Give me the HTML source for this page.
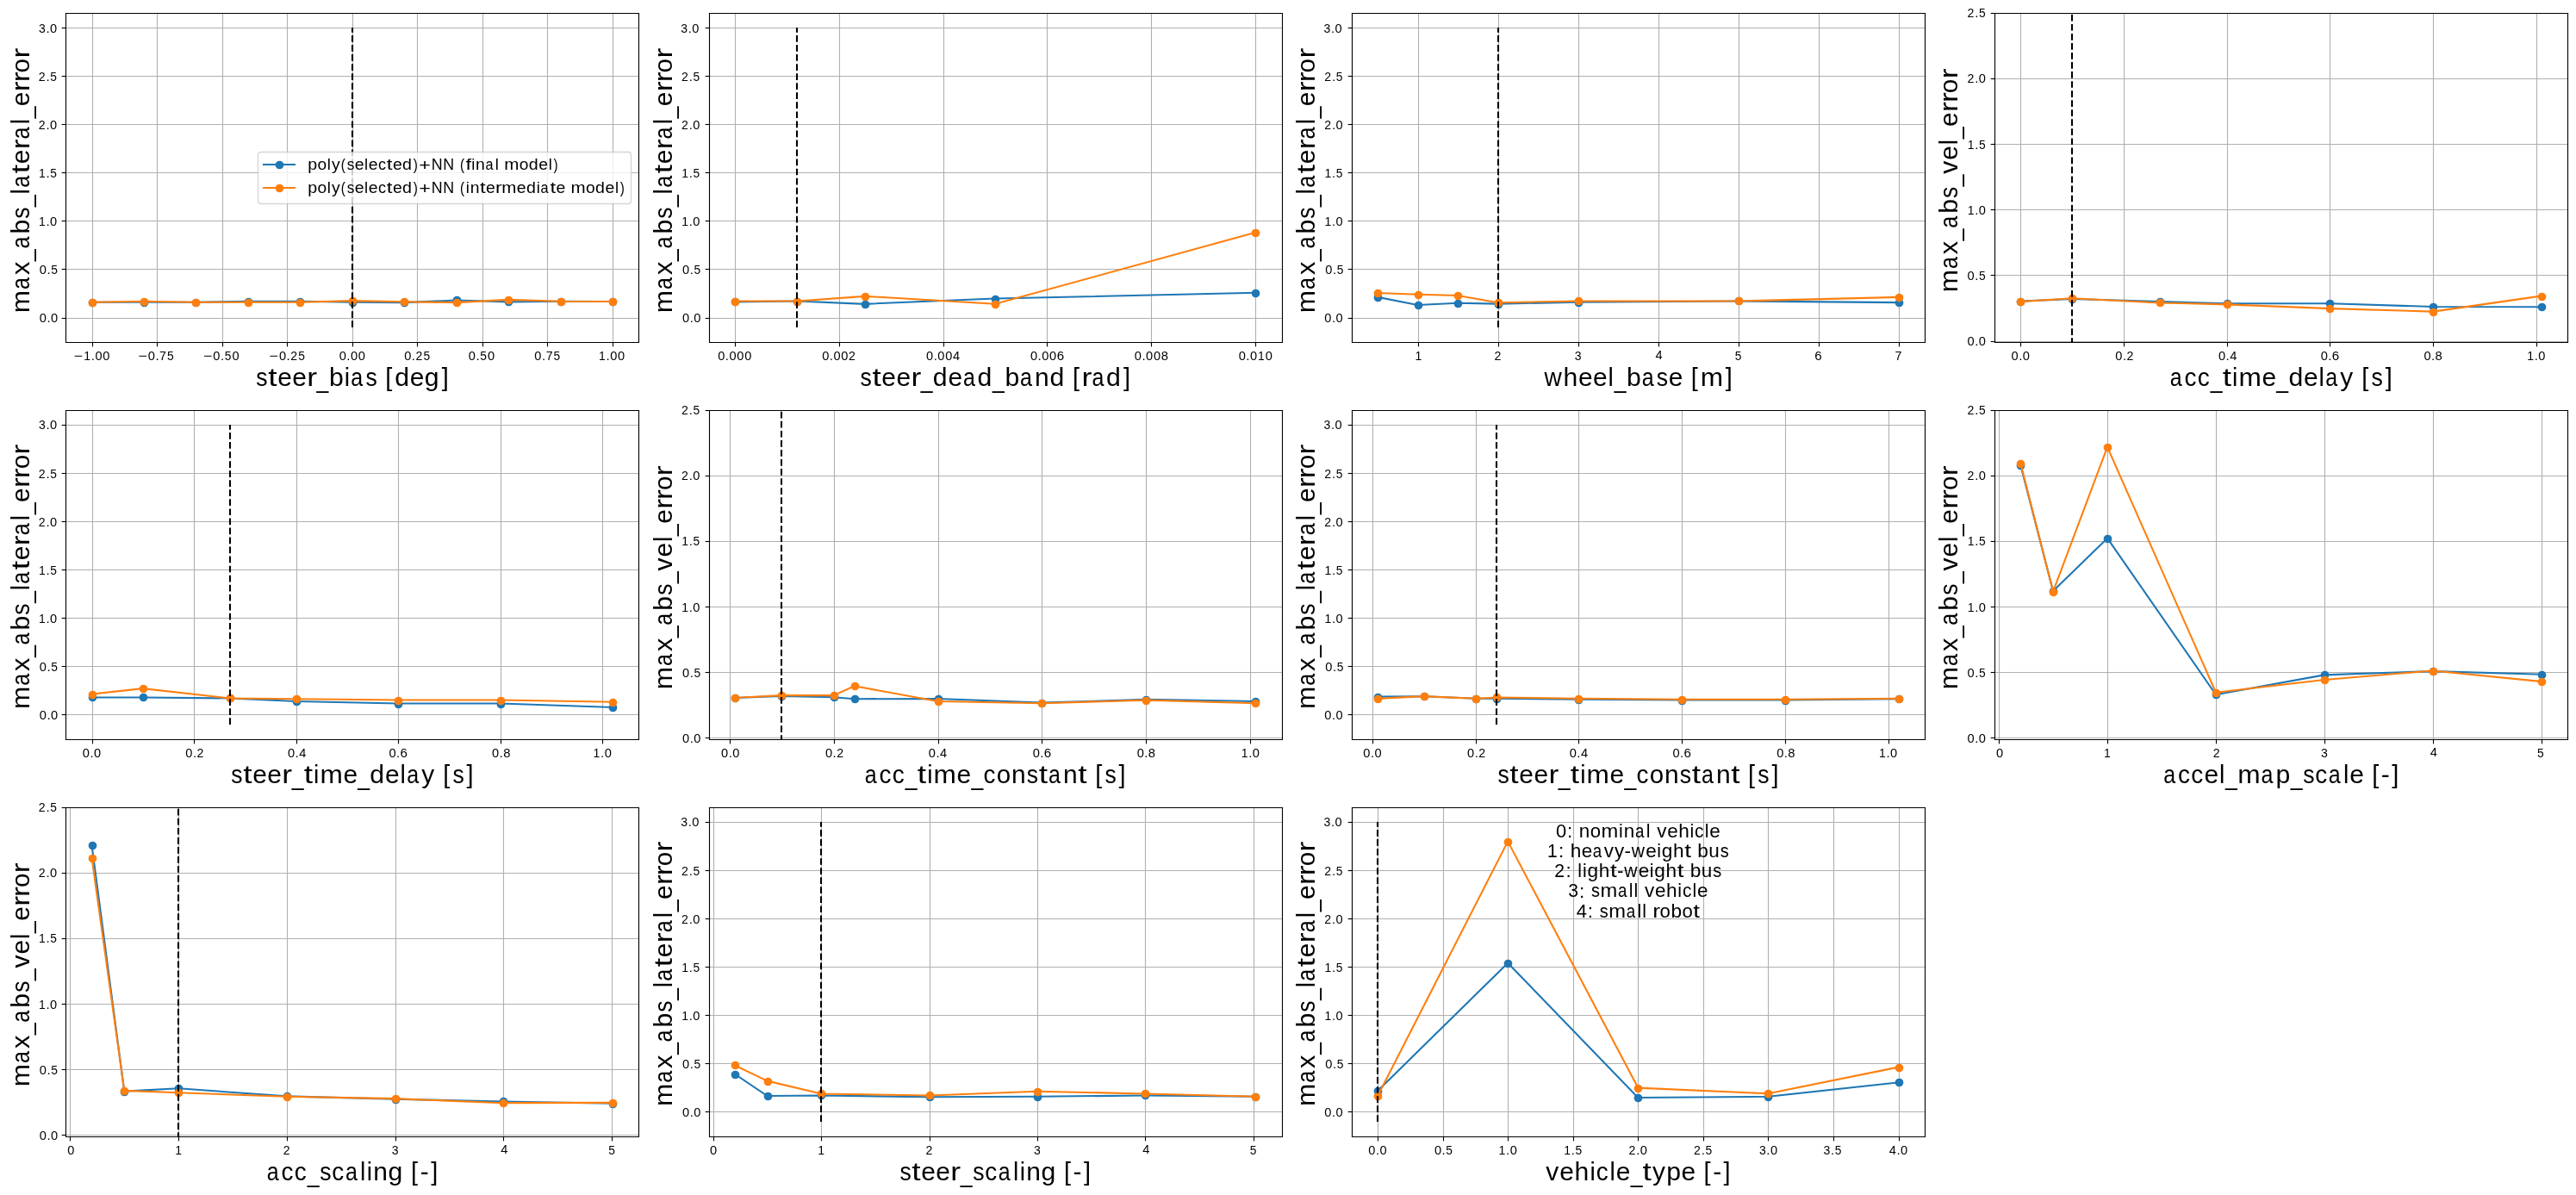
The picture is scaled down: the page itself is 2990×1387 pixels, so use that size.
<!DOCTYPE html>
<html><head><meta charset="utf-8"><title>Sensitivity plots</title>
<style>html,body{margin:0;padding:0;background:#fff;}svg{display:block;}svg{will-change:transform}</style>
</head><body>
<svg width="2990" height="1387" viewBox="0 0 2152.8 998.64" version="1.1">
<defs>
<style type="text/css">*{stroke-linejoin: round; stroke-linecap: butt}</style>
</defs>
<g id="figure_1">
<g id="patch_1">
<path d="M 0 998.64
L 2152.8 998.64
L 2152.8 0
L 0 0
z
" style="fill: #ffffff"/>
</g>
<g id="axes_1">
<g id="patch_2">
<path d="M 54.936 285.9336
L 533.7144 285.9336
L 533.7144 10.6056
L 54.936 10.6056
z
" style="fill: #ffffff"/>
</g>
<g id="matplotlib.axis_1">
<g id="xtick_1">
<g id="line2d_1">
<path d="M 77.4 286.2 L 77.4 11.16" clip-path="url(#pb34036a975)" style="fill: none; stroke: #b0b0b0; stroke-width: 0.8; stroke-linecap: square"/>
</g>
<g id="line2d_2">
<defs>
<path id="m1504cfccaf" d="M 0 0
L 0 3.5
" style="stroke: #000000; stroke-width: 0.8"/>
</defs>
<g>
<use href="#m1504cfccaf" x="77.4" y="286.2" style="stroke: #000000; stroke-width: 0.8"/>
</g>
</g>
<g id="text_1">
<text style="font-size: 10.600px; font-family: 'Liberation Sans', sans-serif" transform="translate(76.6987 300.8536)" y="0"><tspan x="-14.8981" dy="0.195" textLength="7.5243" lengthAdjust="spacingAndGlyphs">−</tspan><tspan x="-6.6116" dy="-0.195" textLength="5.5993" lengthAdjust="spacingAndGlyphs">1</tspan><tspan x="-0.4997" textLength="3.0063" lengthAdjust="spacingAndGlyphs">.</tspan><tspan x="2.8451" textLength="5.8626" lengthAdjust="spacingAndGlyphs">0</tspan><tspan x="9.2074" textLength="5.8626" lengthAdjust="spacingAndGlyphs">0</tspan></text>
</g>
</g>
<g id="xtick_2">
<g id="line2d_3">
<path d="M 131.4 286.2 L 131.4 11.16" clip-path="url(#pb34036a975)" style="fill: none; stroke: #b0b0b0; stroke-width: 0.8; stroke-linecap: square"/>
</g>
<g id="line2d_4">
<g>
<use href="#m1504cfccaf" x="131.4" y="286.2" style="stroke: #000000; stroke-width: 0.8"/>
</g>
</g>
<g id="text_2">
<text style="font-size: 10.600px; font-family: 'Liberation Sans', sans-serif" transform="translate(130.3853 300.8536)" y="0"><tspan x="-14.8981" dy="0.195" textLength="7.5243" lengthAdjust="spacingAndGlyphs">−</tspan><tspan x="-6.696" dy="-0.195" textLength="5.8626" lengthAdjust="spacingAndGlyphs">0</tspan><tspan x="-0.4997" textLength="3.0063" lengthAdjust="spacingAndGlyphs">.</tspan><tspan x="2.8893" textLength="5.7348" lengthAdjust="spacingAndGlyphs">7</tspan><tspan x="9.3331" textLength="5.5329" lengthAdjust="spacingAndGlyphs">5</tspan></text>
</g>
</g>
<g id="xtick_3">
<g id="line2d_5">
<path d="M 186.12 286.2 L 186.12 11.16" clip-path="url(#pb34036a975)" style="fill: none; stroke: #b0b0b0; stroke-width: 0.8; stroke-linecap: square"/>
</g>
<g id="line2d_6">
<g>
<use href="#m1504cfccaf" x="186.12" y="286.2" style="stroke: #000000; stroke-width: 0.8"/>
</g>
</g>
<g id="text_3">
<text style="font-size: 10.600px; font-family: 'Liberation Sans', sans-serif" transform="translate(184.7919 300.8536)" y="0"><tspan x="-14.8981" dy="0.195" textLength="7.5243" lengthAdjust="spacingAndGlyphs">−</tspan><tspan x="-6.696" dy="-0.195" textLength="5.8626" lengthAdjust="spacingAndGlyphs">0</tspan><tspan x="-0.4997" textLength="3.0063" lengthAdjust="spacingAndGlyphs">.</tspan><tspan x="2.9708" textLength="5.5329" lengthAdjust="spacingAndGlyphs">5</tspan><tspan x="9.2074" textLength="5.8626" lengthAdjust="spacingAndGlyphs">0</tspan></text>
</g>
</g>
<g id="xtick_4">
<g id="line2d_7">
<path d="M 240.12 286.2 L 240.12 11.16" clip-path="url(#pb34036a975)" style="fill: none; stroke: #b0b0b0; stroke-width: 0.8; stroke-linecap: square"/>
</g>
<g id="line2d_8">
<g>
<use href="#m1504cfccaf" x="240.12" y="286.2" style="stroke: #000000; stroke-width: 0.8"/>
</g>
</g>
<g id="text_4">
<text style="font-size: 10.600px; font-family: 'Liberation Sans', sans-serif" transform="translate(239.9186 300.8536)" y="0"><tspan x="-14.8981" dy="0.195" textLength="7.5243" lengthAdjust="spacingAndGlyphs">−</tspan><tspan x="-6.696" dy="-0.195" textLength="5.8626" lengthAdjust="spacingAndGlyphs">0</tspan><tspan x="-0.4997" textLength="3.0063" lengthAdjust="spacingAndGlyphs">.</tspan><tspan x="2.8191" textLength="5.6509" lengthAdjust="spacingAndGlyphs">2</tspan><tspan x="9.3331" textLength="5.5329" lengthAdjust="spacingAndGlyphs">5</tspan></text>
</g>
</g>
<g id="xtick_5">
<g id="line2d_9">
<path d="M 294.84 286.2 L 294.84 11.16" clip-path="url(#pb34036a975)" style="fill: none; stroke: #b0b0b0; stroke-width: 0.8; stroke-linecap: square"/>
</g>
<g id="line2d_10">
<g>
<use href="#m1504cfccaf" x="294.84" y="286.2" style="stroke: #000000; stroke-width: 0.8"/>
</g>
</g>
<g id="text_5">
<text style="font-size: 10.600px; font-family: 'Liberation Sans', sans-serif" transform="translate(294.3252 300.8536)" y="0"><tspan x="-10.8854" textLength="5.8626" lengthAdjust="spacingAndGlyphs">0</tspan><tspan x="-4.6892" textLength="3.0063" lengthAdjust="spacingAndGlyphs">.</tspan><tspan x="-1.3444" textLength="5.8626" lengthAdjust="spacingAndGlyphs">0</tspan><tspan x="5.0179" textLength="5.8626" lengthAdjust="spacingAndGlyphs">0</tspan></text>
</g>
</g>
<g id="xtick_6">
<g id="line2d_11">
<path d="M 348.84 286.2 L 348.84 11.16" clip-path="url(#pb34036a975)" style="fill: none; stroke: #b0b0b0; stroke-width: 0.8; stroke-linecap: square"/>
</g>
<g id="line2d_12">
<g>
<use href="#m1504cfccaf" x="348.84" y="286.2" style="stroke: #000000; stroke-width: 0.8"/>
</g>
</g>
<g id="text_6">
<text style="font-size: 10.600px; font-family: 'Liberation Sans', sans-serif" transform="translate(348.7318 300.8536)" y="0"><tspan x="-10.8854" textLength="5.8626" lengthAdjust="spacingAndGlyphs">0</tspan><tspan x="-4.6892" textLength="3.0063" lengthAdjust="spacingAndGlyphs">.</tspan><tspan x="-1.3704" textLength="5.6509" lengthAdjust="spacingAndGlyphs">2</tspan><tspan x="5.1437" textLength="5.5329" lengthAdjust="spacingAndGlyphs">5</tspan></text>
</g>
</g>
<g id="xtick_7">
<g id="line2d_13">
<path d="M 403.56 286.2 L 403.56 11.16" clip-path="url(#pb34036a975)" style="fill: none; stroke: #b0b0b0; stroke-width: 0.8; stroke-linecap: square"/>
</g>
<g id="line2d_14">
<g>
<use href="#m1504cfccaf" x="403.56" y="286.2" style="stroke: #000000; stroke-width: 0.8"/>
</g>
</g>
<g id="text_7">
<text style="font-size: 10.600px; font-family: 'Liberation Sans', sans-serif" transform="translate(402.4185 300.8536)" y="0"><tspan x="-10.8854" textLength="5.8626" lengthAdjust="spacingAndGlyphs">0</tspan><tspan x="-4.6892" textLength="3.0063" lengthAdjust="spacingAndGlyphs">.</tspan><tspan x="-1.2186" textLength="5.5329" lengthAdjust="spacingAndGlyphs">5</tspan><tspan x="5.0179" textLength="5.8626" lengthAdjust="spacingAndGlyphs">0</tspan></text>
</g>
</g>
<g id="xtick_8">
<g id="line2d_15">
<path d="M 457.56 286.2 L 457.56 11.16" clip-path="url(#pb34036a975)" style="fill: none; stroke: #b0b0b0; stroke-width: 0.8; stroke-linecap: square"/>
</g>
<g id="line2d_16">
<g>
<use href="#m1504cfccaf" x="457.56" y="286.2" style="stroke: #000000; stroke-width: 0.8"/>
</g>
</g>
<g id="text_8">
<text style="font-size: 10.600px; font-family: 'Liberation Sans', sans-serif" transform="translate(457.5451 300.8536)" y="0"><tspan x="-10.8854" textLength="5.8626" lengthAdjust="spacingAndGlyphs">0</tspan><tspan x="-4.6892" textLength="3.0063" lengthAdjust="spacingAndGlyphs">.</tspan><tspan x="-1.3001" textLength="5.7348" lengthAdjust="spacingAndGlyphs">7</tspan><tspan x="5.1437" textLength="5.5329" lengthAdjust="spacingAndGlyphs">5</tspan></text>
</g>
</g>
<g id="xtick_9">
<g id="line2d_17">
<path d="M 512.28 286.2 L 512.28 11.16" clip-path="url(#pb34036a975)" style="fill: none; stroke: #b0b0b0; stroke-width: 0.8; stroke-linecap: square"/>
</g>
<g id="line2d_18">
<g>
<use href="#m1504cfccaf" x="512.28" y="286.2" style="stroke: #000000; stroke-width: 0.8"/>
</g>
</g>
<g id="text_9">
<text style="font-size: 10.600px; font-family: 'Liberation Sans', sans-serif" transform="translate(511.2317 300.8536)" y="0"><tspan x="-10.8011" textLength="5.5993" lengthAdjust="spacingAndGlyphs">1</tspan><tspan x="-4.6892" textLength="3.0063" lengthAdjust="spacingAndGlyphs">.</tspan><tspan x="-1.3444" textLength="5.8626" lengthAdjust="spacingAndGlyphs">0</tspan><tspan x="5.0179" textLength="5.8626" lengthAdjust="spacingAndGlyphs">0</tspan></text>
</g>
</g>
<g id="text_10">
<text style="font-size: 21.200px; font-family: 'Liberation Sans', sans-serif" transform="translate(294.3252 322.8536)" y="0"><tspan x="-80.2894" textLength="9.5857" lengthAdjust="spacingAndGlyphs">s</tspan><tspan x="-70.2874" textLength="7.4266" lengthAdjust="spacingAndGlyphs">t</tspan><tspan x="-62.3923" textLength="12.0143" lengthAdjust="spacingAndGlyphs">e</tspan><tspan x="-50.0876" textLength="12.0143" lengthAdjust="spacingAndGlyphs">e</tspan><tspan x="-37.854" textLength="8.5333" lengthAdjust="spacingAndGlyphs">r</tspan><tspan x="-29.6714" dy="1.44" textLength="9.9203" lengthAdjust="spacingAndGlyphs">_</tspan><tspan x="-19.3321" dy="-1.44" textLength="12.1013" lengthAdjust="spacingAndGlyphs">b</tspan><tspan x="-6.5336" textLength="4.5421" lengthAdjust="spacingAndGlyphs">i</tspan><tspan x="-1.057" textLength="10.0023" lengthAdjust="spacingAndGlyphs">a</tspan><tspan x="11.3121" textLength="9.5857" lengthAdjust="spacingAndGlyphs">s</tspan><tspan> </tspan><tspan x="27.7725" dy="-0.3991" textLength="5.7887" lengthAdjust="spacingAndGlyphs">[</tspan><tspan x="35.5325" dy="0.3991" textLength="12.0892" lengthAdjust="spacingAndGlyphs">d</tspan><tspan x="48.2229" textLength="12.0143" lengthAdjust="spacingAndGlyphs">e</tspan><tspan x="60.5325" textLength="12.0892" lengthAdjust="spacingAndGlyphs">g</tspan><tspan x="74.8177" dy="-0.3991" textLength="5.7887" lengthAdjust="spacingAndGlyphs">]</tspan></text>
</g>
</g>
<g id="matplotlib.axis_2">
<g id="ytick_1">
<g id="line2d_19">
<path d="M 55.08 266.04 L 533.88 266.04" clip-path="url(#pb34036a975)" style="fill: none; stroke: #b0b0b0; stroke-width: 0.8; stroke-linecap: square"/>
</g>
<g id="line2d_20">
<defs>
<path id="m5d545ce8f8" d="M 0 0
L -3.5 0
" style="stroke: #000000; stroke-width: 0.8"/>
</defs>
<g>
<use href="#m5d545ce8f8" x="55.08" y="266.04" style="stroke: #000000; stroke-width: 0.8"/>
</g>
</g>
<g id="text_11">
<text style="font-size: 10.600px; font-family: 'Liberation Sans', sans-serif" transform="translate(48.656 269.3046)" y="0"><tspan x="-15.6559" textLength="5.8626" lengthAdjust="spacingAndGlyphs">0</tspan><tspan x="-9.4597" textLength="3.0063" lengthAdjust="spacingAndGlyphs">.</tspan><tspan x="-6.1149" textLength="5.8626" lengthAdjust="spacingAndGlyphs">0</tspan></text>
</g>
</g>
<g id="ytick_2">
<g id="line2d_21">
<path d="M 55.08 225 L 533.88 225" clip-path="url(#pb34036a975)" style="fill: none; stroke: #b0b0b0; stroke-width: 0.8; stroke-linecap: square"/>
</g>
<g id="line2d_22">
<g>
<use href="#m5d545ce8f8" x="55.08" y="225" style="stroke: #000000; stroke-width: 0.8"/>
</g>
</g>
<g id="text_12">
<text style="font-size: 10.600px; font-family: 'Liberation Sans', sans-serif" transform="translate(48.656 228.9339)" y="0"><tspan x="-15.6559" textLength="5.8626" lengthAdjust="spacingAndGlyphs">0</tspan><tspan x="-9.4597" textLength="3.0063" lengthAdjust="spacingAndGlyphs">.</tspan><tspan x="-5.9891" textLength="5.5329" lengthAdjust="spacingAndGlyphs">5</tspan></text>
</g>
</g>
<g id="ytick_3">
<g id="line2d_23">
<path d="M 55.08 184.68 L 533.88 184.68" clip-path="url(#pb34036a975)" style="fill: none; stroke: #b0b0b0; stroke-width: 0.8; stroke-linecap: square"/>
</g>
<g id="line2d_24">
<g>
<use href="#m5d545ce8f8" x="55.08" y="184.68" style="stroke: #000000; stroke-width: 0.8"/>
</g>
</g>
<g id="text_13">
<text style="font-size: 10.600px; font-family: 'Liberation Sans', sans-serif" transform="translate(47.936 188.5632)" y="0"><tspan x="-15.5716" textLength="5.5993" lengthAdjust="spacingAndGlyphs">1</tspan><tspan x="-9.4597" textLength="3.0063" lengthAdjust="spacingAndGlyphs">.</tspan><tspan x="-6.1149" textLength="5.8626" lengthAdjust="spacingAndGlyphs">0</tspan></text>
</g>
</g>
<g id="ytick_4">
<g id="line2d_25">
<path d="M 55.08 144.36 L 533.88 144.36" clip-path="url(#pb34036a975)" style="fill: none; stroke: #b0b0b0; stroke-width: 0.8; stroke-linecap: square"/>
</g>
<g id="line2d_26">
<g>
<use href="#m5d545ce8f8" x="55.08" y="144.36" style="stroke: #000000; stroke-width: 0.8"/>
</g>
</g>
<g id="text_14">
<text style="font-size: 10.600px; font-family: 'Liberation Sans', sans-serif" transform="translate(47.936 148.1925)" y="0"><tspan x="-15.5716" textLength="5.5993" lengthAdjust="spacingAndGlyphs">1</tspan><tspan x="-9.4597" textLength="3.0063" lengthAdjust="spacingAndGlyphs">.</tspan><tspan x="-5.9891" textLength="5.5329" lengthAdjust="spacingAndGlyphs">5</tspan></text>
</g>
</g>
<g id="ytick_5">
<g id="line2d_27">
<path d="M 55.08 104.04 L 533.88 104.04" clip-path="url(#pb34036a975)" style="fill: none; stroke: #b0b0b0; stroke-width: 0.8; stroke-linecap: square"/>
</g>
<g id="line2d_28">
<g>
<use href="#m5d545ce8f8" x="55.08" y="104.04" style="stroke: #000000; stroke-width: 0.8"/>
</g>
</g>
<g id="text_15">
<text style="font-size: 10.600px; font-family: 'Liberation Sans', sans-serif" transform="translate(47.936 107.8219)" y="0"><tspan x="-15.6819" textLength="5.6509" lengthAdjust="spacingAndGlyphs">2</tspan><tspan x="-9.4597" textLength="3.0063" lengthAdjust="spacingAndGlyphs">.</tspan><tspan x="-6.1149" textLength="5.8626" lengthAdjust="spacingAndGlyphs">0</tspan></text>
</g>
</g>
<g id="ytick_6">
<g id="line2d_29">
<path d="M 55.08 63.72 L 533.88 63.72" clip-path="url(#pb34036a975)" style="fill: none; stroke: #b0b0b0; stroke-width: 0.8; stroke-linecap: square"/>
</g>
<g id="line2d_30">
<g>
<use href="#m5d545ce8f8" x="55.08" y="63.72" style="stroke: #000000; stroke-width: 0.8"/>
</g>
</g>
<g id="text_16">
<text style="font-size: 10.600px; font-family: 'Liberation Sans', sans-serif" transform="translate(47.936 67.4512)" y="0"><tspan x="-15.6819" textLength="5.6509" lengthAdjust="spacingAndGlyphs">2</tspan><tspan x="-9.4597" textLength="3.0063" lengthAdjust="spacingAndGlyphs">.</tspan><tspan x="-5.9891" textLength="5.5329" lengthAdjust="spacingAndGlyphs">5</tspan></text>
</g>
</g>
<g id="ytick_7">
<g id="line2d_31">
<path d="M 55.08 23.4 L 533.88 23.4" clip-path="url(#pb34036a975)" style="fill: none; stroke: #b0b0b0; stroke-width: 0.8; stroke-linecap: square"/>
</g>
<g id="line2d_32">
<g>
<use href="#m5d545ce8f8" x="55.08" y="23.4" style="stroke: #000000; stroke-width: 0.8"/>
</g>
</g>
<g id="text_17">
<text style="font-size: 10.600px; font-family: 'Liberation Sans', sans-serif" transform="translate(47.936 27.0805)" y="0"><tspan x="-15.5272" textLength="5.6303" lengthAdjust="spacingAndGlyphs">3</tspan><tspan x="-9.4597" textLength="3.0063" lengthAdjust="spacingAndGlyphs">.</tspan><tspan x="-6.1149" textLength="5.8626" lengthAdjust="spacingAndGlyphs">0</tspan></text>
</g>
</g>
<g id="text_18">
<text style="font-size: 21.200px; font-family: 'Liberation Sans', sans-serif" transform="translate(24.48 151.1496) rotate(-90)" y="0"><tspan x="-110.3335" textLength="18.9821" lengthAdjust="spacingAndGlyphs">m</tspan><tspan x="-90.7171" textLength="10.0023" lengthAdjust="spacingAndGlyphs">a</tspan><tspan x="-78.5714" textLength="11.093" lengthAdjust="spacingAndGlyphs">x</tspan><tspan x="-66.9878" dy="1.44" textLength="9.9203" lengthAdjust="spacingAndGlyphs">_</tspan><tspan x="-56.6253" dy="-1.44" textLength="10.0023" lengthAdjust="spacingAndGlyphs">a</tspan><tspan x="-44.3927" textLength="12.1013" lengthAdjust="spacingAndGlyphs">b</tspan><tspan x="-31.5609" textLength="9.5857" lengthAdjust="spacingAndGlyphs">s</tspan><tspan x="-21.6167" dy="1.44" textLength="9.9203" lengthAdjust="spacingAndGlyphs">_</tspan><tspan x="-11.1842" dy="-1.44" textLength="4.5421" lengthAdjust="spacingAndGlyphs">l</tspan><tspan x="-5.6976" textLength="10.0023" lengthAdjust="spacingAndGlyphs">a</tspan><tspan x="6.2536" textLength="7.4266" lengthAdjust="spacingAndGlyphs">t</tspan><tspan x="14.1487" textLength="12.0143" lengthAdjust="spacingAndGlyphs">e</tspan><tspan x="26.3823" textLength="8.5333" lengthAdjust="spacingAndGlyphs">r</tspan><tspan x="34.9274" textLength="10.0023" lengthAdjust="spacingAndGlyphs">a</tspan><tspan x="47.2533" textLength="4.5421" lengthAdjust="spacingAndGlyphs">l</tspan><tspan x="52.3774" dy="1.44" textLength="9.9203" lengthAdjust="spacingAndGlyphs">_</tspan><tspan x="62.4886" dy="-1.44" textLength="12.0143" lengthAdjust="spacingAndGlyphs">e</tspan><tspan x="74.7222" textLength="8.5333" lengthAdjust="spacingAndGlyphs">r</tspan><tspan x="82.5698" textLength="8.5333" lengthAdjust="spacingAndGlyphs">r</tspan><tspan x="90.3884" textLength="11.8247" lengthAdjust="spacingAndGlyphs">o</tspan><tspan x="102.5288" textLength="8.5333" lengthAdjust="spacingAndGlyphs">r</tspan></text>
</g>
</g>
<g id="line2d_33">
<path d="M 76.698655 252.587423
L 120.223964 252.587423
L 163.749273 252.587423
L 207.274582 251.860751
L 250.799891 251.860751
L 294.3252 252.587423
L 337.850509 252.829647
L 381.375818 250.891855
L 424.901127 252.264457
L 468.426436 251.860751
L 511.951745 252.022233
" clip-path="url(#pb34036a975)" style="fill: none; stroke: #1f77b4; stroke-width: 1.5; stroke-linecap: square"/>
<defs>
<path id="mf14c53ed57" d="M 0 3
C 0.795609 3 1.55874 2.683901 2.12132 2.12132
C 2.683901 1.55874 3 0.795609 3 0
C 3 -0.795609 2.683901 -1.55874 2.12132 -2.12132
C 1.55874 -2.683901 0.795609 -3 0 -3
C -0.795609 -3 -1.55874 -2.683901 -2.12132 -2.12132
C -2.683901 -1.55874 -3 -0.795609 -3 0
C -3 0.795609 -2.683901 1.55874 -2.12132 2.12132
C -1.55874 2.683901 -0.795609 3 0 3
z
" style="stroke: #1f77b4"/>
</defs>
<g clip-path="url(#pb34036a975)">
<use href="#mf14c53ed57" x="77.4" y="253.08" style="fill: #1f77b4; stroke: #1f77b4"/>
<use href="#mf14c53ed57" x="120.6" y="253.08" style="fill: #1f77b4; stroke: #1f77b4"/>
<use href="#mf14c53ed57" x="163.8" y="253.08" style="fill: #1f77b4; stroke: #1f77b4"/>
<use href="#mf14c53ed57" x="207.72" y="252.36" style="fill: #1f77b4; stroke: #1f77b4"/>
<use href="#mf14c53ed57" x="250.92" y="252.36" style="fill: #1f77b4; stroke: #1f77b4"/>
<use href="#mf14c53ed57" x="294.84" y="253.08" style="fill: #1f77b4; stroke: #1f77b4"/>
<use href="#mf14c53ed57" x="338.04" y="253.08" style="fill: #1f77b4; stroke: #1f77b4"/>
<use href="#mf14c53ed57" x="381.96" y="250.92" style="fill: #1f77b4; stroke: #1f77b4"/>
<use href="#mf14c53ed57" x="425.16" y="252.36" style="fill: #1f77b4; stroke: #1f77b4"/>
<use href="#mf14c53ed57" x="469.08" y="252.36" style="fill: #1f77b4; stroke: #1f77b4"/>
<use href="#mf14c53ed57" x="512.28" y="252.36" style="fill: #1f77b4; stroke: #1f77b4"/>
</g>
</g>
<g id="line2d_34">
<path d="M 76.698655 252.587423
L 120.223964 251.860751
L 163.749273 252.587423
L 207.274582 252.587423
L 250.799891 252.587423
L 294.3252 251.376303
L 337.850509 252.183716
L 381.375818 252.829647
L 424.901127 250.488148
L 468.426436 251.860751
L 511.951745 252.022233
" clip-path="url(#pb34036a975)" style="fill: none; stroke: #ff7f0e; stroke-width: 1.5; stroke-linecap: square"/>
<defs>
<path id="mcd47077251" d="M 0 3
C 0.795609 3 1.55874 2.683901 2.12132 2.12132
C 2.683901 1.55874 3 0.795609 3 0
C 3 -0.795609 2.683901 -1.55874 2.12132 -2.12132
C 1.55874 -2.683901 0.795609 -3 0 -3
C -0.795609 -3 -1.55874 -2.683901 -2.12132 -2.12132
C -2.683901 -1.55874 -3 -0.795609 -3 0
C -3 0.795609 -2.683901 1.55874 -2.12132 2.12132
C -1.55874 2.683901 -0.795609 3 0 3
z
" style="stroke: #ff7f0e"/>
</defs>
<g clip-path="url(#pb34036a975)">
<use href="#mcd47077251" x="77.4" y="253.08" style="fill: #ff7f0e; stroke: #ff7f0e"/>
<use href="#mcd47077251" x="120.6" y="252.36" style="fill: #ff7f0e; stroke: #ff7f0e"/>
<use href="#mcd47077251" x="163.8" y="253.08" style="fill: #ff7f0e; stroke: #ff7f0e"/>
<use href="#mcd47077251" x="207.72" y="253.08" style="fill: #ff7f0e; stroke: #ff7f0e"/>
<use href="#mcd47077251" x="250.92" y="253.08" style="fill: #ff7f0e; stroke: #ff7f0e"/>
<use href="#mcd47077251" x="294.84" y="251.64" style="fill: #ff7f0e; stroke: #ff7f0e"/>
<use href="#mcd47077251" x="338.04" y="252.36" style="fill: #ff7f0e; stroke: #ff7f0e"/>
<use href="#mcd47077251" x="381.96" y="253.08" style="fill: #ff7f0e; stroke: #ff7f0e"/>
<use href="#mcd47077251" x="425.16" y="250.92" style="fill: #ff7f0e; stroke: #ff7f0e"/>
<use href="#mcd47077251" x="469.08" y="252.36" style="fill: #ff7f0e; stroke: #ff7f0e"/>
<use href="#mcd47077251" x="512.28" y="252.36" style="fill: #ff7f0e; stroke: #ff7f0e"/>
</g>
</g>
<g id="line2d_35">
<path d="M 294.48 273.6 L 294.48 23.04" clip-path="url(#pb34036a975)" style="fill: none; stroke-dasharray: 5.55,2.4; stroke-dashoffset: 0; stroke: #000000; stroke-width: 1.5"/>
</g>
<g id="patch_3">
<path d="M 55.08 286.2 L 55.08 11.16" style="fill: none; stroke: #000000; stroke-width: 0.8; stroke-linejoin: miter; stroke-linecap: square"/>
</g>
<g id="patch_4">
<path d="M 533.88 286.2 L 533.88 11.16" style="fill: none; stroke: #000000; stroke-width: 0.8; stroke-linejoin: miter; stroke-linecap: square"/>
</g>
<g id="patch_5">
<path d="M 55.08 286.2 L 533.88 286.2" style="fill: none; stroke: #000000; stroke-width: 0.8; stroke-linejoin: miter; stroke-linecap: square"/>
</g>
<g id="patch_6">
<path d="M 55.08 11.16 L 533.88 11.16" style="fill: none; stroke: #000000; stroke-width: 0.8; stroke-linejoin: miter; stroke-linecap: square"/>
</g>
<g id="legend_1">
<g id="patch_7">
<path d="M 218.52 170.28 L 525.24 170.28 Q 527.4 170.28 527.4 167.4 L 527.4 129.96 Q 527.4 127.08 525.24 127.08 L 218.52 127.08 Q 215.64 127.08 215.64 129.96 L 215.64 167.4 Q 215.64 170.28 218.52 170.28 z" style="fill: #ffffff; opacity: 0.8; stroke: #cccccc; stroke-linejoin: miter"/>
</g>
<g id="line2d_36">
<path d="M 220.32 137.52 L 233.28 137.52 L 246.24 137.52" style="fill: none; stroke: #1f77b4; stroke-width: 1.5; stroke-linecap: square"/>
<g>
<use href="#mf14c53ed57" x="233.64" y="137.88" style="fill: #1f77b4; stroke: #1f77b4"/>
</g>
</g>
<g id="text_19">
<text style="font-size: 13.780px; font-family: 'Liberation Sans', sans-serif" transform="translate(256.9644 142.1396)" y="0"><tspan x="0.2691" textLength="7.8658" lengthAdjust="spacingAndGlyphs">p</tspan><tspan x="8.3889" textLength="7.6861" lengthAdjust="spacingAndGlyphs">o</tspan><tspan x="16.5352" textLength="2.9524" lengthAdjust="spacingAndGlyphs">l</tspan><tspan x="20.1705" textLength="6.9803" lengthAdjust="spacingAndGlyphs">y</tspan><tspan x="27.9465" dy="-0.2545" textLength="3.6594" lengthAdjust="spacingAndGlyphs">(</tspan><tspan x="32.9403" dy="0.2545" textLength="6.2307" lengthAdjust="spacingAndGlyphs">s</tspan><tspan x="39.4763" textLength="7.8093" lengthAdjust="spacingAndGlyphs">e</tspan><tspan x="47.6832" textLength="2.9524" lengthAdjust="spacingAndGlyphs">l</tspan><tspan x="51.0861" textLength="7.8093" lengthAdjust="spacingAndGlyphs">e</tspan><tspan x="59.1265" textLength="6.5221" lengthAdjust="spacingAndGlyphs">c</tspan><tspan x="66.197" textLength="4.8273" lengthAdjust="spacingAndGlyphs">t</tspan><tspan x="71.3288" textLength="7.8093" lengthAdjust="spacingAndGlyphs">e</tspan><tspan x="79.33" textLength="7.858" lengthAdjust="spacingAndGlyphs">d</tspan><tspan x="88.4346" dy="-0.2545" textLength="3.6594" lengthAdjust="spacingAndGlyphs">)</tspan><tspan x="93.0894" dy="0.508" textLength="9.7816" lengthAdjust="spacingAndGlyphs">+</tspan><tspan x="103.6449" dy="-0.2535" textLength="9.2733" lengthAdjust="spacingAndGlyphs">N</tspan><tspan x="113.3695" textLength="9.2733" lengthAdjust="spacingAndGlyphs">N</tspan><tspan> </tspan><tspan x="127.4397" dy="-0.2545" textLength="3.6594" lengthAdjust="spacingAndGlyphs">(</tspan><tspan x="132.1323" dy="0.2545" textLength="4.7426" lengthAdjust="spacingAndGlyphs">f</tspan><tspan x="136.9885" textLength="2.9524" lengthAdjust="spacingAndGlyphs">i</tspan><tspan x="140.5141" textLength="7.7951" lengthAdjust="spacingAndGlyphs">n</tspan><tspan x="148.7876" textLength="6.5015" lengthAdjust="spacingAndGlyphs">a</tspan><tspan x="156.7994" textLength="2.9524" lengthAdjust="spacingAndGlyphs">l</tspan><tspan> </tspan><tspan x="164.4109" textLength="12.3384" lengthAdjust="spacingAndGlyphs">m</tspan><tspan x="177.0144" textLength="7.6861" lengthAdjust="spacingAndGlyphs">o</tspan><tspan x="184.955" textLength="7.858" lengthAdjust="spacingAndGlyphs">d</tspan><tspan x="193.2038" textLength="7.8093" lengthAdjust="spacingAndGlyphs">e</tspan><tspan x="201.4107" textLength="2.9524" lengthAdjust="spacingAndGlyphs">l</tspan><tspan x="205.6695" dy="-0.2545" textLength="3.6594" lengthAdjust="spacingAndGlyphs">)</tspan></text>
</g>
<g id="line2d_37">
<path d="M 220.32 156.96 L 233.28 156.96 L 246.24 156.96" style="fill: none; stroke: #ff7f0e; stroke-width: 1.5; stroke-linecap: square"/>
<g>
<use href="#mcd47077251" x="233.64" y="157.32" style="fill: #ff7f0e; stroke: #ff7f0e"/>
</g>
</g>
<g id="text_20">
<text style="font-size: 13.780px; font-family: 'Liberation Sans', sans-serif" transform="translate(256.9644 161.5996)" y="0"><tspan x="0.2691" textLength="7.8658" lengthAdjust="spacingAndGlyphs">p</tspan><tspan x="8.3889" textLength="7.6861" lengthAdjust="spacingAndGlyphs">o</tspan><tspan x="16.5352" textLength="2.9524" lengthAdjust="spacingAndGlyphs">l</tspan><tspan x="20.1705" textLength="6.9803" lengthAdjust="spacingAndGlyphs">y</tspan><tspan x="27.9465" dy="-0.2545" textLength="3.6594" lengthAdjust="spacingAndGlyphs">(</tspan><tspan x="32.9403" dy="0.2545" textLength="6.2307" lengthAdjust="spacingAndGlyphs">s</tspan><tspan x="39.4763" textLength="7.8093" lengthAdjust="spacingAndGlyphs">e</tspan><tspan x="47.6832" textLength="2.9524" lengthAdjust="spacingAndGlyphs">l</tspan><tspan x="51.0861" textLength="7.8093" lengthAdjust="spacingAndGlyphs">e</tspan><tspan x="59.1265" textLength="6.5221" lengthAdjust="spacingAndGlyphs">c</tspan><tspan x="66.197" textLength="4.8273" lengthAdjust="spacingAndGlyphs">t</tspan><tspan x="71.3288" textLength="7.8093" lengthAdjust="spacingAndGlyphs">e</tspan><tspan x="79.33" textLength="7.858" lengthAdjust="spacingAndGlyphs">d</tspan><tspan x="88.4346" dy="-0.2545" textLength="3.6594" lengthAdjust="spacingAndGlyphs">)</tspan><tspan x="93.0894" dy="0.508" textLength="9.7816" lengthAdjust="spacingAndGlyphs">+</tspan><tspan x="103.6449" dy="-0.2535" textLength="9.2733" lengthAdjust="spacingAndGlyphs">N</tspan><tspan x="113.3695" textLength="9.2733" lengthAdjust="spacingAndGlyphs">N</tspan><tspan> </tspan><tspan x="127.4397" dy="-0.2545" textLength="3.6594" lengthAdjust="spacingAndGlyphs">(</tspan><tspan x="132.4118" dy="0.2545" textLength="2.9524" lengthAdjust="spacingAndGlyphs">i</tspan><tspan x="135.9374" textLength="7.7951" lengthAdjust="spacingAndGlyphs">n</tspan><tspan x="144.0129" textLength="4.8273" lengthAdjust="spacingAndGlyphs">t</tspan><tspan x="149.1447" textLength="7.8093" lengthAdjust="spacingAndGlyphs">e</tspan><tspan x="157.0966" textLength="5.5467" lengthAdjust="spacingAndGlyphs">r</tspan><tspan x="162.3138" textLength="12.3384" lengthAdjust="spacingAndGlyphs">m</tspan><tspan x="174.9011" textLength="7.8093" lengthAdjust="spacingAndGlyphs">e</tspan><tspan x="182.9023" textLength="7.858" lengthAdjust="spacingAndGlyphs">d</tspan><tspan x="191.3664" textLength="2.9524" lengthAdjust="spacingAndGlyphs">i</tspan><tspan x="194.9263" textLength="6.5015" lengthAdjust="spacingAndGlyphs">a</tspan><tspan x="202.6945" textLength="4.8273" lengthAdjust="spacingAndGlyphs">t</tspan><tspan x="207.8264" textLength="7.8093" lengthAdjust="spacingAndGlyphs">e</tspan><tspan> </tspan><tspan x="220.033" textLength="12.3384" lengthAdjust="spacingAndGlyphs">m</tspan><tspan x="232.6365" textLength="7.6861" lengthAdjust="spacingAndGlyphs">o</tspan><tspan x="240.5771" textLength="7.858" lengthAdjust="spacingAndGlyphs">d</tspan><tspan x="248.8259" textLength="7.8093" lengthAdjust="spacingAndGlyphs">e</tspan><tspan x="257.0328" textLength="2.9524" lengthAdjust="spacingAndGlyphs">l</tspan><tspan x="261.2916" dy="-0.2545" textLength="3.6594" lengthAdjust="spacingAndGlyphs">)</tspan></text>
</g>
</g>
</g>
<g id="axes_2">
<g id="patch_8">
<path d="M 592.236 285.9336
L 1071.0144 285.9336
L 1071.0144 10.6056
L 592.236 10.6056
z
" style="fill: #ffffff"/>
</g>
<g id="matplotlib.axis_3">
<g id="xtick_10">
<g id="line2d_38">
<path d="M 614.52 286.2 L 614.52 11.16" clip-path="url(#pd9bde08748)" style="fill: none; stroke: #b0b0b0; stroke-width: 0.8; stroke-linecap: square"/>
</g>
<g id="line2d_39">
<g>
<use href="#m1504cfccaf" x="614.52" y="286.2" style="stroke: #000000; stroke-width: 0.8"/>
</g>
</g>
<g id="text_21">
<text style="font-size: 10.600px; font-family: 'Liberation Sans', sans-serif" transform="translate(613.9987 300.8536)" y="0"><tspan x="-14.0666" textLength="5.8626" lengthAdjust="spacingAndGlyphs">0</tspan><tspan x="-7.8703" textLength="3.0063" lengthAdjust="spacingAndGlyphs">.</tspan><tspan x="-4.5255" textLength="5.8626" lengthAdjust="spacingAndGlyphs">0</tspan><tspan x="1.8368" textLength="5.8626" lengthAdjust="spacingAndGlyphs">0</tspan><tspan x="8.1991" textLength="5.8626" lengthAdjust="spacingAndGlyphs">0</tspan></text>
</g>
</g>
<g id="xtick_11">
<g id="line2d_40">
<path d="M 701.64 286.2 L 701.64 11.16" clip-path="url(#pd9bde08748)" style="fill: none; stroke: #b0b0b0; stroke-width: 0.8; stroke-linecap: square"/>
</g>
<g id="line2d_41">
<g>
<use href="#m1504cfccaf" x="701.64" y="286.2" style="stroke: #000000; stroke-width: 0.8"/>
</g>
</g>
<g id="text_22">
<text style="font-size: 10.600px; font-family: 'Liberation Sans', sans-serif" transform="translate(701.0493 300.8536)" y="0"><tspan x="-14.0666" textLength="5.8626" lengthAdjust="spacingAndGlyphs">0</tspan><tspan x="-7.8703" textLength="3.0063" lengthAdjust="spacingAndGlyphs">.</tspan><tspan x="-4.5255" textLength="5.8626" lengthAdjust="spacingAndGlyphs">0</tspan><tspan x="1.8368" textLength="5.8626" lengthAdjust="spacingAndGlyphs">0</tspan><tspan x="8.1731" textLength="5.6509" lengthAdjust="spacingAndGlyphs">2</tspan></text>
</g>
</g>
<g id="xtick_12">
<g id="line2d_42">
<path d="M 788.76 286.2 L 788.76 11.16" clip-path="url(#pd9bde08748)" style="fill: none; stroke: #b0b0b0; stroke-width: 0.8; stroke-linecap: square"/>
</g>
<g id="line2d_43">
<g>
<use href="#m1504cfccaf" x="788.76" y="286.2" style="stroke: #000000; stroke-width: 0.8"/>
</g>
</g>
<g id="text_23">
<text style="font-size: 10.600px; font-family: 'Liberation Sans', sans-serif" transform="translate(788.0999 300.8536)" y="0"><tspan x="-14.0666" textLength="5.8626" lengthAdjust="spacingAndGlyphs">0</tspan><tspan x="-7.8703" textLength="3.0063" lengthAdjust="spacingAndGlyphs">.</tspan><tspan x="-4.5255" textLength="5.8626" lengthAdjust="spacingAndGlyphs">0</tspan><tspan x="1.8368" textLength="5.8626" lengthAdjust="spacingAndGlyphs">0</tspan><tspan x="8.198" textLength="5.8633" lengthAdjust="spacingAndGlyphs">4</tspan></text>
</g>
</g>
<g id="xtick_13">
<g id="line2d_44">
<path d="M 875.16 286.2 L 875.16 11.16" clip-path="url(#pd9bde08748)" style="fill: none; stroke: #b0b0b0; stroke-width: 0.8; stroke-linecap: square"/>
</g>
<g id="line2d_45">
<g>
<use href="#m1504cfccaf" x="875.16" y="286.2" style="stroke: #000000; stroke-width: 0.8"/>
</g>
</g>
<g id="text_24">
<text style="font-size: 10.600px; font-family: 'Liberation Sans', sans-serif" transform="translate(875.1505 300.8536)" y="0"><tspan x="-14.0666" textLength="5.8626" lengthAdjust="spacingAndGlyphs">0</tspan><tspan x="-7.8703" textLength="3.0063" lengthAdjust="spacingAndGlyphs">.</tspan><tspan x="-4.5255" textLength="5.8626" lengthAdjust="spacingAndGlyphs">0</tspan><tspan x="1.8368" textLength="5.8626" lengthAdjust="spacingAndGlyphs">0</tspan><tspan x="8.0959" textLength="6.0677" lengthAdjust="spacingAndGlyphs">6</tspan></text>
</g>
</g>
<g id="xtick_14">
<g id="line2d_46">
<path d="M 962.28 286.2 L 962.28 11.16" clip-path="url(#pd9bde08748)" style="fill: none; stroke: #b0b0b0; stroke-width: 0.8; stroke-linecap: square"/>
</g>
<g id="line2d_47">
<g>
<use href="#m1504cfccaf" x="962.28" y="286.2" style="stroke: #000000; stroke-width: 0.8"/>
</g>
</g>
<g id="text_25">
<text style="font-size: 10.600px; font-family: 'Liberation Sans', sans-serif" transform="translate(962.2011 300.8536)" y="0"><tspan x="-14.0666" textLength="5.8626" lengthAdjust="spacingAndGlyphs">0</tspan><tspan x="-7.8703" textLength="3.0063" lengthAdjust="spacingAndGlyphs">.</tspan><tspan x="-4.5255" textLength="5.8626" lengthAdjust="spacingAndGlyphs">0</tspan><tspan x="1.8368" textLength="5.8626" lengthAdjust="spacingAndGlyphs">0</tspan><tspan x="8.1673" textLength="5.9261" lengthAdjust="spacingAndGlyphs">8</tspan></text>
</g>
</g>
<g id="xtick_15">
<g id="line2d_48">
<path d="M 1049.4 286.2 L 1049.4 11.16" clip-path="url(#pd9bde08748)" style="fill: none; stroke: #b0b0b0; stroke-width: 0.8; stroke-linecap: square"/>
</g>
<g id="line2d_49">
<g>
<use href="#m1504cfccaf" x="1049.4" y="286.2" style="stroke: #000000; stroke-width: 0.8"/>
</g>
</g>
<g id="text_26">
<text style="font-size: 10.600px; font-family: 'Liberation Sans', sans-serif" transform="translate(1049.2517 300.8536)" y="0"><tspan x="-14.0666" textLength="5.8626" lengthAdjust="spacingAndGlyphs">0</tspan><tspan x="-7.8703" textLength="3.0063" lengthAdjust="spacingAndGlyphs">.</tspan><tspan x="-4.5255" textLength="5.8626" lengthAdjust="spacingAndGlyphs">0</tspan><tspan x="1.9211" textLength="5.5993" lengthAdjust="spacingAndGlyphs">1</tspan><tspan x="8.1991" textLength="5.8626" lengthAdjust="spacingAndGlyphs">0</tspan></text>
</g>
</g>
<g id="text_27">
<text style="font-size: 21.200px; font-family: 'Liberation Sans', sans-serif" transform="translate(831.6252 322.8536)" y="0"><tspan x="-112.7015" textLength="9.5857" lengthAdjust="spacingAndGlyphs">s</tspan><tspan x="-102.6995" textLength="7.4266" lengthAdjust="spacingAndGlyphs">t</tspan><tspan x="-94.8044" textLength="12.0143" lengthAdjust="spacingAndGlyphs">e</tspan><tspan x="-82.4997" textLength="12.0143" lengthAdjust="spacingAndGlyphs">e</tspan><tspan x="-70.2661" textLength="8.5333" lengthAdjust="spacingAndGlyphs">r</tspan><tspan x="-62.0835" dy="1.44" textLength="9.9203" lengthAdjust="spacingAndGlyphs">_</tspan><tspan x="-51.9675" dy="-1.44" textLength="12.0892" lengthAdjust="spacingAndGlyphs">d</tspan><tspan x="-39.2771" textLength="12.0143" lengthAdjust="spacingAndGlyphs">e</tspan><tspan x="-26.721" textLength="10.0023" lengthAdjust="spacingAndGlyphs">a</tspan><tspan x="-14.7116" textLength="12.0892" lengthAdjust="spacingAndGlyphs">d</tspan><tspan x="-2.1323" dy="1.44" textLength="9.9203" lengthAdjust="spacingAndGlyphs">_</tspan><tspan x="8.2069" dy="-1.44" textLength="12.1013" lengthAdjust="spacingAndGlyphs">b</tspan><tspan x="20.9255" textLength="10.0023" lengthAdjust="spacingAndGlyphs">a</tspan><tspan x="33.1286" textLength="11.9924" lengthAdjust="spacingAndGlyphs">n</tspan><tspan x="45.6106" textLength="12.0892" lengthAdjust="spacingAndGlyphs">d</tspan><tspan> </tspan><tspan x="64.7061" dy="-0.3991" textLength="5.7887" lengthAdjust="spacingAndGlyphs">[</tspan><tspan x="72.3901" dy="0.3991" textLength="8.5333" lengthAdjust="spacingAndGlyphs">r</tspan><tspan x="80.9352" textLength="10.0023" lengthAdjust="spacingAndGlyphs">a</tspan><tspan x="92.9446" textLength="12.0892" lengthAdjust="spacingAndGlyphs">d</tspan><tspan x="107.2298" dy="-0.3991" textLength="5.7887" lengthAdjust="spacingAndGlyphs">]</tspan></text>
</g>
</g>
<g id="matplotlib.axis_4">
<g id="ytick_8">
<g id="line2d_50">
<path d="M 592.92 266.04 L 1071.72 266.04" clip-path="url(#pd9bde08748)" style="fill: none; stroke: #b0b0b0; stroke-width: 0.8; stroke-linecap: square"/>
</g>
<g id="line2d_51">
<g>
<use href="#m5d545ce8f8" x="592.92" y="266.04" style="stroke: #000000; stroke-width: 0.8"/>
</g>
</g>
<g id="text_28">
<text style="font-size: 10.600px; font-family: 'Liberation Sans', sans-serif" transform="translate(585.956 269.3046)" y="0"><tspan x="-15.6559" textLength="5.8626" lengthAdjust="spacingAndGlyphs">0</tspan><tspan x="-9.4597" textLength="3.0063" lengthAdjust="spacingAndGlyphs">.</tspan><tspan x="-6.1149" textLength="5.8626" lengthAdjust="spacingAndGlyphs">0</tspan></text>
</g>
</g>
<g id="ytick_9">
<g id="line2d_52">
<path d="M 592.92 225 L 1071.72 225" clip-path="url(#pd9bde08748)" style="fill: none; stroke: #b0b0b0; stroke-width: 0.8; stroke-linecap: square"/>
</g>
<g id="line2d_53">
<g>
<use href="#m5d545ce8f8" x="592.92" y="225" style="stroke: #000000; stroke-width: 0.8"/>
</g>
</g>
<g id="text_29">
<text style="font-size: 10.600px; font-family: 'Liberation Sans', sans-serif" transform="translate(585.956 228.9339)" y="0"><tspan x="-15.6559" textLength="5.8626" lengthAdjust="spacingAndGlyphs">0</tspan><tspan x="-9.4597" textLength="3.0063" lengthAdjust="spacingAndGlyphs">.</tspan><tspan x="-5.9891" textLength="5.5329" lengthAdjust="spacingAndGlyphs">5</tspan></text>
</g>
</g>
<g id="ytick_10">
<g id="line2d_54">
<path d="M 592.92 184.68 L 1071.72 184.68" clip-path="url(#pd9bde08748)" style="fill: none; stroke: #b0b0b0; stroke-width: 0.8; stroke-linecap: square"/>
</g>
<g id="line2d_55">
<g>
<use href="#m5d545ce8f8" x="592.92" y="184.68" style="stroke: #000000; stroke-width: 0.8"/>
</g>
</g>
<g id="text_30">
<text style="font-size: 10.600px; font-family: 'Liberation Sans', sans-serif" transform="translate(585.236 188.5632)" y="0"><tspan x="-15.5716" textLength="5.5993" lengthAdjust="spacingAndGlyphs">1</tspan><tspan x="-9.4597" textLength="3.0063" lengthAdjust="spacingAndGlyphs">.</tspan><tspan x="-6.1149" textLength="5.8626" lengthAdjust="spacingAndGlyphs">0</tspan></text>
</g>
</g>
<g id="ytick_11">
<g id="line2d_56">
<path d="M 592.92 144.36 L 1071.72 144.36" clip-path="url(#pd9bde08748)" style="fill: none; stroke: #b0b0b0; stroke-width: 0.8; stroke-linecap: square"/>
</g>
<g id="line2d_57">
<g>
<use href="#m5d545ce8f8" x="592.92" y="144.36" style="stroke: #000000; stroke-width: 0.8"/>
</g>
</g>
<g id="text_31">
<text style="font-size: 10.600px; font-family: 'Liberation Sans', sans-serif" transform="translate(585.236 148.1925)" y="0"><tspan x="-15.5716" textLength="5.5993" lengthAdjust="spacingAndGlyphs">1</tspan><tspan x="-9.4597" textLength="3.0063" lengthAdjust="spacingAndGlyphs">.</tspan><tspan x="-5.9891" textLength="5.5329" lengthAdjust="spacingAndGlyphs">5</tspan></text>
</g>
</g>
<g id="ytick_12">
<g id="line2d_58">
<path d="M 592.92 104.04 L 1071.72 104.04" clip-path="url(#pd9bde08748)" style="fill: none; stroke: #b0b0b0; stroke-width: 0.8; stroke-linecap: square"/>
</g>
<g id="line2d_59">
<g>
<use href="#m5d545ce8f8" x="592.92" y="104.04" style="stroke: #000000; stroke-width: 0.8"/>
</g>
</g>
<g id="text_32">
<text style="font-size: 10.600px; font-family: 'Liberation Sans', sans-serif" transform="translate(585.236 107.8219)" y="0"><tspan x="-15.6819" textLength="5.6509" lengthAdjust="spacingAndGlyphs">2</tspan><tspan x="-9.4597" textLength="3.0063" lengthAdjust="spacingAndGlyphs">.</tspan><tspan x="-6.1149" textLength="5.8626" lengthAdjust="spacingAndGlyphs">0</tspan></text>
</g>
</g>
<g id="ytick_13">
<g id="line2d_60">
<path d="M 592.92 63.72 L 1071.72 63.72" clip-path="url(#pd9bde08748)" style="fill: none; stroke: #b0b0b0; stroke-width: 0.8; stroke-linecap: square"/>
</g>
<g id="line2d_61">
<g>
<use href="#m5d545ce8f8" x="592.92" y="63.72" style="stroke: #000000; stroke-width: 0.8"/>
</g>
</g>
<g id="text_33">
<text style="font-size: 10.600px; font-family: 'Liberation Sans', sans-serif" transform="translate(585.236 67.4512)" y="0"><tspan x="-15.6819" textLength="5.6509" lengthAdjust="spacingAndGlyphs">2</tspan><tspan x="-9.4597" textLength="3.0063" lengthAdjust="spacingAndGlyphs">.</tspan><tspan x="-5.9891" textLength="5.5329" lengthAdjust="spacingAndGlyphs">5</tspan></text>
</g>
</g>
<g id="ytick_14">
<g id="line2d_62">
<path d="M 592.92 23.4 L 1071.72 23.4" clip-path="url(#pd9bde08748)" style="fill: none; stroke: #b0b0b0; stroke-width: 0.8; stroke-linecap: square"/>
</g>
<g id="line2d_63">
<g>
<use href="#m5d545ce8f8" x="592.92" y="23.4" style="stroke: #000000; stroke-width: 0.8"/>
</g>
</g>
<g id="text_34">
<text style="font-size: 10.600px; font-family: 'Liberation Sans', sans-serif" transform="translate(584.516 27.0805)" y="0"><tspan x="-15.5272" textLength="5.6303" lengthAdjust="spacingAndGlyphs">3</tspan><tspan x="-9.4597" textLength="3.0063" lengthAdjust="spacingAndGlyphs">.</tspan><tspan x="-6.1149" textLength="5.8626" lengthAdjust="spacingAndGlyphs">0</tspan></text>
</g>
</g>
<g id="text_35">
<text style="font-size: 21.200px; font-family: 'Liberation Sans', sans-serif" transform="translate(561.6 151.1496) rotate(-90)" y="0"><tspan x="-110.3335" textLength="18.9821" lengthAdjust="spacingAndGlyphs">m</tspan><tspan x="-90.7171" textLength="10.0023" lengthAdjust="spacingAndGlyphs">a</tspan><tspan x="-78.5714" textLength="11.093" lengthAdjust="spacingAndGlyphs">x</tspan><tspan x="-66.9878" dy="1.44" textLength="9.9203" lengthAdjust="spacingAndGlyphs">_</tspan><tspan x="-56.6253" dy="-1.44" textLength="10.0023" lengthAdjust="spacingAndGlyphs">a</tspan><tspan x="-44.3927" textLength="12.1013" lengthAdjust="spacingAndGlyphs">b</tspan><tspan x="-31.5609" textLength="9.5857" lengthAdjust="spacingAndGlyphs">s</tspan><tspan x="-21.6167" dy="1.44" textLength="9.9203" lengthAdjust="spacingAndGlyphs">_</tspan><tspan x="-11.1842" dy="-1.44" textLength="4.5421" lengthAdjust="spacingAndGlyphs">l</tspan><tspan x="-5.6976" textLength="10.0023" lengthAdjust="spacingAndGlyphs">a</tspan><tspan x="6.2536" textLength="7.4266" lengthAdjust="spacingAndGlyphs">t</tspan><tspan x="14.1487" textLength="12.0143" lengthAdjust="spacingAndGlyphs">e</tspan><tspan x="26.3823" textLength="8.5333" lengthAdjust="spacingAndGlyphs">r</tspan><tspan x="34.9274" textLength="10.0023" lengthAdjust="spacingAndGlyphs">a</tspan><tspan x="47.2533" textLength="4.5421" lengthAdjust="spacingAndGlyphs">l</tspan><tspan x="52.3774" dy="1.44" textLength="9.9203" lengthAdjust="spacingAndGlyphs">_</tspan><tspan x="62.4886" dy="-1.44" textLength="12.0143" lengthAdjust="spacingAndGlyphs">e</tspan><tspan x="74.7222" textLength="8.5333" lengthAdjust="spacingAndGlyphs">r</tspan><tspan x="82.5698" textLength="8.5333" lengthAdjust="spacingAndGlyphs">r</tspan><tspan x="90.3884" textLength="11.8247" lengthAdjust="spacingAndGlyphs">o</tspan><tspan x="102.5288" textLength="8.5333" lengthAdjust="spacingAndGlyphs">r</tspan></text>
</g>
</g>
<g id="line2d_64">
<path d="M 613.998655 252.264457
L 666.229025 251.699268
L 722.811927 254.040767
L 831.6252 249.519252
L 1049.251745 244.674771
" clip-path="url(#pd9bde08748)" style="fill: none; stroke: #1f77b4; stroke-width: 1.5; stroke-linecap: square"/>
<g clip-path="url(#pd9bde08748)">
<use href="#mf14c53ed57" x="614.52" y="252.36" style="fill: #1f77b4; stroke: #1f77b4"/>
<use href="#mf14c53ed57" x="666.36" y="252.36" style="fill: #1f77b4; stroke: #1f77b4"/>
<use href="#mf14c53ed57" x="723.24" y="254.52" style="fill: #1f77b4; stroke: #1f77b4"/>
<use href="#mf14c53ed57" x="831.96" y="250.2" style="fill: #1f77b4; stroke: #1f77b4"/>
<use href="#mf14c53ed57" x="1049.4" y="245.16" style="fill: #1f77b4; stroke: #1f77b4"/>
</g>
</g>
<g id="line2d_65">
<path d="M 613.998655 251.699268
L 666.229025 251.699268
L 722.811927 247.581459
L 831.6252 254.040767
L 1049.251745 194.292169
" clip-path="url(#pd9bde08748)" style="fill: none; stroke: #ff7f0e; stroke-width: 1.5; stroke-linecap: square"/>
<g clip-path="url(#pd9bde08748)">
<use href="#mcd47077251" x="614.52" y="252.36" style="fill: #ff7f0e; stroke: #ff7f0e"/>
<use href="#mcd47077251" x="666.36" y="252.36" style="fill: #ff7f0e; stroke: #ff7f0e"/>
<use href="#mcd47077251" x="723.24" y="248.04" style="fill: #ff7f0e; stroke: #ff7f0e"/>
<use href="#mcd47077251" x="831.96" y="254.52" style="fill: #ff7f0e; stroke: #ff7f0e"/>
<use href="#mcd47077251" x="1049.4" y="194.76" style="fill: #ff7f0e; stroke: #ff7f0e"/>
</g>
</g>
<g id="line2d_66">
<path d="M 666 273.6 L 666 23.04" clip-path="url(#pd9bde08748)" style="fill: none; stroke-dasharray: 5.55,2.4; stroke-dashoffset: 0; stroke: #000000; stroke-width: 1.5"/>
</g>
<g id="patch_9">
<path d="M 592.92 286.2 L 592.92 11.16" style="fill: none; stroke: #000000; stroke-width: 0.8; stroke-linejoin: miter; stroke-linecap: square"/>
</g>
<g id="patch_10">
<path d="M 1071.72 286.2 L 1071.72 11.16" style="fill: none; stroke: #000000; stroke-width: 0.8; stroke-linejoin: miter; stroke-linecap: square"/>
</g>
<g id="patch_11">
<path d="M 592.92 286.2 L 1071.72 286.2" style="fill: none; stroke: #000000; stroke-width: 0.8; stroke-linejoin: miter; stroke-linecap: square"/>
</g>
<g id="patch_12">
<path d="M 592.92 11.16 L 1071.72 11.16" style="fill: none; stroke: #000000; stroke-width: 0.8; stroke-linejoin: miter; stroke-linecap: square"/>
</g>
</g>
<g id="axes_3">
<g id="patch_13">
<path d="M 1129.536 285.9336
L 1608.3144 285.9336
L 1608.3144 10.6056
L 1129.536 10.6056
z
" style="fill: #ffffff"/>
</g>
<g id="matplotlib.axis_5">
<g id="xtick_16">
<g id="line2d_67">
<path d="M 1185.48 286.2 L 1185.48 11.16" clip-path="url(#pf6867bfa05)" style="fill: none; stroke: #b0b0b0; stroke-width: 0.8; stroke-linecap: square"/>
</g>
<g id="line2d_68">
<g>
<use href="#m1504cfccaf" x="1185.48" y="286.2" style="stroke: #000000; stroke-width: 0.8"/>
</g>
</g>
<g id="text_36">
<text style="font-size: 10.600px; font-family: 'Liberation Sans', sans-serif" transform="translate(1185.4997 300.8536)" y="0"><tspan x="-2.8494" textLength="5.5993" lengthAdjust="spacingAndGlyphs">1</tspan></text>
</g>
</g>
<g id="xtick_17">
<g id="line2d_69">
<path d="M 1252.44 286.2 L 1252.44 11.16" clip-path="url(#pf6867bfa05)" style="fill: none; stroke: #b0b0b0; stroke-width: 0.8; stroke-linecap: square"/>
</g>
<g id="line2d_70">
<g>
<use href="#m1504cfccaf" x="1252.44" y="286.2" style="stroke: #000000; stroke-width: 0.8"/>
</g>
</g>
<g id="text_37">
<text style="font-size: 10.600px; font-family: 'Liberation Sans', sans-serif" transform="translate(1251.7417 300.8536)" y="0"><tspan x="-2.9597" textLength="5.6509" lengthAdjust="spacingAndGlyphs">2</tspan></text>
</g>
</g>
<g id="xtick_18">
<g id="line2d_71">
<path d="M 1319.4 286.2 L 1319.4 11.16" clip-path="url(#pf6867bfa05)" style="fill: none; stroke: #b0b0b0; stroke-width: 0.8; stroke-linecap: square"/>
</g>
<g id="line2d_72">
<g>
<use href="#m1504cfccaf" x="1319.4" y="286.2" style="stroke: #000000; stroke-width: 0.8"/>
</g>
</g>
<g id="text_38">
<text style="font-size: 10.600px; font-family: 'Liberation Sans', sans-serif" transform="translate(1318.7037 300.8536)" y="0"><tspan x="-2.805" textLength="5.6303" lengthAdjust="spacingAndGlyphs">3</tspan></text>
</g>
</g>
<g id="xtick_19">
<g id="line2d_73">
<path d="M 1386.36 286.2 L 1386.36 11.16" clip-path="url(#pf6867bfa05)" style="fill: none; stroke: #b0b0b0; stroke-width: 0.8; stroke-linecap: square"/>
</g>
<g id="line2d_74">
<g>
<use href="#m1504cfccaf" x="1386.36" y="286.2" style="stroke: #000000; stroke-width: 0.8"/>
</g>
</g>
<g id="text_39">
<text style="font-size: 10.600px; font-family: 'Liberation Sans', sans-serif" transform="translate(1386.3857 300.1336)" y="0"><tspan x="-2.9348" textLength="5.8633" lengthAdjust="spacingAndGlyphs">4</tspan></text>
</g>
</g>
<g id="xtick_20">
<g id="line2d_75">
<path d="M 1453.32 286.2 L 1453.32 11.16" clip-path="url(#pf6867bfa05)" style="fill: none; stroke: #b0b0b0; stroke-width: 0.8; stroke-linecap: square"/>
</g>
<g id="line2d_76">
<g>
<use href="#m1504cfccaf" x="1453.32" y="286.2" style="stroke: #000000; stroke-width: 0.8"/>
</g>
</g>
<g id="text_40">
<text style="font-size: 10.600px; font-family: 'Liberation Sans', sans-serif" transform="translate(1452.6277 300.8536)" y="0"><tspan x="-2.808" textLength="5.5329" lengthAdjust="spacingAndGlyphs">5</tspan></text>
</g>
</g>
<g id="xtick_21">
<g id="line2d_77">
<path d="M 1520.28 286.2 L 1520.28 11.16" clip-path="url(#pf6867bfa05)" style="fill: none; stroke: #b0b0b0; stroke-width: 0.8; stroke-linecap: square"/>
</g>
<g id="line2d_78">
<g>
<use href="#m1504cfccaf" x="1520.28" y="286.2" style="stroke: #000000; stroke-width: 0.8"/>
</g>
</g>
<g id="text_41">
<text style="font-size: 10.600px; font-family: 'Liberation Sans', sans-serif" transform="translate(1519.5897 300.8536)" y="0"><tspan x="-3.0369" textLength="6.0677" lengthAdjust="spacingAndGlyphs">6</tspan></text>
</g>
</g>
<g id="xtick_22">
<g id="line2d_79">
<path d="M 1587.24 286.2 L 1587.24 11.16" clip-path="url(#pf6867bfa05)" style="fill: none; stroke: #b0b0b0; stroke-width: 0.8; stroke-linecap: square"/>
</g>
<g id="line2d_80">
<g>
<use href="#m1504cfccaf" x="1587.24" y="286.2" style="stroke: #000000; stroke-width: 0.8"/>
</g>
</g>
<g id="text_42">
<text style="font-size: 10.600px; font-family: 'Liberation Sans', sans-serif" transform="translate(1586.5517 300.8536)" y="0"><tspan x="-2.8895" textLength="5.7348" lengthAdjust="spacingAndGlyphs">7</tspan></text>
</g>
</g>
<g id="text_43">
<text style="font-size: 21.200px; font-family: 'Liberation Sans', sans-serif" transform="translate(1368.9252 322.8536)" y="0"><tspan x="-78.2907" textLength="14.5988" lengthAdjust="spacingAndGlyphs">w</tspan><tspan x="-62.4918" textLength="12.0757" lengthAdjust="spacingAndGlyphs">h</tspan><tspan x="-49.9411" textLength="12.0143" lengthAdjust="spacingAndGlyphs">e</tspan><tspan x="-37.6364" textLength="12.0143" lengthAdjust="spacingAndGlyphs">e</tspan><tspan x="-25.0104" textLength="4.5421" lengthAdjust="spacingAndGlyphs">l</tspan><tspan x="-19.8863" dy="1.44" textLength="9.9203" lengthAdjust="spacingAndGlyphs">_</tspan><tspan x="-9.547" dy="-1.44" textLength="12.1013" lengthAdjust="spacingAndGlyphs">b</tspan><tspan x="3.1715" textLength="10.0023" lengthAdjust="spacingAndGlyphs">a</tspan><tspan x="15.5406" textLength="9.5857" lengthAdjust="spacingAndGlyphs">s</tspan><tspan x="25.596" textLength="12.0143" lengthAdjust="spacingAndGlyphs">e</tspan><tspan> </tspan><tspan x="44.3057" dy="-0.3991" textLength="5.7887" lengthAdjust="spacingAndGlyphs">[</tspan><tspan x="52.1782" dy="0.3991" textLength="18.9821" lengthAdjust="spacingAndGlyphs">m</tspan><tspan x="73.138" dy="-0.3991" textLength="5.7887" lengthAdjust="spacingAndGlyphs">]</tspan></text>
</g>
</g>
<g id="matplotlib.axis_6">
<g id="ytick_15">
<g id="line2d_81">
<path d="M 1130.04 266.04 L 1608.84 266.04" clip-path="url(#pf6867bfa05)" style="fill: none; stroke: #b0b0b0; stroke-width: 0.8; stroke-linecap: square"/>
</g>
<g id="line2d_82">
<g>
<use href="#m5d545ce8f8" x="1130.04" y="266.04" style="stroke: #000000; stroke-width: 0.8"/>
</g>
</g>
<g id="text_44">
<text style="font-size: 10.600px; font-family: 'Liberation Sans', sans-serif" transform="translate(1122.536 269.3046)" y="0"><tspan x="-15.6559" textLength="5.8626" lengthAdjust="spacingAndGlyphs">0</tspan><tspan x="-9.4597" textLength="3.0063" lengthAdjust="spacingAndGlyphs">.</tspan><tspan x="-6.1149" textLength="5.8626" lengthAdjust="spacingAndGlyphs">0</tspan></text>
</g>
</g>
<g id="ytick_16">
<g id="line2d_83">
<path d="M 1130.04 225 L 1608.84 225" clip-path="url(#pf6867bfa05)" style="fill: none; stroke: #b0b0b0; stroke-width: 0.8; stroke-linecap: square"/>
</g>
<g id="line2d_84">
<g>
<use href="#m5d545ce8f8" x="1130.04" y="225" style="stroke: #000000; stroke-width: 0.8"/>
</g>
</g>
<g id="text_45">
<text style="font-size: 10.600px; font-family: 'Liberation Sans', sans-serif" transform="translate(1123.256 228.9339)" y="0"><tspan x="-15.6559" textLength="5.8626" lengthAdjust="spacingAndGlyphs">0</tspan><tspan x="-9.4597" textLength="3.0063" lengthAdjust="spacingAndGlyphs">.</tspan><tspan x="-5.9891" textLength="5.5329" lengthAdjust="spacingAndGlyphs">5</tspan></text>
</g>
</g>
<g id="ytick_17">
<g id="line2d_85">
<path d="M 1130.04 184.68 L 1608.84 184.68" clip-path="url(#pf6867bfa05)" style="fill: none; stroke: #b0b0b0; stroke-width: 0.8; stroke-linecap: square"/>
</g>
<g id="line2d_86">
<g>
<use href="#m5d545ce8f8" x="1130.04" y="184.68" style="stroke: #000000; stroke-width: 0.8"/>
</g>
</g>
<g id="text_46">
<text style="font-size: 10.600px; font-family: 'Liberation Sans', sans-serif" transform="translate(1122.536 188.5632)" y="0"><tspan x="-15.5716" textLength="5.5993" lengthAdjust="spacingAndGlyphs">1</tspan><tspan x="-9.4597" textLength="3.0063" lengthAdjust="spacingAndGlyphs">.</tspan><tspan x="-6.1149" textLength="5.8626" lengthAdjust="spacingAndGlyphs">0</tspan></text>
</g>
</g>
<g id="ytick_18">
<g id="line2d_87">
<path d="M 1130.04 144.36 L 1608.84 144.36" clip-path="url(#pf6867bfa05)" style="fill: none; stroke: #b0b0b0; stroke-width: 0.8; stroke-linecap: square"/>
</g>
<g id="line2d_88">
<g>
<use href="#m5d545ce8f8" x="1130.04" y="144.36" style="stroke: #000000; stroke-width: 0.8"/>
</g>
</g>
<g id="text_47">
<text style="font-size: 10.600px; font-family: 'Liberation Sans', sans-serif" transform="translate(1122.536 148.1925)" y="0"><tspan x="-15.5716" textLength="5.5993" lengthAdjust="spacingAndGlyphs">1</tspan><tspan x="-9.4597" textLength="3.0063" lengthAdjust="spacingAndGlyphs">.</tspan><tspan x="-5.9891" textLength="5.5329" lengthAdjust="spacingAndGlyphs">5</tspan></text>
</g>
</g>
<g id="ytick_19">
<g id="line2d_89">
<path d="M 1130.04 104.04 L 1608.84 104.04" clip-path="url(#pf6867bfa05)" style="fill: none; stroke: #b0b0b0; stroke-width: 0.8; stroke-linecap: square"/>
</g>
<g id="line2d_90">
<g>
<use href="#m5d545ce8f8" x="1130.04" y="104.04" style="stroke: #000000; stroke-width: 0.8"/>
</g>
</g>
<g id="text_48">
<text style="font-size: 10.600px; font-family: 'Liberation Sans', sans-serif" transform="translate(1122.536 107.8219)" y="0"><tspan x="-15.6819" textLength="5.6509" lengthAdjust="spacingAndGlyphs">2</tspan><tspan x="-9.4597" textLength="3.0063" lengthAdjust="spacingAndGlyphs">.</tspan><tspan x="-6.1149" textLength="5.8626" lengthAdjust="spacingAndGlyphs">0</tspan></text>
</g>
</g>
<g id="ytick_20">
<g id="line2d_91">
<path d="M 1130.04 63.72 L 1608.84 63.72" clip-path="url(#pf6867bfa05)" style="fill: none; stroke: #b0b0b0; stroke-width: 0.8; stroke-linecap: square"/>
</g>
<g id="line2d_92">
<g>
<use href="#m5d545ce8f8" x="1130.04" y="63.72" style="stroke: #000000; stroke-width: 0.8"/>
</g>
</g>
<g id="text_49">
<text style="font-size: 10.600px; font-family: 'Liberation Sans', sans-serif" transform="translate(1122.536 67.4512)" y="0"><tspan x="-15.6819" textLength="5.6509" lengthAdjust="spacingAndGlyphs">2</tspan><tspan x="-9.4597" textLength="3.0063" lengthAdjust="spacingAndGlyphs">.</tspan><tspan x="-5.9891" textLength="5.5329" lengthAdjust="spacingAndGlyphs">5</tspan></text>
</g>
</g>
<g id="ytick_21">
<g id="line2d_93">
<path d="M 1130.04 23.4 L 1608.84 23.4" clip-path="url(#pf6867bfa05)" style="fill: none; stroke: #b0b0b0; stroke-width: 0.8; stroke-linecap: square"/>
</g>
<g id="line2d_94">
<g>
<use href="#m5d545ce8f8" x="1130.04" y="23.4" style="stroke: #000000; stroke-width: 0.8"/>
</g>
</g>
<g id="text_50">
<text style="font-size: 10.600px; font-family: 'Liberation Sans', sans-serif" transform="translate(1121.816 27.0805)" y="0"><tspan x="-15.5272" textLength="5.6303" lengthAdjust="spacingAndGlyphs">3</tspan><tspan x="-9.4597" textLength="3.0063" lengthAdjust="spacingAndGlyphs">.</tspan><tspan x="-6.1149" textLength="5.8626" lengthAdjust="spacingAndGlyphs">0</tspan></text>
</g>
</g>
<g id="text_51">
<text style="font-size: 21.200px; font-family: 'Liberation Sans', sans-serif" transform="translate(1098.72 151.1496) rotate(-90)" y="0"><tspan x="-110.3335" textLength="18.9821" lengthAdjust="spacingAndGlyphs">m</tspan><tspan x="-90.7171" textLength="10.0023" lengthAdjust="spacingAndGlyphs">a</tspan><tspan x="-78.5714" textLength="11.093" lengthAdjust="spacingAndGlyphs">x</tspan><tspan x="-66.9878" dy="1.44" textLength="9.9203" lengthAdjust="spacingAndGlyphs">_</tspan><tspan x="-56.6253" dy="-1.44" textLength="10.0023" lengthAdjust="spacingAndGlyphs">a</tspan><tspan x="-44.3927" textLength="12.1013" lengthAdjust="spacingAndGlyphs">b</tspan><tspan x="-31.5609" textLength="9.5857" lengthAdjust="spacingAndGlyphs">s</tspan><tspan x="-21.6167" dy="1.44" textLength="9.9203" lengthAdjust="spacingAndGlyphs">_</tspan><tspan x="-11.1842" dy="-1.44" textLength="4.5421" lengthAdjust="spacingAndGlyphs">l</tspan><tspan x="-5.6976" textLength="10.0023" lengthAdjust="spacingAndGlyphs">a</tspan><tspan x="6.2536" textLength="7.4266" lengthAdjust="spacingAndGlyphs">t</tspan><tspan x="14.1487" textLength="12.0143" lengthAdjust="spacingAndGlyphs">e</tspan><tspan x="26.3823" textLength="8.5333" lengthAdjust="spacingAndGlyphs">r</tspan><tspan x="34.9274" textLength="10.0023" lengthAdjust="spacingAndGlyphs">a</tspan><tspan x="47.2533" textLength="4.5421" lengthAdjust="spacingAndGlyphs">l</tspan><tspan x="52.3774" dy="1.44" textLength="9.9203" lengthAdjust="spacingAndGlyphs">_</tspan><tspan x="62.4886" dy="-1.44" textLength="12.0143" lengthAdjust="spacingAndGlyphs">e</tspan><tspan x="74.7222" textLength="8.5333" lengthAdjust="spacingAndGlyphs">r</tspan><tspan x="82.5698" textLength="8.5333" lengthAdjust="spacingAndGlyphs">r</tspan><tspan x="90.3884" textLength="11.8247" lengthAdjust="spacingAndGlyphs">o</tspan><tspan x="102.5288" textLength="8.5333" lengthAdjust="spacingAndGlyphs">r</tspan></text>
</g>
</g>
<g id="line2d_95">
<path d="M 1151.298655 248.308131
L 1184.779662 254.848181
L 1218.260669 253.314095
L 1251.741676 253.879284
L 1318.70369 252.587423
L 1452.627717 251.618527
L 1586.551745 252.829647
" clip-path="url(#pf6867bfa05)" style="fill: none; stroke: #1f77b4; stroke-width: 1.5; stroke-linecap: square"/>
<g clip-path="url(#pf6867bfa05)">
<use href="#mf14c53ed57" x="1151.64" y="248.76" style="fill: #1f77b4; stroke: #1f77b4"/>
<use href="#mf14c53ed57" x="1185.48" y="255.24" style="fill: #1f77b4; stroke: #1f77b4"/>
<use href="#mf14c53ed57" x="1218.6" y="253.8" style="fill: #1f77b4; stroke: #1f77b4"/>
<use href="#mf14c53ed57" x="1252.44" y="254.52" style="fill: #1f77b4; stroke: #1f77b4"/>
<use href="#mf14c53ed57" x="1319.4" y="253.08" style="fill: #1f77b4; stroke: #1f77b4"/>
<use href="#mf14c53ed57" x="1453.32" y="251.64" style="fill: #1f77b4; stroke: #1f77b4"/>
<use href="#mf14c53ed57" x="1587.24" y="253.08" style="fill: #1f77b4; stroke: #1f77b4"/>
</g>
</g>
<g id="line2d_96">
<path d="M 1151.298655 244.755512
L 1184.779662 246.047374
L 1218.260669 246.935528
L 1251.741676 252.910388
L 1318.70369 251.618527
L 1452.627717 251.618527
L 1586.551745 248.308131
" clip-path="url(#pf6867bfa05)" style="fill: none; stroke: #ff7f0e; stroke-width: 1.5; stroke-linecap: square"/>
<g clip-path="url(#pf6867bfa05)">
<use href="#mcd47077251" x="1151.64" y="245.16" style="fill: #ff7f0e; stroke: #ff7f0e"/>
<use href="#mcd47077251" x="1185.48" y="246.6" style="fill: #ff7f0e; stroke: #ff7f0e"/>
<use href="#mcd47077251" x="1218.6" y="247.32" style="fill: #ff7f0e; stroke: #ff7f0e"/>
<use href="#mcd47077251" x="1252.44" y="253.08" style="fill: #ff7f0e; stroke: #ff7f0e"/>
<use href="#mcd47077251" x="1319.4" y="251.64" style="fill: #ff7f0e; stroke: #ff7f0e"/>
<use href="#mcd47077251" x="1453.32" y="251.64" style="fill: #ff7f0e; stroke: #ff7f0e"/>
<use href="#mcd47077251" x="1587.24" y="248.76" style="fill: #ff7f0e; stroke: #ff7f0e"/>
</g>
</g>
<g id="line2d_97">
<path d="M 1252.08 273.6 L 1252.08 23.04" clip-path="url(#pf6867bfa05)" style="fill: none; stroke-dasharray: 5.55,2.4; stroke-dashoffset: 0; stroke: #000000; stroke-width: 1.5"/>
</g>
<g id="patch_14">
<path d="M 1130.04 286.2 L 1130.04 11.16" style="fill: none; stroke: #000000; stroke-width: 0.8; stroke-linejoin: miter; stroke-linecap: square"/>
</g>
<g id="patch_15">
<path d="M 1608.84 286.2 L 1608.84 11.16" style="fill: none; stroke: #000000; stroke-width: 0.8; stroke-linejoin: miter; stroke-linecap: square"/>
</g>
<g id="patch_16">
<path d="M 1130.04 286.2 L 1608.84 286.2" style="fill: none; stroke: #000000; stroke-width: 0.8; stroke-linejoin: miter; stroke-linecap: square"/>
</g>
<g id="patch_17">
<path d="M 1130.04 11.16 L 1608.84 11.16" style="fill: none; stroke: #000000; stroke-width: 0.8; stroke-linejoin: miter; stroke-linecap: square"/>
</g>
</g>
<g id="axes_4">
<g id="patch_18">
<path d="M 1666.836 285.9336
L 2145.6144 285.9336
L 2145.6144 10.6056
L 1666.836 10.6056
z
" style="fill: #ffffff"/>
</g>
<g id="matplotlib.axis_7">
<g id="xtick_23">
<g id="line2d_98">
<path d="M 1688.76 286.2 L 1688.76 11.16" clip-path="url(#pc8f9d3500f)" style="fill: none; stroke: #b0b0b0; stroke-width: 0.8; stroke-linecap: square"/>
</g>
<g id="line2d_99">
<g>
<use href="#m1504cfccaf" x="1688.76" y="286.2" style="stroke: #000000; stroke-width: 0.8"/>
</g>
</g>
<g id="text_52">
<text style="font-size: 10.600px; font-family: 'Liberation Sans', sans-serif" transform="translate(1688.5987 300.8536)" y="0"><tspan x="-7.7043" textLength="5.8626" lengthAdjust="spacingAndGlyphs">0</tspan><tspan x="-1.508" textLength="3.0063" lengthAdjust="spacingAndGlyphs">.</tspan><tspan x="1.8368" textLength="5.8626" lengthAdjust="spacingAndGlyphs">0</tspan></text>
</g>
</g>
<g id="xtick_24">
<g id="line2d_100">
<path d="M 1775.16 286.2 L 1775.16 11.16" clip-path="url(#pc8f9d3500f)" style="fill: none; stroke: #b0b0b0; stroke-width: 0.8; stroke-linecap: square"/>
</g>
<g id="line2d_101">
<g>
<use href="#m1504cfccaf" x="1775.16" y="286.2" style="stroke: #000000; stroke-width: 0.8"/>
</g>
</g>
<g id="text_53">
<text style="font-size: 10.600px; font-family: 'Liberation Sans', sans-serif" transform="translate(1775.5074 300.8536)" y="0"><tspan x="-7.7043" textLength="5.8626" lengthAdjust="spacingAndGlyphs">0</tspan><tspan x="-1.508" textLength="3.0063" lengthAdjust="spacingAndGlyphs">.</tspan><tspan x="1.8108" textLength="5.6509" lengthAdjust="spacingAndGlyphs">2</tspan></text>
</g>
</g>
<g id="xtick_25">
<g id="line2d_102">
<path d="M 1861.56 286.2 L 1861.56 11.16" clip-path="url(#pc8f9d3500f)" style="fill: none; stroke: #b0b0b0; stroke-width: 0.8; stroke-linecap: square"/>
</g>
<g id="line2d_103">
<g>
<use href="#m1504cfccaf" x="1861.56" y="286.2" style="stroke: #000000; stroke-width: 0.8"/>
</g>
</g>
<g id="text_54">
<text style="font-size: 10.600px; font-family: 'Liberation Sans', sans-serif" transform="translate(1861.6961 300.8536)" y="0"><tspan x="-7.7043" textLength="5.8626" lengthAdjust="spacingAndGlyphs">0</tspan><tspan x="-1.508" textLength="3.0063" lengthAdjust="spacingAndGlyphs">.</tspan><tspan x="1.8357" textLength="5.8633" lengthAdjust="spacingAndGlyphs">4</tspan></text>
</g>
</g>
<g id="xtick_26">
<g id="line2d_104">
<path d="M 1947.24 286.2 L 1947.24 11.16" clip-path="url(#pc8f9d3500f)" style="fill: none; stroke: #b0b0b0; stroke-width: 0.8; stroke-linecap: square"/>
</g>
<g id="line2d_105">
<g>
<use href="#m1504cfccaf" x="1947.24" y="286.2" style="stroke: #000000; stroke-width: 0.8"/>
</g>
</g>
<g id="text_55">
<text style="font-size: 10.600px; font-family: 'Liberation Sans', sans-serif" transform="translate(1947.1648 300.8536)" y="0"><tspan x="-7.7043" textLength="5.8626" lengthAdjust="spacingAndGlyphs">0</tspan><tspan x="-1.508" textLength="3.0063" lengthAdjust="spacingAndGlyphs">.</tspan><tspan x="1.7336" textLength="6.0677" lengthAdjust="spacingAndGlyphs">6</tspan></text>
</g>
</g>
<g id="xtick_27">
<g id="line2d_106">
<path d="M 2033.64 286.2 L 2033.64 11.16" clip-path="url(#pc8f9d3500f)" style="fill: none; stroke: #b0b0b0; stroke-width: 0.8; stroke-linecap: square"/>
</g>
<g id="line2d_107">
<g>
<use href="#m1504cfccaf" x="2033.64" y="286.2" style="stroke: #000000; stroke-width: 0.8"/>
</g>
</g>
<g id="text_56">
<text style="font-size: 10.600px; font-family: 'Liberation Sans', sans-serif" transform="translate(2033.3536 300.8536)" y="0"><tspan x="-7.7043" textLength="5.8626" lengthAdjust="spacingAndGlyphs">0</tspan><tspan x="-1.508" textLength="3.0063" lengthAdjust="spacingAndGlyphs">.</tspan><tspan x="1.805" textLength="5.9261" lengthAdjust="spacingAndGlyphs">8</tspan></text>
</g>
</g>
<g id="xtick_28">
<g id="line2d_108">
<path d="M 2120.04 286.2 L 2120.04 11.16" clip-path="url(#pc8f9d3500f)" style="fill: none; stroke: #b0b0b0; stroke-width: 0.8; stroke-linecap: square"/>
</g>
<g id="line2d_109">
<g>
<use href="#m1504cfccaf" x="2120.04" y="286.2" style="stroke: #000000; stroke-width: 0.8"/>
</g>
</g>
<g id="text_57">
<text style="font-size: 10.600px; font-family: 'Liberation Sans', sans-serif" transform="translate(2119.5423 300.8536)" y="0"><tspan x="-7.6199" textLength="5.5993" lengthAdjust="spacingAndGlyphs">1</tspan><tspan x="-1.508" textLength="3.0063" lengthAdjust="spacingAndGlyphs">.</tspan><tspan x="1.8368" textLength="5.8626" lengthAdjust="spacingAndGlyphs">0</tspan></text>
</g>
</g>
<g id="text_58">
<text style="font-size: 21.200px; font-family: 'Liberation Sans', sans-serif" transform="translate(1906.2252 322.8536)" y="0"><tspan x="-92.7953" textLength="10.0023" lengthAdjust="spacingAndGlyphs">a</tspan><tspan x="-80.7255" textLength="10.034" lengthAdjust="spacingAndGlyphs">c</tspan><tspan x="-69.7294" textLength="10.034" lengthAdjust="spacingAndGlyphs">c</tspan><tspan x="-58.9097" dy="1.44" textLength="9.9203" lengthAdjust="spacingAndGlyphs">_</tspan><tspan x="-48.8519" dy="-1.44" textLength="7.4266" lengthAdjust="spacingAndGlyphs">t</tspan><tspan x="-40.6254" textLength="4.5421" lengthAdjust="spacingAndGlyphs">i</tspan><tspan x="-35.2828" textLength="18.9821" lengthAdjust="spacingAndGlyphs">m</tspan><tspan x="-15.9177" textLength="12.0143" lengthAdjust="spacingAndGlyphs">e</tspan><tspan x="-3.7241" dy="1.44" textLength="9.9203" lengthAdjust="spacingAndGlyphs">_</tspan><tspan x="6.3919" dy="-1.44" textLength="12.0892" lengthAdjust="spacingAndGlyphs">d</tspan><tspan x="19.0823" textLength="12.0143" lengthAdjust="spacingAndGlyphs">e</tspan><tspan x="31.7083" textLength="4.5421" lengthAdjust="spacingAndGlyphs">l</tspan><tspan x="37.195" textLength="10.0023" lengthAdjust="spacingAndGlyphs">a</tspan><tspan x="49.5569" textLength="10.7389" lengthAdjust="spacingAndGlyphs">y</tspan><tspan> </tspan><tspan x="67.4404" dy="-0.3991" textLength="5.7887" lengthAdjust="spacingAndGlyphs">[</tspan><tspan x="75.5602" dy="0.3991" textLength="9.5857" lengthAdjust="spacingAndGlyphs">s</tspan><tspan x="87.2103" dy="-0.3991" textLength="5.7887" lengthAdjust="spacingAndGlyphs">]</tspan></text>
</g>
</g>
<g id="matplotlib.axis_8">
<g id="ytick_22">
<g id="line2d_110">
<path d="M 1667.16 285.48 L 2145.96 285.48" clip-path="url(#pc8f9d3500f)" style="fill: none; stroke: #b0b0b0; stroke-width: 0.8; stroke-linecap: square"/>
</g>
<g id="line2d_111">
<g>
<use href="#m5d545ce8f8" x="1667.16" y="285.48" style="stroke: #000000; stroke-width: 0.8"/>
</g>
</g>
<g id="text_59">
<text style="font-size: 10.600px; font-family: 'Liberation Sans', sans-serif" transform="translate(1659.836 288.7967)" y="0"><tspan x="-15.6559" textLength="5.8626" lengthAdjust="spacingAndGlyphs">0</tspan><tspan x="-9.4597" textLength="3.0063" lengthAdjust="spacingAndGlyphs">.</tspan><tspan x="-6.1149" textLength="5.8626" lengthAdjust="spacingAndGlyphs">0</tspan></text>
</g>
</g>
<g id="ytick_23">
<g id="line2d_112">
<path d="M 1667.16 230.04 L 2145.96 230.04" clip-path="url(#pc8f9d3500f)" style="fill: none; stroke: #b0b0b0; stroke-width: 0.8; stroke-linecap: square"/>
</g>
<g id="line2d_113">
<g>
<use href="#m5d545ce8f8" x="1667.16" y="230.04" style="stroke: #000000; stroke-width: 0.8"/>
</g>
</g>
<g id="text_60">
<text style="font-size: 10.600px; font-family: 'Liberation Sans', sans-serif" transform="translate(1659.836 233.9505)" y="0"><tspan x="-15.6559" textLength="5.8626" lengthAdjust="spacingAndGlyphs">0</tspan><tspan x="-9.4597" textLength="3.0063" lengthAdjust="spacingAndGlyphs">.</tspan><tspan x="-5.9891" textLength="5.5329" lengthAdjust="spacingAndGlyphs">5</tspan></text>
</g>
</g>
<g id="ytick_24">
<g id="line2d_114">
<path d="M 1667.16 175.32 L 2145.96 175.32" clip-path="url(#pc8f9d3500f)" style="fill: none; stroke: #b0b0b0; stroke-width: 0.8; stroke-linecap: square"/>
</g>
<g id="line2d_115">
<g>
<use href="#m5d545ce8f8" x="1667.16" y="175.32" style="stroke: #000000; stroke-width: 0.8"/>
</g>
</g>
<g id="text_61">
<text style="font-size: 10.600px; font-family: 'Liberation Sans', sans-serif" transform="translate(1659.836 179.1042)" y="0"><tspan x="-15.5716" textLength="5.5993" lengthAdjust="spacingAndGlyphs">1</tspan><tspan x="-9.4597" textLength="3.0063" lengthAdjust="spacingAndGlyphs">.</tspan><tspan x="-6.1149" textLength="5.8626" lengthAdjust="spacingAndGlyphs">0</tspan></text>
</g>
</g>
<g id="ytick_25">
<g id="line2d_116">
<path d="M 1667.16 120.6 L 2145.96 120.6" clip-path="url(#pc8f9d3500f)" style="fill: none; stroke: #b0b0b0; stroke-width: 0.8; stroke-linecap: square"/>
</g>
<g id="line2d_117">
<g>
<use href="#m5d545ce8f8" x="1667.16" y="120.6" style="stroke: #000000; stroke-width: 0.8"/>
</g>
</g>
<g id="text_62">
<text style="font-size: 10.600px; font-family: 'Liberation Sans', sans-serif" transform="translate(1659.836 124.258)" y="0"><tspan x="-15.5716" textLength="5.5993" lengthAdjust="spacingAndGlyphs">1</tspan><tspan x="-9.4597" textLength="3.0063" lengthAdjust="spacingAndGlyphs">.</tspan><tspan x="-5.9891" textLength="5.5329" lengthAdjust="spacingAndGlyphs">5</tspan></text>
</g>
</g>
<g id="ytick_26">
<g id="line2d_118">
<path d="M 1667.16 65.88 L 2145.96 65.88" clip-path="url(#pc8f9d3500f)" style="fill: none; stroke: #b0b0b0; stroke-width: 0.8; stroke-linecap: square"/>
</g>
<g id="line2d_119">
<g>
<use href="#m5d545ce8f8" x="1667.16" y="65.88" style="stroke: #000000; stroke-width: 0.8"/>
</g>
</g>
<g id="text_63">
<text style="font-size: 10.600px; font-family: 'Liberation Sans', sans-serif" transform="translate(1659.836 69.4118)" y="0"><tspan x="-15.6819" textLength="5.6509" lengthAdjust="spacingAndGlyphs">2</tspan><tspan x="-9.4597" textLength="3.0063" lengthAdjust="spacingAndGlyphs">.</tspan><tspan x="-6.1149" textLength="5.8626" lengthAdjust="spacingAndGlyphs">0</tspan></text>
</g>
</g>
<g id="ytick_27">
<g id="line2d_120">
<path d="M 1667.16 11.16 L 2145.96 11.16" clip-path="url(#pc8f9d3500f)" style="fill: none; stroke: #b0b0b0; stroke-width: 0.8; stroke-linecap: square"/>
</g>
<g id="line2d_121">
<g>
<use href="#m5d545ce8f8" x="1667.16" y="11.16" style="stroke: #000000; stroke-width: 0.8"/>
</g>
</g>
<g id="text_64">
<text style="font-size: 10.600px; font-family: 'Liberation Sans', sans-serif" transform="translate(1659.836 14.5656)" y="0"><tspan x="-15.6819" textLength="5.6509" lengthAdjust="spacingAndGlyphs">2</tspan><tspan x="-9.4597" textLength="3.0063" lengthAdjust="spacingAndGlyphs">.</tspan><tspan x="-5.9891" textLength="5.5329" lengthAdjust="spacingAndGlyphs">5</tspan></text>
</g>
</g>
<g id="text_65">
<text style="font-size: 21.200px; font-family: 'Liberation Sans', sans-serif" transform="translate(1635.84 151.1496) rotate(-90)" y="0"><tspan x="-93.1851" textLength="18.9821" lengthAdjust="spacingAndGlyphs">m</tspan><tspan x="-73.5687" textLength="10.0023" lengthAdjust="spacingAndGlyphs">a</tspan><tspan x="-61.423" textLength="11.093" lengthAdjust="spacingAndGlyphs">x</tspan><tspan x="-49.8394" dy="1.44" textLength="9.9203" lengthAdjust="spacingAndGlyphs">_</tspan><tspan x="-39.4769" dy="-1.44" textLength="10.0023" lengthAdjust="spacingAndGlyphs">a</tspan><tspan x="-27.2442" textLength="12.1013" lengthAdjust="spacingAndGlyphs">b</tspan><tspan x="-14.4125" textLength="9.5857" lengthAdjust="spacingAndGlyphs">s</tspan><tspan x="-4.4683" dy="1.44" textLength="9.9203" lengthAdjust="spacingAndGlyphs">_</tspan><tspan x="5.979" dy="-1.44" textLength="10.7921" lengthAdjust="spacingAndGlyphs">v</tspan><tspan x="17.4788" textLength="12.0143" lengthAdjust="spacingAndGlyphs">e</tspan><tspan x="30.1048" textLength="4.5421" lengthAdjust="spacingAndGlyphs">l</tspan><tspan x="35.229" dy="1.44" textLength="9.9203" lengthAdjust="spacingAndGlyphs">_</tspan><tspan x="45.3401" dy="-1.44" textLength="12.0143" lengthAdjust="spacingAndGlyphs">e</tspan><tspan x="57.5737" textLength="8.5333" lengthAdjust="spacingAndGlyphs">r</tspan><tspan x="65.4214" textLength="8.5333" lengthAdjust="spacingAndGlyphs">r</tspan><tspan x="73.24" textLength="11.8247" lengthAdjust="spacingAndGlyphs">o</tspan><tspan x="85.3804" textLength="8.5333" lengthAdjust="spacingAndGlyphs">r</tspan></text>
</g>
</g>
<g id="line2d_122">
<path d="M 1688.598655 251.709562
L 1731.69302 249.84479
L 1804.953441 252.038639
L 1860.976116 253.574333
L 1947.164847 253.574333
L 2033.353578 256.316644
L 2123.851745 256.536029
" clip-path="url(#pc8f9d3500f)" style="fill: none; stroke: #1f77b4; stroke-width: 1.5; stroke-linecap: square"/>
<g clip-path="url(#pc8f9d3500f)">
<use href="#mf14c53ed57" x="1688.76" y="252.36" style="fill: #1f77b4; stroke: #1f77b4"/>
<use href="#mf14c53ed57" x="1731.96" y="250.2" style="fill: #1f77b4; stroke: #1f77b4"/>
<use href="#mf14c53ed57" x="1805.4" y="252.36" style="fill: #1f77b4; stroke: #1f77b4"/>
<use href="#mf14c53ed57" x="1861.56" y="253.8" style="fill: #1f77b4; stroke: #1f77b4"/>
<use href="#mf14c53ed57" x="1947.24" y="253.8" style="fill: #1f77b4; stroke: #1f77b4"/>
<use href="#mf14c53ed57" x="2033.64" y="256.68" style="fill: #1f77b4; stroke: #1f77b4"/>
<use href="#mf14c53ed57" x="2124.36" y="256.68" style="fill: #1f77b4; stroke: #1f77b4"/>
</g>
</g>
<g id="line2d_123">
<path d="M 1688.598655 252.038639
L 1731.69302 249.296328
L 1804.953441 253.025871
L 1860.976116 254.451873
L 1947.164847 257.852338
L 2033.353578 260.375264
L 2123.851745 247.321865
" clip-path="url(#pc8f9d3500f)" style="fill: none; stroke: #ff7f0e; stroke-width: 1.5; stroke-linecap: square"/>
<g clip-path="url(#pc8f9d3500f)">
<use href="#mcd47077251" x="1688.76" y="252.36" style="fill: #ff7f0e; stroke: #ff7f0e"/>
<use href="#mcd47077251" x="1731.96" y="249.48" style="fill: #ff7f0e; stroke: #ff7f0e"/>
<use href="#mcd47077251" x="1805.4" y="253.08" style="fill: #ff7f0e; stroke: #ff7f0e"/>
<use href="#mcd47077251" x="1861.56" y="254.52" style="fill: #ff7f0e; stroke: #ff7f0e"/>
<use href="#mcd47077251" x="1947.24" y="258.12" style="fill: #ff7f0e; stroke: #ff7f0e"/>
<use href="#mcd47077251" x="2033.64" y="261" style="fill: #ff7f0e; stroke: #ff7f0e"/>
<use href="#mcd47077251" x="2124.36" y="248.04" style="fill: #ff7f0e; stroke: #ff7f0e"/>
</g>
</g>
<g id="line2d_124">
<path d="M 1731.6 295.92 L 1731.6 -0.72" clip-path="url(#pc8f9d3500f)" style="fill: none; stroke-dasharray: 5.55,2.4; stroke-dashoffset: 0; stroke: #000000; stroke-width: 1.5"/>
</g>
<g id="patch_19">
<path d="M 1667.16 286.2 L 1667.16 11.16" style="fill: none; stroke: #000000; stroke-width: 0.8; stroke-linejoin: miter; stroke-linecap: square"/>
</g>
<g id="patch_20">
<path d="M 2145.96 286.2 L 2145.96 11.16" style="fill: none; stroke: #000000; stroke-width: 0.8; stroke-linejoin: miter; stroke-linecap: square"/>
</g>
<g id="patch_21">
<path d="M 1667.16 286.2 L 2145.96 286.2" style="fill: none; stroke: #000000; stroke-width: 0.8; stroke-linejoin: miter; stroke-linecap: square"/>
</g>
<g id="patch_22">
<path d="M 1667.16 11.16 L 2145.96 11.16" style="fill: none; stroke: #000000; stroke-width: 0.8; stroke-linejoin: miter; stroke-linecap: square"/>
</g>
</g>
<g id="axes_5">
<g id="patch_23">
<path d="M 54.936 617.76
L 533.7144 617.76
L 533.7144 342.432
L 54.936 342.432
z
" style="fill: #ffffff"/>
</g>
<g id="matplotlib.axis_9">
<g id="xtick_29">
<g id="line2d_125">
<path d="M 77.4 618.12 L 77.4 343.08" clip-path="url(#p8d1e0f2b8f)" style="fill: none; stroke: #b0b0b0; stroke-width: 0.8; stroke-linecap: square"/>
</g>
<g id="line2d_126">
<g>
<use href="#m1504cfccaf" x="77.4" y="618.12" style="stroke: #000000; stroke-width: 0.8"/>
</g>
</g>
<g id="text_66">
<text style="font-size: 10.600px; font-family: 'Liberation Sans', sans-serif" transform="translate(76.6987 632.68)" y="0"><tspan x="-7.7043" textLength="5.8626" lengthAdjust="spacingAndGlyphs">0</tspan><tspan x="-1.508" textLength="3.0063" lengthAdjust="spacingAndGlyphs">.</tspan><tspan x="1.8368" textLength="5.8626" lengthAdjust="spacingAndGlyphs">0</tspan></text>
</g>
</g>
<g id="xtick_30">
<g id="line2d_127">
<path d="M 162.36 618.12 L 162.36 343.08" clip-path="url(#p8d1e0f2b8f)" style="fill: none; stroke: #b0b0b0; stroke-width: 0.8; stroke-linecap: square"/>
</g>
<g id="line2d_128">
<g>
<use href="#m1504cfccaf" x="162.36" y="618.12" style="stroke: #000000; stroke-width: 0.8"/>
</g>
</g>
<g id="text_67">
<text style="font-size: 10.600px; font-family: 'Liberation Sans', sans-serif" transform="translate(162.7624 632.68)" y="0"><tspan x="-7.7043" textLength="5.8626" lengthAdjust="spacingAndGlyphs">0</tspan><tspan x="-1.508" textLength="3.0063" lengthAdjust="spacingAndGlyphs">.</tspan><tspan x="1.8108" textLength="5.6509" lengthAdjust="spacingAndGlyphs">2</tspan></text>
</g>
</g>
<g id="xtick_31">
<g id="line2d_129">
<path d="M 248.04 618.12 L 248.04 343.08" clip-path="url(#p8d1e0f2b8f)" style="fill: none; stroke: #b0b0b0; stroke-width: 0.8; stroke-linecap: square"/>
</g>
<g id="line2d_130">
<g>
<use href="#m1504cfccaf" x="248.04" y="618.12" style="stroke: #000000; stroke-width: 0.8"/>
</g>
</g>
<g id="text_68">
<text style="font-size: 10.600px; font-family: 'Liberation Sans', sans-serif" transform="translate(248.1061 632.68)" y="0"><tspan x="-7.7043" textLength="5.8626" lengthAdjust="spacingAndGlyphs">0</tspan><tspan x="-1.508" textLength="3.0063" lengthAdjust="spacingAndGlyphs">.</tspan><tspan x="1.8357" textLength="5.8633" lengthAdjust="spacingAndGlyphs">4</tspan></text>
</g>
</g>
<g id="xtick_32">
<g id="line2d_131">
<path d="M 333 618.12 L 333 343.08" clip-path="url(#p8d1e0f2b8f)" style="fill: none; stroke: #b0b0b0; stroke-width: 0.8; stroke-linecap: square"/>
</g>
<g id="line2d_132">
<g>
<use href="#m1504cfccaf" x="333" y="618.12" style="stroke: #000000; stroke-width: 0.8"/>
</g>
</g>
<g id="text_69">
<text style="font-size: 10.600px; font-family: 'Liberation Sans', sans-serif" transform="translate(332.7299 632.68)" y="0"><tspan x="-7.7043" textLength="5.8626" lengthAdjust="spacingAndGlyphs">0</tspan><tspan x="-1.508" textLength="3.0063" lengthAdjust="spacingAndGlyphs">.</tspan><tspan x="1.7336" textLength="6.0677" lengthAdjust="spacingAndGlyphs">6</tspan></text>
</g>
</g>
<g id="xtick_33">
<g id="line2d_133">
<path d="M 418.68 618.12 L 418.68 343.08" clip-path="url(#p8d1e0f2b8f)" style="fill: none; stroke: #b0b0b0; stroke-width: 0.8; stroke-linecap: square"/>
</g>
<g id="line2d_134">
<g>
<use href="#m1504cfccaf" x="418.68" y="618.12" style="stroke: #000000; stroke-width: 0.8"/>
</g>
</g>
<g id="text_70">
<text style="font-size: 10.600px; font-family: 'Liberation Sans', sans-serif" transform="translate(418.7936 632.68)" y="0"><tspan x="-7.7043" textLength="5.8626" lengthAdjust="spacingAndGlyphs">0</tspan><tspan x="-1.508" textLength="3.0063" lengthAdjust="spacingAndGlyphs">.</tspan><tspan x="1.805" textLength="5.9261" lengthAdjust="spacingAndGlyphs">8</tspan></text>
</g>
</g>
<g id="xtick_34">
<g id="line2d_135">
<path d="M 503.64 618.12 L 503.64 343.08" clip-path="url(#p8d1e0f2b8f)" style="fill: none; stroke: #b0b0b0; stroke-width: 0.8; stroke-linecap: square"/>
</g>
<g id="line2d_136">
<g>
<use href="#m1504cfccaf" x="503.64" y="618.12" style="stroke: #000000; stroke-width: 0.8"/>
</g>
</g>
<g id="text_71">
<text style="font-size: 10.600px; font-family: 'Liberation Sans', sans-serif" transform="translate(503.4174 632.68)" y="0"><tspan x="-7.6199" textLength="5.5993" lengthAdjust="spacingAndGlyphs">1</tspan><tspan x="-1.508" textLength="3.0063" lengthAdjust="spacingAndGlyphs">.</tspan><tspan x="1.8368" textLength="5.8626" lengthAdjust="spacingAndGlyphs">0</tspan></text>
</g>
</g>
<g id="text_72">
<text style="font-size: 21.200px; font-family: 'Liberation Sans', sans-serif" transform="translate(294.3252 654.68)" y="0"><tspan x="-101.1049" textLength="9.5857" lengthAdjust="spacingAndGlyphs">s</tspan><tspan x="-91.1029" textLength="7.4266" lengthAdjust="spacingAndGlyphs">t</tspan><tspan x="-83.2077" textLength="12.0143" lengthAdjust="spacingAndGlyphs">e</tspan><tspan x="-70.903" textLength="12.0143" lengthAdjust="spacingAndGlyphs">e</tspan><tspan x="-58.6694" textLength="8.5333" lengthAdjust="spacingAndGlyphs">r</tspan><tspan x="-50.4868" dy="1.44" textLength="9.9203" lengthAdjust="spacingAndGlyphs">_</tspan><tspan x="-40.429" dy="-1.44" textLength="7.4266" lengthAdjust="spacingAndGlyphs">t</tspan><tspan x="-32.2026" textLength="4.5421" lengthAdjust="spacingAndGlyphs">i</tspan><tspan x="-26.8599" textLength="18.9821" lengthAdjust="spacingAndGlyphs">m</tspan><tspan x="-7.4948" textLength="12.0143" lengthAdjust="spacingAndGlyphs">e</tspan><tspan x="4.6987" dy="1.44" textLength="9.9203" lengthAdjust="spacingAndGlyphs">_</tspan><tspan x="14.8147" dy="-1.44" textLength="12.0892" lengthAdjust="spacingAndGlyphs">d</tspan><tspan x="27.5052" textLength="12.0143" lengthAdjust="spacingAndGlyphs">e</tspan><tspan x="40.1312" textLength="4.5421" lengthAdjust="spacingAndGlyphs">l</tspan><tspan x="45.6178" textLength="10.0023" lengthAdjust="spacingAndGlyphs">a</tspan><tspan x="57.9798" textLength="10.7389" lengthAdjust="spacingAndGlyphs">y</tspan><tspan> </tspan><tspan x="75.8633" dy="-0.3991" textLength="5.7887" lengthAdjust="spacingAndGlyphs">[</tspan><tspan x="83.983" dy="0.3991" textLength="9.5857" lengthAdjust="spacingAndGlyphs">s</tspan><tspan x="95.6331" dy="-0.3991" textLength="5.7887" lengthAdjust="spacingAndGlyphs">]</tspan></text>
</g>
</g>
<g id="matplotlib.axis_10">
<g id="ytick_28">
<g id="line2d_137">
<path d="M 55.08 597.24 L 533.88 597.24" clip-path="url(#p8d1e0f2b8f)" style="fill: none; stroke: #b0b0b0; stroke-width: 0.8; stroke-linecap: square"/>
</g>
<g id="line2d_138">
<g>
<use href="#m5d545ce8f8" x="55.08" y="597.24" style="stroke: #000000; stroke-width: 0.8"/>
</g>
</g>
<g id="text_73">
<text style="font-size: 10.600px; font-family: 'Liberation Sans', sans-serif" transform="translate(48.656 601.131)" y="0"><tspan x="-15.6559" textLength="5.8626" lengthAdjust="spacingAndGlyphs">0</tspan><tspan x="-9.4597" textLength="3.0063" lengthAdjust="spacingAndGlyphs">.</tspan><tspan x="-6.1149" textLength="5.8626" lengthAdjust="spacingAndGlyphs">0</tspan></text>
</g>
</g>
<g id="ytick_29">
<g id="line2d_139">
<path d="M 55.08 556.92 L 533.88 556.92" clip-path="url(#p8d1e0f2b8f)" style="fill: none; stroke: #b0b0b0; stroke-width: 0.8; stroke-linecap: square"/>
</g>
<g id="line2d_140">
<g>
<use href="#m5d545ce8f8" x="55.08" y="556.92" style="stroke: #000000; stroke-width: 0.8"/>
</g>
</g>
<g id="text_74">
<text style="font-size: 10.600px; font-family: 'Liberation Sans', sans-serif" transform="translate(48.656 560.7603)" y="0"><tspan x="-15.6559" textLength="5.8626" lengthAdjust="spacingAndGlyphs">0</tspan><tspan x="-9.4597" textLength="3.0063" lengthAdjust="spacingAndGlyphs">.</tspan><tspan x="-5.9891" textLength="5.5329" lengthAdjust="spacingAndGlyphs">5</tspan></text>
</g>
</g>
<g id="ytick_30">
<g id="line2d_141">
<path d="M 55.08 516.6 L 533.88 516.6" clip-path="url(#p8d1e0f2b8f)" style="fill: none; stroke: #b0b0b0; stroke-width: 0.8; stroke-linecap: square"/>
</g>
<g id="line2d_142">
<g>
<use href="#m5d545ce8f8" x="55.08" y="516.6" style="stroke: #000000; stroke-width: 0.8"/>
</g>
</g>
<g id="text_75">
<text style="font-size: 10.600px; font-family: 'Liberation Sans', sans-serif" transform="translate(47.936 520.3896)" y="0"><tspan x="-15.5716" textLength="5.5993" lengthAdjust="spacingAndGlyphs">1</tspan><tspan x="-9.4597" textLength="3.0063" lengthAdjust="spacingAndGlyphs">.</tspan><tspan x="-6.1149" textLength="5.8626" lengthAdjust="spacingAndGlyphs">0</tspan></text>
</g>
</g>
<g id="ytick_31">
<g id="line2d_143">
<path d="M 55.08 476.28 L 533.88 476.28" clip-path="url(#p8d1e0f2b8f)" style="fill: none; stroke: #b0b0b0; stroke-width: 0.8; stroke-linecap: square"/>
</g>
<g id="line2d_144">
<g>
<use href="#m5d545ce8f8" x="55.08" y="476.28" style="stroke: #000000; stroke-width: 0.8"/>
</g>
</g>
<g id="text_76">
<text style="font-size: 10.600px; font-family: 'Liberation Sans', sans-serif" transform="translate(47.936 480.0189)" y="0"><tspan x="-15.5716" textLength="5.5993" lengthAdjust="spacingAndGlyphs">1</tspan><tspan x="-9.4597" textLength="3.0063" lengthAdjust="spacingAndGlyphs">.</tspan><tspan x="-5.9891" textLength="5.5329" lengthAdjust="spacingAndGlyphs">5</tspan></text>
</g>
</g>
<g id="ytick_32">
<g id="line2d_145">
<path d="M 55.08 435.96 L 533.88 435.96" clip-path="url(#p8d1e0f2b8f)" style="fill: none; stroke: #b0b0b0; stroke-width: 0.8; stroke-linecap: square"/>
</g>
<g id="line2d_146">
<g>
<use href="#m5d545ce8f8" x="55.08" y="435.96" style="stroke: #000000; stroke-width: 0.8"/>
</g>
</g>
<g id="text_77">
<text style="font-size: 10.600px; font-family: 'Liberation Sans', sans-serif" transform="translate(47.936 439.6483)" y="0"><tspan x="-15.6819" textLength="5.6509" lengthAdjust="spacingAndGlyphs">2</tspan><tspan x="-9.4597" textLength="3.0063" lengthAdjust="spacingAndGlyphs">.</tspan><tspan x="-6.1149" textLength="5.8626" lengthAdjust="spacingAndGlyphs">0</tspan></text>
</g>
</g>
<g id="ytick_33">
<g id="line2d_147">
<path d="M 55.08 395.64 L 533.88 395.64" clip-path="url(#p8d1e0f2b8f)" style="fill: none; stroke: #b0b0b0; stroke-width: 0.8; stroke-linecap: square"/>
</g>
<g id="line2d_148">
<g>
<use href="#m5d545ce8f8" x="55.08" y="395.64" style="stroke: #000000; stroke-width: 0.8"/>
</g>
</g>
<g id="text_78">
<text style="font-size: 10.600px; font-family: 'Liberation Sans', sans-serif" transform="translate(47.936 399.2776)" y="0"><tspan x="-15.6819" textLength="5.6509" lengthAdjust="spacingAndGlyphs">2</tspan><tspan x="-9.4597" textLength="3.0063" lengthAdjust="spacingAndGlyphs">.</tspan><tspan x="-5.9891" textLength="5.5329" lengthAdjust="spacingAndGlyphs">5</tspan></text>
</g>
</g>
<g id="ytick_34">
<g id="line2d_149">
<path d="M 55.08 355.32 L 533.88 355.32" clip-path="url(#p8d1e0f2b8f)" style="fill: none; stroke: #b0b0b0; stroke-width: 0.8; stroke-linecap: square"/>
</g>
<g id="line2d_150">
<g>
<use href="#m5d545ce8f8" x="55.08" y="355.32" style="stroke: #000000; stroke-width: 0.8"/>
</g>
</g>
<g id="text_79">
<text style="font-size: 10.600px; font-family: 'Liberation Sans', sans-serif" transform="translate(47.936 358.9069)" y="0"><tspan x="-15.5272" textLength="5.6303" lengthAdjust="spacingAndGlyphs">3</tspan><tspan x="-9.4597" textLength="3.0063" lengthAdjust="spacingAndGlyphs">.</tspan><tspan x="-6.1149" textLength="5.8626" lengthAdjust="spacingAndGlyphs">0</tspan></text>
</g>
</g>
<g id="text_80">
<text style="font-size: 21.200px; font-family: 'Liberation Sans', sans-serif" transform="translate(24.48 482.256) rotate(-90)" y="0"><tspan x="-110.3335" textLength="18.9821" lengthAdjust="spacingAndGlyphs">m</tspan><tspan x="-90.7171" textLength="10.0023" lengthAdjust="spacingAndGlyphs">a</tspan><tspan x="-78.5714" textLength="11.093" lengthAdjust="spacingAndGlyphs">x</tspan><tspan x="-66.9878" dy="1.44" textLength="9.9203" lengthAdjust="spacingAndGlyphs">_</tspan><tspan x="-56.6253" dy="-1.44" textLength="10.0023" lengthAdjust="spacingAndGlyphs">a</tspan><tspan x="-44.3927" textLength="12.1013" lengthAdjust="spacingAndGlyphs">b</tspan><tspan x="-31.5609" textLength="9.5857" lengthAdjust="spacingAndGlyphs">s</tspan><tspan x="-21.6167" dy="1.44" textLength="9.9203" lengthAdjust="spacingAndGlyphs">_</tspan><tspan x="-11.1842" dy="-1.44" textLength="4.5421" lengthAdjust="spacingAndGlyphs">l</tspan><tspan x="-5.6976" textLength="10.0023" lengthAdjust="spacingAndGlyphs">a</tspan><tspan x="6.2536" textLength="7.4266" lengthAdjust="spacingAndGlyphs">t</tspan><tspan x="14.1487" textLength="12.0143" lengthAdjust="spacingAndGlyphs">e</tspan><tspan x="26.3823" textLength="8.5333" lengthAdjust="spacingAndGlyphs">r</tspan><tspan x="34.9274" textLength="10.0023" lengthAdjust="spacingAndGlyphs">a</tspan><tspan x="47.2533" textLength="4.5421" lengthAdjust="spacingAndGlyphs">l</tspan><tspan x="52.3774" dy="1.44" textLength="9.9203" lengthAdjust="spacingAndGlyphs">_</tspan><tspan x="62.4886" dy="-1.44" textLength="12.0143" lengthAdjust="spacingAndGlyphs">e</tspan><tspan x="74.7222" textLength="8.5333" lengthAdjust="spacingAndGlyphs">r</tspan><tspan x="82.5698" textLength="8.5333" lengthAdjust="spacingAndGlyphs">r</tspan><tspan x="90.3884" textLength="11.8247" lengthAdjust="spacingAndGlyphs">o</tspan><tspan x="102.5288" textLength="8.5333" lengthAdjust="spacingAndGlyphs">r</tspan></text>
</g>
</g>
<g id="line2d_151">
<path d="M 76.698655 582.798996
L 119.370526 582.798996
L 191.912708 583.525668
L 247.386141 586.02865
L 332.729884 587.885701
L 418.073628 587.885701
L 511.951745 591.034613
" clip-path="url(#p8d1e0f2b8f)" style="fill: none; stroke: #1f77b4; stroke-width: 1.5; stroke-linecap: square"/>
<g clip-path="url(#p8d1e0f2b8f)">
<use href="#mf14c53ed57" x="77.4" y="582.84" style="fill: #1f77b4; stroke: #1f77b4"/>
<use href="#mf14c53ed57" x="119.88" y="582.84" style="fill: #1f77b4; stroke: #1f77b4"/>
<use href="#mf14c53ed57" x="192.6" y="583.56" style="fill: #1f77b4; stroke: #1f77b4"/>
<use href="#mf14c53ed57" x="248.04" y="586.44" style="fill: #1f77b4; stroke: #1f77b4"/>
<use href="#mf14c53ed57" x="333" y="588.6" style="fill: #1f77b4; stroke: #1f77b4"/>
<use href="#mf14c53ed57" x="418.68" y="588.6" style="fill: #1f77b4; stroke: #1f77b4"/>
<use href="#mf14c53ed57" x="512.28" y="591.48" style="fill: #1f77b4; stroke: #1f77b4"/>
</g>
</g>
<g id="line2d_152">
<path d="M 76.698655 580.05379
L 119.370526 575.370792
L 191.912708 583.525668
L 247.386141 584.090857
L 332.729884 585.059754
L 418.073628 585.059754
L 511.951745 586.593839
" clip-path="url(#p8d1e0f2b8f)" style="fill: none; stroke: #ff7f0e; stroke-width: 1.5; stroke-linecap: square"/>
<g clip-path="url(#p8d1e0f2b8f)">
<use href="#mcd47077251" x="77.4" y="580.68" style="fill: #ff7f0e; stroke: #ff7f0e"/>
<use href="#mcd47077251" x="119.88" y="575.64" style="fill: #ff7f0e; stroke: #ff7f0e"/>
<use href="#mcd47077251" x="192.6" y="583.56" style="fill: #ff7f0e; stroke: #ff7f0e"/>
<use href="#mcd47077251" x="248.04" y="584.28" style="fill: #ff7f0e; stroke: #ff7f0e"/>
<use href="#mcd47077251" x="333" y="585.72" style="fill: #ff7f0e; stroke: #ff7f0e"/>
<use href="#mcd47077251" x="418.68" y="585.72" style="fill: #ff7f0e; stroke: #ff7f0e"/>
<use href="#mcd47077251" x="512.28" y="587.16" style="fill: #ff7f0e; stroke: #ff7f0e"/>
</g>
</g>
<g id="line2d_153">
<path d="M 192.24 605.52 L 192.24 354.96" clip-path="url(#p8d1e0f2b8f)" style="fill: none; stroke-dasharray: 5.55,2.4; stroke-dashoffset: 0; stroke: #000000; stroke-width: 1.5"/>
</g>
<g id="patch_24">
<path d="M 55.08 618.12 L 55.08 343.08" style="fill: none; stroke: #000000; stroke-width: 0.8; stroke-linejoin: miter; stroke-linecap: square"/>
</g>
<g id="patch_25">
<path d="M 533.88 618.12 L 533.88 343.08" style="fill: none; stroke: #000000; stroke-width: 0.8; stroke-linejoin: miter; stroke-linecap: square"/>
</g>
<g id="patch_26">
<path d="M 55.08 618.12 L 533.88 618.12" style="fill: none; stroke: #000000; stroke-width: 0.8; stroke-linejoin: miter; stroke-linecap: square"/>
</g>
<g id="patch_27">
<path d="M 55.08 343.08 L 533.88 343.08" style="fill: none; stroke: #000000; stroke-width: 0.8; stroke-linejoin: miter; stroke-linecap: square"/>
</g>
</g>
<g id="axes_6">
<g id="patch_28">
<path d="M 592.236 617.76
L 1071.0144 617.76
L 1071.0144 342.432
L 592.236 342.432
z
" style="fill: #ffffff"/>
</g>
<g id="matplotlib.axis_11">
<g id="xtick_35">
<g id="line2d_154">
<path d="M 610.2 618.12 L 610.2 343.08" clip-path="url(#p86364fde44)" style="fill: none; stroke: #b0b0b0; stroke-width: 0.8; stroke-linecap: square"/>
</g>
<g id="line2d_155">
<g>
<use href="#m1504cfccaf" x="610.2" y="618.12" style="stroke: #000000; stroke-width: 0.8"/>
</g>
</g>
<g id="text_81">
<text style="font-size: 10.600px; font-family: 'Liberation Sans', sans-serif" transform="translate(610.3661 632.68)" y="0"><tspan x="-7.7043" textLength="5.8626" lengthAdjust="spacingAndGlyphs">0</tspan><tspan x="-1.508" textLength="3.0063" lengthAdjust="spacingAndGlyphs">.</tspan><tspan x="1.8368" textLength="5.8626" lengthAdjust="spacingAndGlyphs">0</tspan></text>
</g>
</g>
<g id="xtick_36">
<g id="line2d_156">
<path d="M 697.32 618.12 L 697.32 343.08" clip-path="url(#p86364fde44)" style="fill: none; stroke: #b0b0b0; stroke-width: 0.8; stroke-linecap: square"/>
</g>
<g id="line2d_157">
<g>
<use href="#m1504cfccaf" x="697.32" y="618.12" style="stroke: #000000; stroke-width: 0.8"/>
</g>
</g>
<g id="text_82">
<text style="font-size: 10.600px; font-family: 'Liberation Sans', sans-serif" transform="translate(697.4167 632.68)" y="0"><tspan x="-7.7043" textLength="5.8626" lengthAdjust="spacingAndGlyphs">0</tspan><tspan x="-1.508" textLength="3.0063" lengthAdjust="spacingAndGlyphs">.</tspan><tspan x="1.8108" textLength="5.6509" lengthAdjust="spacingAndGlyphs">2</tspan></text>
</g>
</g>
<g id="xtick_37">
<g id="line2d_158">
<path d="M 784.44 618.12 L 784.44 343.08" clip-path="url(#p86364fde44)" style="fill: none; stroke: #b0b0b0; stroke-width: 0.8; stroke-linecap: square"/>
</g>
<g id="line2d_159">
<g>
<use href="#m1504cfccaf" x="784.44" y="618.12" style="stroke: #000000; stroke-width: 0.8"/>
</g>
</g>
<g id="text_83">
<text style="font-size: 10.600px; font-family: 'Liberation Sans', sans-serif" transform="translate(783.7474 632.68)" y="0"><tspan x="-7.7043" textLength="5.8626" lengthAdjust="spacingAndGlyphs">0</tspan><tspan x="-1.508" textLength="3.0063" lengthAdjust="spacingAndGlyphs">.</tspan><tspan x="1.8357" textLength="5.8633" lengthAdjust="spacingAndGlyphs">4</tspan></text>
</g>
</g>
<g id="xtick_38">
<g id="line2d_160">
<path d="M 870.84 618.12 L 870.84 343.08" clip-path="url(#p86364fde44)" style="fill: none; stroke: #b0b0b0; stroke-width: 0.8; stroke-linecap: square"/>
</g>
<g id="line2d_161">
<g>
<use href="#m1504cfccaf" x="870.84" y="618.12" style="stroke: #000000; stroke-width: 0.8"/>
</g>
</g>
<g id="text_84">
<text style="font-size: 10.600px; font-family: 'Liberation Sans', sans-serif" transform="translate(870.798 632.68)" y="0"><tspan x="-7.7043" textLength="5.8626" lengthAdjust="spacingAndGlyphs">0</tspan><tspan x="-1.508" textLength="3.0063" lengthAdjust="spacingAndGlyphs">.</tspan><tspan x="1.7336" textLength="6.0677" lengthAdjust="spacingAndGlyphs">6</tspan></text>
</g>
</g>
<g id="xtick_39">
<g id="line2d_162">
<path d="M 957.96 618.12 L 957.96 343.08" clip-path="url(#p86364fde44)" style="fill: none; stroke: #b0b0b0; stroke-width: 0.8; stroke-linecap: square"/>
</g>
<g id="line2d_163">
<g>
<use href="#m1504cfccaf" x="957.96" y="618.12" style="stroke: #000000; stroke-width: 0.8"/>
</g>
</g>
<g id="text_85">
<text style="font-size: 10.600px; font-family: 'Liberation Sans', sans-serif" transform="translate(957.8486 632.68)" y="0"><tspan x="-7.7043" textLength="5.8626" lengthAdjust="spacingAndGlyphs">0</tspan><tspan x="-1.508" textLength="3.0063" lengthAdjust="spacingAndGlyphs">.</tspan><tspan x="1.805" textLength="5.9261" lengthAdjust="spacingAndGlyphs">8</tspan></text>
</g>
</g>
<g id="xtick_40">
<g id="line2d_164">
<path d="M 1045.08 618.12 L 1045.08 343.08" clip-path="url(#p86364fde44)" style="fill: none; stroke: #b0b0b0; stroke-width: 0.8; stroke-linecap: square"/>
</g>
<g id="line2d_165">
<g>
<use href="#m1504cfccaf" x="1045.08" y="618.12" style="stroke: #000000; stroke-width: 0.8"/>
</g>
</g>
<g id="text_86">
<text style="font-size: 10.600px; font-family: 'Liberation Sans', sans-serif" transform="translate(1044.8992 632.68)" y="0"><tspan x="-7.6199" textLength="5.5993" lengthAdjust="spacingAndGlyphs">1</tspan><tspan x="-1.508" textLength="3.0063" lengthAdjust="spacingAndGlyphs">.</tspan><tspan x="1.8368" textLength="5.8626" lengthAdjust="spacingAndGlyphs">0</tspan></text>
</g>
</g>
<g id="text_87">
<text style="font-size: 21.200px; font-family: 'Liberation Sans', sans-serif" transform="translate(831.6252 654.68)" y="0"><tspan x="-108.9427" textLength="10.0023" lengthAdjust="spacingAndGlyphs">a</tspan><tspan x="-96.873" textLength="10.034" lengthAdjust="spacingAndGlyphs">c</tspan><tspan x="-85.8769" textLength="10.034" lengthAdjust="spacingAndGlyphs">c</tspan><tspan x="-75.0571" dy="1.44" textLength="9.9203" lengthAdjust="spacingAndGlyphs">_</tspan><tspan x="-64.9993" dy="-1.44" textLength="7.4266" lengthAdjust="spacingAndGlyphs">t</tspan><tspan x="-56.7729" textLength="4.5421" lengthAdjust="spacingAndGlyphs">i</tspan><tspan x="-51.4302" textLength="18.9821" lengthAdjust="spacingAndGlyphs">m</tspan><tspan x="-32.0651" textLength="12.0143" lengthAdjust="spacingAndGlyphs">e</tspan><tspan x="-19.8716" dy="1.44" textLength="9.9203" lengthAdjust="spacingAndGlyphs">_</tspan><tspan x="-9.6953" dy="-1.44" textLength="10.034" lengthAdjust="spacingAndGlyphs">c</tspan><tspan x="1.2605" textLength="11.8247" lengthAdjust="spacingAndGlyphs">o</tspan><tspan x="13.6706" textLength="11.9924" lengthAdjust="spacingAndGlyphs">n</tspan><tspan x="26.5123" textLength="9.5857" lengthAdjust="spacingAndGlyphs">s</tspan><tspan x="36.5143" textLength="7.4266" lengthAdjust="spacingAndGlyphs">t</tspan><tspan x="44.6608" textLength="10.0023" lengthAdjust="spacingAndGlyphs">a</tspan><tspan x="56.864" textLength="11.9924" lengthAdjust="spacingAndGlyphs">n</tspan><tspan x="69.2878" textLength="7.4266" lengthAdjust="spacingAndGlyphs">t</tspan><tspan> </tspan><tspan x="83.5879" dy="-0.3991" textLength="5.7887" lengthAdjust="spacingAndGlyphs">[</tspan><tspan x="91.7076" dy="0.3991" textLength="9.5857" lengthAdjust="spacingAndGlyphs">s</tspan><tspan x="103.3577" dy="-0.3991" textLength="5.7887" lengthAdjust="spacingAndGlyphs">]</tspan></text>
</g>
</g>
<g id="matplotlib.axis_12">
<g id="ytick_35">
<g id="line2d_166">
<path d="M 592.92 616.68 L 1071.72 616.68" clip-path="url(#p86364fde44)" style="fill: none; stroke: #b0b0b0; stroke-width: 0.8; stroke-linecap: square"/>
</g>
<g id="line2d_167">
<g>
<use href="#m5d545ce8f8" x="592.92" y="616.68" style="stroke: #000000; stroke-width: 0.8"/>
</g>
</g>
<g id="text_88">
<text style="font-size: 10.600px; font-family: 'Liberation Sans', sans-serif" transform="translate(585.956 620.5139)" y="0"><tspan x="-15.6559" textLength="5.8626" lengthAdjust="spacingAndGlyphs">0</tspan><tspan x="-9.4597" textLength="3.0063" lengthAdjust="spacingAndGlyphs">.</tspan><tspan x="-6.1149" textLength="5.8626" lengthAdjust="spacingAndGlyphs">0</tspan></text>
</g>
</g>
<g id="ytick_36">
<g id="line2d_168">
<path d="M 592.92 561.96 L 1071.72 561.96" clip-path="url(#p86364fde44)" style="fill: none; stroke: #b0b0b0; stroke-width: 0.8; stroke-linecap: square"/>
</g>
<g id="line2d_169">
<g>
<use href="#m5d545ce8f8" x="592.92" y="561.96" style="stroke: #000000; stroke-width: 0.8"/>
</g>
</g>
<g id="text_89">
<text style="font-size: 10.600px; font-family: 'Liberation Sans', sans-serif" transform="translate(585.956 565.6895)" y="0"><tspan x="-15.6559" textLength="5.8626" lengthAdjust="spacingAndGlyphs">0</tspan><tspan x="-9.4597" textLength="3.0063" lengthAdjust="spacingAndGlyphs">.</tspan><tspan x="-5.9891" textLength="5.5329" lengthAdjust="spacingAndGlyphs">5</tspan></text>
</g>
</g>
<g id="ytick_37">
<g id="line2d_170">
<path d="M 592.92 507.24 L 1071.72 507.24" clip-path="url(#p86364fde44)" style="fill: none; stroke: #b0b0b0; stroke-width: 0.8; stroke-linecap: square"/>
</g>
<g id="line2d_171">
<g>
<use href="#m5d545ce8f8" x="592.92" y="507.24" style="stroke: #000000; stroke-width: 0.8"/>
</g>
</g>
<g id="text_90">
<text style="font-size: 10.600px; font-family: 'Liberation Sans', sans-serif" transform="translate(585.236 510.8651)" y="0"><tspan x="-15.5716" textLength="5.5993" lengthAdjust="spacingAndGlyphs">1</tspan><tspan x="-9.4597" textLength="3.0063" lengthAdjust="spacingAndGlyphs">.</tspan><tspan x="-6.1149" textLength="5.8626" lengthAdjust="spacingAndGlyphs">0</tspan></text>
</g>
</g>
<g id="ytick_38">
<g id="line2d_172">
<path d="M 592.92 452.52 L 1071.72 452.52" clip-path="url(#p86364fde44)" style="fill: none; stroke: #b0b0b0; stroke-width: 0.8; stroke-linecap: square"/>
</g>
<g id="line2d_173">
<g>
<use href="#m5d545ce8f8" x="592.92" y="452.52" style="stroke: #000000; stroke-width: 0.8"/>
</g>
</g>
<g id="text_91">
<text style="font-size: 10.600px; font-family: 'Liberation Sans', sans-serif" transform="translate(585.236 456.0407)" y="0"><tspan x="-15.5716" textLength="5.5993" lengthAdjust="spacingAndGlyphs">1</tspan><tspan x="-9.4597" textLength="3.0063" lengthAdjust="spacingAndGlyphs">.</tspan><tspan x="-5.9891" textLength="5.5329" lengthAdjust="spacingAndGlyphs">5</tspan></text>
</g>
</g>
<g id="ytick_39">
<g id="line2d_174">
<path d="M 592.92 397.8 L 1071.72 397.8" clip-path="url(#p86364fde44)" style="fill: none; stroke: #b0b0b0; stroke-width: 0.8; stroke-linecap: square"/>
</g>
<g id="line2d_175">
<g>
<use href="#m5d545ce8f8" x="592.92" y="397.8" style="stroke: #000000; stroke-width: 0.8"/>
</g>
</g>
<g id="text_92">
<text style="font-size: 10.600px; font-family: 'Liberation Sans', sans-serif" transform="translate(585.236 401.2164)" y="0"><tspan x="-15.6819" textLength="5.6509" lengthAdjust="spacingAndGlyphs">2</tspan><tspan x="-9.4597" textLength="3.0063" lengthAdjust="spacingAndGlyphs">.</tspan><tspan x="-6.1149" textLength="5.8626" lengthAdjust="spacingAndGlyphs">0</tspan></text>
</g>
</g>
<g id="ytick_40">
<g id="line2d_176">
<path d="M 592.92 343.08 L 1071.72 343.08" clip-path="url(#p86364fde44)" style="fill: none; stroke: #b0b0b0; stroke-width: 0.8; stroke-linecap: square"/>
</g>
<g id="line2d_177">
<g>
<use href="#m5d545ce8f8" x="592.92" y="343.08" style="stroke: #000000; stroke-width: 0.8"/>
</g>
</g>
<g id="text_93">
<text style="font-size: 10.600px; font-family: 'Liberation Sans', sans-serif" transform="translate(585.236 346.392)" y="0"><tspan x="-15.6819" textLength="5.6509" lengthAdjust="spacingAndGlyphs">2</tspan><tspan x="-9.4597" textLength="3.0063" lengthAdjust="spacingAndGlyphs">.</tspan><tspan x="-5.9891" textLength="5.5329" lengthAdjust="spacingAndGlyphs">5</tspan></text>
</g>
</g>
<g id="text_94">
<text style="font-size: 21.200px; font-family: 'Liberation Sans', sans-serif" transform="translate(561.6 482.976) rotate(-90)" y="0"><tspan x="-93.1851" textLength="18.9821" lengthAdjust="spacingAndGlyphs">m</tspan><tspan x="-73.5687" textLength="10.0023" lengthAdjust="spacingAndGlyphs">a</tspan><tspan x="-61.423" textLength="11.093" lengthAdjust="spacingAndGlyphs">x</tspan><tspan x="-49.8394" dy="1.44" textLength="9.9203" lengthAdjust="spacingAndGlyphs">_</tspan><tspan x="-39.4769" dy="-1.44" textLength="10.0023" lengthAdjust="spacingAndGlyphs">a</tspan><tspan x="-27.2442" textLength="12.1013" lengthAdjust="spacingAndGlyphs">b</tspan><tspan x="-14.4125" textLength="9.5857" lengthAdjust="spacingAndGlyphs">s</tspan><tspan x="-4.4683" dy="1.44" textLength="9.9203" lengthAdjust="spacingAndGlyphs">_</tspan><tspan x="5.979" dy="-1.44" textLength="10.7921" lengthAdjust="spacingAndGlyphs">v</tspan><tspan x="17.4788" textLength="12.0143" lengthAdjust="spacingAndGlyphs">e</tspan><tspan x="30.1048" textLength="4.5421" lengthAdjust="spacingAndGlyphs">l</tspan><tspan x="35.229" dy="1.44" textLength="9.9203" lengthAdjust="spacingAndGlyphs">_</tspan><tspan x="45.3401" dy="-1.44" textLength="12.0143" lengthAdjust="spacingAndGlyphs">e</tspan><tspan x="57.5737" textLength="8.5333" lengthAdjust="spacingAndGlyphs">r</tspan><tspan x="65.4214" textLength="8.5333" lengthAdjust="spacingAndGlyphs">r</tspan><tspan x="73.24" textLength="11.8247" lengthAdjust="spacingAndGlyphs">o</tspan><tspan x="85.3804" textLength="8.5333" lengthAdjust="spacingAndGlyphs">r</tspan></text>
</g>
</g>
<g id="line2d_178">
<path d="M 613.998655 583.220645
L 653.171433 581.685563
L 696.696742 582.672401
L 714.106865 584.097835
L 783.74736 583.878538
L 870.797978 587.277649
L 957.848596 584.53643
L 1049.251745 586.071513
" clip-path="url(#p86364fde44)" style="fill: none; stroke: #1f77b4; stroke-width: 1.5; stroke-linecap: square"/>
<g clip-path="url(#p86364fde44)">
<use href="#mf14c53ed57" x="614.52" y="583.56" style="fill: #1f77b4; stroke: #1f77b4"/>
<use href="#mf14c53ed57" x="653.4" y="582.12" style="fill: #1f77b4; stroke: #1f77b4"/>
<use href="#mf14c53ed57" x="697.32" y="582.84" style="fill: #1f77b4; stroke: #1f77b4"/>
<use href="#mf14c53ed57" x="714.6" y="584.28" style="fill: #1f77b4; stroke: #1f77b4"/>
<use href="#mf14c53ed57" x="784.44" y="584.28" style="fill: #1f77b4; stroke: #1f77b4"/>
<use href="#mf14c53ed57" x="870.84" y="587.88" style="fill: #1f77b4; stroke: #1f77b4"/>
<use href="#mf14c53ed57" x="957.96" y="585" style="fill: #1f77b4; stroke: #1f77b4"/>
<use href="#mf14c53ed57" x="1049.4" y="586.44" style="fill: #1f77b4; stroke: #1f77b4"/>
</g>
</g>
<g id="line2d_179">
<path d="M 613.998655 583.220645
L 653.171433 581.137319
L 696.696742 581.137319
L 714.106865 573.352258
L 783.74736 586.071513
L 870.797978 587.716244
L 957.848596 585.084674
L 1049.251745 587.716244
" clip-path="url(#p86364fde44)" style="fill: none; stroke: #ff7f0e; stroke-width: 1.5; stroke-linecap: square"/>
<g clip-path="url(#p86364fde44)">
<use href="#mcd47077251" x="614.52" y="583.56" style="fill: #ff7f0e; stroke: #ff7f0e"/>
<use href="#mcd47077251" x="653.4" y="581.4" style="fill: #ff7f0e; stroke: #ff7f0e"/>
<use href="#mcd47077251" x="697.32" y="581.4" style="fill: #ff7f0e; stroke: #ff7f0e"/>
<use href="#mcd47077251" x="714.6" y="573.48" style="fill: #ff7f0e; stroke: #ff7f0e"/>
<use href="#mcd47077251" x="784.44" y="586.44" style="fill: #ff7f0e; stroke: #ff7f0e"/>
<use href="#mcd47077251" x="870.84" y="587.88" style="fill: #ff7f0e; stroke: #ff7f0e"/>
<use href="#mcd47077251" x="957.96" y="585.72" style="fill: #ff7f0e; stroke: #ff7f0e"/>
<use href="#mcd47077251" x="1049.4" y="587.88" style="fill: #ff7f0e; stroke: #ff7f0e"/>
</g>
</g>
<g id="line2d_180">
<path d="M 653.04 627.84 L 653.04 287.28" clip-path="url(#p86364fde44)" style="fill: none; stroke-dasharray: 5.55,2.4; stroke-dashoffset: 0; stroke: #000000; stroke-width: 1.5"/>
</g>
<g id="patch_29">
<path d="M 592.92 618.12 L 592.92 343.08" style="fill: none; stroke: #000000; stroke-width: 0.8; stroke-linejoin: miter; stroke-linecap: square"/>
</g>
<g id="patch_30">
<path d="M 1071.72 618.12 L 1071.72 343.08" style="fill: none; stroke: #000000; stroke-width: 0.8; stroke-linejoin: miter; stroke-linecap: square"/>
</g>
<g id="patch_31">
<path d="M 592.92 618.12 L 1071.72 618.12" style="fill: none; stroke: #000000; stroke-width: 0.8; stroke-linejoin: miter; stroke-linecap: square"/>
</g>
<g id="patch_32">
<path d="M 592.92 343.08 L 1071.72 343.08" style="fill: none; stroke: #000000; stroke-width: 0.8; stroke-linejoin: miter; stroke-linecap: square"/>
</g>
</g>
<g id="axes_7">
<g id="patch_33">
<path d="M 1129.536 617.76
L 1608.3144 617.76
L 1608.3144 342.432
L 1129.536 342.432
z
" style="fill: #ffffff"/>
</g>
<g id="matplotlib.axis_13">
<g id="xtick_41">
<g id="line2d_181">
<path d="M 1147.32 618.12 L 1147.32 343.08" clip-path="url(#pb823ca9a69)" style="fill: none; stroke: #b0b0b0; stroke-width: 0.8; stroke-linecap: square"/>
</g>
<g id="line2d_182">
<g>
<use href="#m1504cfccaf" x="1147.32" y="618.12" style="stroke: #000000; stroke-width: 0.8"/>
</g>
</g>
<g id="text_95">
<text style="font-size: 10.600px; font-family: 'Liberation Sans', sans-serif" transform="translate(1146.9892 632.68)" y="0"><tspan x="-7.7043" textLength="5.8626" lengthAdjust="spacingAndGlyphs">0</tspan><tspan x="-1.508" textLength="3.0063" lengthAdjust="spacingAndGlyphs">.</tspan><tspan x="1.8368" textLength="5.8626" lengthAdjust="spacingAndGlyphs">0</tspan></text>
</g>
</g>
<g id="xtick_42">
<g id="line2d_183">
<path d="M 1233.72 618.12 L 1233.72 343.08" clip-path="url(#pb823ca9a69)" style="fill: none; stroke: #b0b0b0; stroke-width: 0.8; stroke-linecap: square"/>
</g>
<g id="line2d_184">
<g>
<use href="#m1504cfccaf" x="1233.72" y="618.12" style="stroke: #000000; stroke-width: 0.8"/>
</g>
</g>
<g id="text_96">
<text style="font-size: 10.600px; font-family: 'Liberation Sans', sans-serif" transform="translate(1233.8979 632.68)" y="0"><tspan x="-7.7043" textLength="5.8626" lengthAdjust="spacingAndGlyphs">0</tspan><tspan x="-1.508" textLength="3.0063" lengthAdjust="spacingAndGlyphs">.</tspan><tspan x="1.8108" textLength="5.6509" lengthAdjust="spacingAndGlyphs">2</tspan></text>
</g>
</g>
<g id="xtick_43">
<g id="line2d_185">
<path d="M 1319.4 618.12 L 1319.4 343.08" clip-path="url(#pb823ca9a69)" style="fill: none; stroke: #b0b0b0; stroke-width: 0.8; stroke-linecap: square"/>
</g>
<g id="line2d_186">
<g>
<use href="#m1504cfccaf" x="1319.4" y="618.12" style="stroke: #000000; stroke-width: 0.8"/>
</g>
</g>
<g id="text_97">
<text style="font-size: 10.600px; font-family: 'Liberation Sans', sans-serif" transform="translate(1319.3667 632.68)" y="0"><tspan x="-7.7043" textLength="5.8626" lengthAdjust="spacingAndGlyphs">0</tspan><tspan x="-1.508" textLength="3.0063" lengthAdjust="spacingAndGlyphs">.</tspan><tspan x="1.8357" textLength="5.8633" lengthAdjust="spacingAndGlyphs">4</tspan></text>
</g>
</g>
<g id="xtick_44">
<g id="line2d_187">
<path d="M 1405.8 618.12 L 1405.8 343.08" clip-path="url(#pb823ca9a69)" style="fill: none; stroke: #b0b0b0; stroke-width: 0.8; stroke-linecap: square"/>
</g>
<g id="line2d_188">
<g>
<use href="#m1504cfccaf" x="1405.8" y="618.12" style="stroke: #000000; stroke-width: 0.8"/>
</g>
</g>
<g id="text_98">
<text style="font-size: 10.600px; font-family: 'Liberation Sans', sans-serif" transform="translate(1405.5554 632.68)" y="0"><tspan x="-7.7043" textLength="5.8626" lengthAdjust="spacingAndGlyphs">0</tspan><tspan x="-1.508" textLength="3.0063" lengthAdjust="spacingAndGlyphs">.</tspan><tspan x="1.7336" textLength="6.0677" lengthAdjust="spacingAndGlyphs">6</tspan></text>
</g>
</g>
<g id="xtick_45">
<g id="line2d_189">
<path d="M 1492.2 618.12 L 1492.2 343.08" clip-path="url(#pb823ca9a69)" style="fill: none; stroke: #b0b0b0; stroke-width: 0.8; stroke-linecap: square"/>
</g>
<g id="line2d_190">
<g>
<use href="#m1504cfccaf" x="1492.2" y="618.12" style="stroke: #000000; stroke-width: 0.8"/>
</g>
</g>
<g id="text_99">
<text style="font-size: 10.600px; font-family: 'Liberation Sans', sans-serif" transform="translate(1492.4641 632.68)" y="0"><tspan x="-7.7043" textLength="5.8626" lengthAdjust="spacingAndGlyphs">0</tspan><tspan x="-1.508" textLength="3.0063" lengthAdjust="spacingAndGlyphs">.</tspan><tspan x="1.805" textLength="5.9261" lengthAdjust="spacingAndGlyphs">8</tspan></text>
</g>
</g>
<g id="xtick_46">
<g id="line2d_191">
<path d="M 1578.6 618.12 L 1578.6 343.08" clip-path="url(#pb823ca9a69)" style="fill: none; stroke: #b0b0b0; stroke-width: 0.8; stroke-linecap: square"/>
</g>
<g id="line2d_192">
<g>
<use href="#m1504cfccaf" x="1578.6" y="618.12" style="stroke: #000000; stroke-width: 0.8"/>
</g>
</g>
<g id="text_100">
<text style="font-size: 10.600px; font-family: 'Liberation Sans', sans-serif" transform="translate(1577.9329 632.68)" y="0"><tspan x="-7.6199" textLength="5.5993" lengthAdjust="spacingAndGlyphs">1</tspan><tspan x="-1.508" textLength="3.0063" lengthAdjust="spacingAndGlyphs">.</tspan><tspan x="1.8368" textLength="5.8626" lengthAdjust="spacingAndGlyphs">0</tspan></text>
</g>
</g>
<g id="text_101">
<text style="font-size: 21.200px; font-family: 'Liberation Sans', sans-serif" transform="translate(1368.9252 654.68)" y="0"><tspan x="-117.2523" textLength="9.5857" lengthAdjust="spacingAndGlyphs">s</tspan><tspan x="-107.2503" textLength="7.4266" lengthAdjust="spacingAndGlyphs">t</tspan><tspan x="-99.3552" textLength="12.0143" lengthAdjust="spacingAndGlyphs">e</tspan><tspan x="-87.0505" textLength="12.0143" lengthAdjust="spacingAndGlyphs">e</tspan><tspan x="-74.8169" textLength="8.5333" lengthAdjust="spacingAndGlyphs">r</tspan><tspan x="-66.6343" dy="1.44" textLength="9.9203" lengthAdjust="spacingAndGlyphs">_</tspan><tspan x="-56.5765" dy="-1.44" textLength="7.4266" lengthAdjust="spacingAndGlyphs">t</tspan><tspan x="-48.35" textLength="4.5421" lengthAdjust="spacingAndGlyphs">i</tspan><tspan x="-43.0074" textLength="18.9821" lengthAdjust="spacingAndGlyphs">m</tspan><tspan x="-23.6423" textLength="12.0143" lengthAdjust="spacingAndGlyphs">e</tspan><tspan x="-11.4488" dy="1.44" textLength="9.9203" lengthAdjust="spacingAndGlyphs">_</tspan><tspan x="-1.2724" dy="-1.44" textLength="10.034" lengthAdjust="spacingAndGlyphs">c</tspan><tspan x="9.6833" textLength="11.8247" lengthAdjust="spacingAndGlyphs">o</tspan><tspan x="22.0935" textLength="11.9924" lengthAdjust="spacingAndGlyphs">n</tspan><tspan x="34.9352" textLength="9.5857" lengthAdjust="spacingAndGlyphs">s</tspan><tspan x="44.9372" textLength="7.4266" lengthAdjust="spacingAndGlyphs">t</tspan><tspan x="53.0837" textLength="10.0023" lengthAdjust="spacingAndGlyphs">a</tspan><tspan x="65.2868" textLength="11.9924" lengthAdjust="spacingAndGlyphs">n</tspan><tspan x="77.7106" textLength="7.4266" lengthAdjust="spacingAndGlyphs">t</tspan><tspan> </tspan><tspan x="92.0108" dy="-0.3991" textLength="5.7887" lengthAdjust="spacingAndGlyphs">[</tspan><tspan x="100.1305" dy="0.3991" textLength="9.5857" lengthAdjust="spacingAndGlyphs">s</tspan><tspan x="111.7806" dy="-0.3991" textLength="5.7887" lengthAdjust="spacingAndGlyphs">]</tspan></text>
</g>
</g>
<g id="matplotlib.axis_14">
<g id="ytick_41">
<g id="line2d_193">
<path d="M 1130.04 597.24 L 1608.84 597.24" clip-path="url(#pb823ca9a69)" style="fill: none; stroke: #b0b0b0; stroke-width: 0.8; stroke-linecap: square"/>
</g>
<g id="line2d_194">
<g>
<use href="#m5d545ce8f8" x="1130.04" y="597.24" style="stroke: #000000; stroke-width: 0.8"/>
</g>
</g>
<g id="text_102">
<text style="font-size: 10.600px; font-family: 'Liberation Sans', sans-serif" transform="translate(1122.536 601.131)" y="0"><tspan x="-15.6559" textLength="5.8626" lengthAdjust="spacingAndGlyphs">0</tspan><tspan x="-9.4597" textLength="3.0063" lengthAdjust="spacingAndGlyphs">.</tspan><tspan x="-6.1149" textLength="5.8626" lengthAdjust="spacingAndGlyphs">0</tspan></text>
</g>
</g>
<g id="ytick_42">
<g id="line2d_195">
<path d="M 1130.04 556.92 L 1608.84 556.92" clip-path="url(#pb823ca9a69)" style="fill: none; stroke: #b0b0b0; stroke-width: 0.8; stroke-linecap: square"/>
</g>
<g id="line2d_196">
<g>
<use href="#m5d545ce8f8" x="1130.04" y="556.92" style="stroke: #000000; stroke-width: 0.8"/>
</g>
</g>
<g id="text_103">
<text style="font-size: 10.600px; font-family: 'Liberation Sans', sans-serif" transform="translate(1123.256 560.7603)" y="0"><tspan x="-15.6559" textLength="5.8626" lengthAdjust="spacingAndGlyphs">0</tspan><tspan x="-9.4597" textLength="3.0063" lengthAdjust="spacingAndGlyphs">.</tspan><tspan x="-5.9891" textLength="5.5329" lengthAdjust="spacingAndGlyphs">5</tspan></text>
</g>
</g>
<g id="ytick_43">
<g id="line2d_197">
<path d="M 1130.04 516.6 L 1608.84 516.6" clip-path="url(#pb823ca9a69)" style="fill: none; stroke: #b0b0b0; stroke-width: 0.8; stroke-linecap: square"/>
</g>
<g id="line2d_198">
<g>
<use href="#m5d545ce8f8" x="1130.04" y="516.6" style="stroke: #000000; stroke-width: 0.8"/>
</g>
</g>
<g id="text_104">
<text style="font-size: 10.600px; font-family: 'Liberation Sans', sans-serif" transform="translate(1122.536 520.3896)" y="0"><tspan x="-15.5716" textLength="5.5993" lengthAdjust="spacingAndGlyphs">1</tspan><tspan x="-9.4597" textLength="3.0063" lengthAdjust="spacingAndGlyphs">.</tspan><tspan x="-6.1149" textLength="5.8626" lengthAdjust="spacingAndGlyphs">0</tspan></text>
</g>
</g>
<g id="ytick_44">
<g id="line2d_199">
<path d="M 1130.04 476.28 L 1608.84 476.28" clip-path="url(#pb823ca9a69)" style="fill: none; stroke: #b0b0b0; stroke-width: 0.8; stroke-linecap: square"/>
</g>
<g id="line2d_200">
<g>
<use href="#m5d545ce8f8" x="1130.04" y="476.28" style="stroke: #000000; stroke-width: 0.8"/>
</g>
</g>
<g id="text_105">
<text style="font-size: 10.600px; font-family: 'Liberation Sans', sans-serif" transform="translate(1122.536 480.0189)" y="0"><tspan x="-15.5716" textLength="5.5993" lengthAdjust="spacingAndGlyphs">1</tspan><tspan x="-9.4597" textLength="3.0063" lengthAdjust="spacingAndGlyphs">.</tspan><tspan x="-5.9891" textLength="5.5329" lengthAdjust="spacingAndGlyphs">5</tspan></text>
</g>
</g>
<g id="ytick_45">
<g id="line2d_201">
<path d="M 1130.04 435.96 L 1608.84 435.96" clip-path="url(#pb823ca9a69)" style="fill: none; stroke: #b0b0b0; stroke-width: 0.8; stroke-linecap: square"/>
</g>
<g id="line2d_202">
<g>
<use href="#m5d545ce8f8" x="1130.04" y="435.96" style="stroke: #000000; stroke-width: 0.8"/>
</g>
</g>
<g id="text_106">
<text style="font-size: 10.600px; font-family: 'Liberation Sans', sans-serif" transform="translate(1122.536 439.6483)" y="0"><tspan x="-15.6819" textLength="5.6509" lengthAdjust="spacingAndGlyphs">2</tspan><tspan x="-9.4597" textLength="3.0063" lengthAdjust="spacingAndGlyphs">.</tspan><tspan x="-6.1149" textLength="5.8626" lengthAdjust="spacingAndGlyphs">0</tspan></text>
</g>
</g>
<g id="ytick_46">
<g id="line2d_203">
<path d="M 1130.04 395.64 L 1608.84 395.64" clip-path="url(#pb823ca9a69)" style="fill: none; stroke: #b0b0b0; stroke-width: 0.8; stroke-linecap: square"/>
</g>
<g id="line2d_204">
<g>
<use href="#m5d545ce8f8" x="1130.04" y="395.64" style="stroke: #000000; stroke-width: 0.8"/>
</g>
</g>
<g id="text_107">
<text style="font-size: 10.600px; font-family: 'Liberation Sans', sans-serif" transform="translate(1122.536 399.2776)" y="0"><tspan x="-15.6819" textLength="5.6509" lengthAdjust="spacingAndGlyphs">2</tspan><tspan x="-9.4597" textLength="3.0063" lengthAdjust="spacingAndGlyphs">.</tspan><tspan x="-5.9891" textLength="5.5329" lengthAdjust="spacingAndGlyphs">5</tspan></text>
</g>
</g>
<g id="ytick_47">
<g id="line2d_205">
<path d="M 1130.04 355.32 L 1608.84 355.32" clip-path="url(#pb823ca9a69)" style="fill: none; stroke: #b0b0b0; stroke-width: 0.8; stroke-linecap: square"/>
</g>
<g id="line2d_206">
<g>
<use href="#m5d545ce8f8" x="1130.04" y="355.32" style="stroke: #000000; stroke-width: 0.8"/>
</g>
</g>
<g id="text_108">
<text style="font-size: 10.600px; font-family: 'Liberation Sans', sans-serif" transform="translate(1121.816 358.9069)" y="0"><tspan x="-15.5272" textLength="5.6303" lengthAdjust="spacingAndGlyphs">3</tspan><tspan x="-9.4597" textLength="3.0063" lengthAdjust="spacingAndGlyphs">.</tspan><tspan x="-6.1149" textLength="5.8626" lengthAdjust="spacingAndGlyphs">0</tspan></text>
</g>
</g>
<g id="text_109">
<text style="font-size: 21.200px; font-family: 'Liberation Sans', sans-serif" transform="translate(1098.72 482.256) rotate(-90)" y="0"><tspan x="-110.3335" textLength="18.9821" lengthAdjust="spacingAndGlyphs">m</tspan><tspan x="-90.7171" textLength="10.0023" lengthAdjust="spacingAndGlyphs">a</tspan><tspan x="-78.5714" textLength="11.093" lengthAdjust="spacingAndGlyphs">x</tspan><tspan x="-66.9878" dy="1.44" textLength="9.9203" lengthAdjust="spacingAndGlyphs">_</tspan><tspan x="-56.6253" dy="-1.44" textLength="10.0023" lengthAdjust="spacingAndGlyphs">a</tspan><tspan x="-44.3927" textLength="12.1013" lengthAdjust="spacingAndGlyphs">b</tspan><tspan x="-31.5609" textLength="9.5857" lengthAdjust="spacingAndGlyphs">s</tspan><tspan x="-21.6167" dy="1.44" textLength="9.9203" lengthAdjust="spacingAndGlyphs">_</tspan><tspan x="-11.1842" dy="-1.44" textLength="4.5421" lengthAdjust="spacingAndGlyphs">l</tspan><tspan x="-5.6976" textLength="10.0023" lengthAdjust="spacingAndGlyphs">a</tspan><tspan x="6.2536" textLength="7.4266" lengthAdjust="spacingAndGlyphs">t</tspan><tspan x="14.1487" textLength="12.0143" lengthAdjust="spacingAndGlyphs">e</tspan><tspan x="26.3823" textLength="8.5333" lengthAdjust="spacingAndGlyphs">r</tspan><tspan x="34.9274" textLength="10.0023" lengthAdjust="spacingAndGlyphs">a</tspan><tspan x="47.2533" textLength="4.5421" lengthAdjust="spacingAndGlyphs">l</tspan><tspan x="52.3774" dy="1.44" textLength="9.9203" lengthAdjust="spacingAndGlyphs">_</tspan><tspan x="62.4886" dy="-1.44" textLength="12.0143" lengthAdjust="spacingAndGlyphs">e</tspan><tspan x="74.7222" textLength="8.5333" lengthAdjust="spacingAndGlyphs">r</tspan><tspan x="82.5698" textLength="8.5333" lengthAdjust="spacingAndGlyphs">r</tspan><tspan x="90.3884" textLength="11.8247" lengthAdjust="spacingAndGlyphs">o</tspan><tspan x="102.5288" textLength="8.5333" lengthAdjust="spacingAndGlyphs">r</tspan></text>
</g>
</g>
<g id="line2d_207">
<path d="M 1151.298655 582.233806
L 1190.083583 581.910841
L 1233.177949 583.767892
L 1250.415695 583.767892
L 1319.36668 584.494564
L 1405.555411 585.059754
L 1491.744141 585.059754
L 1586.551745 584.090857
" clip-path="url(#pb823ca9a69)" style="fill: none; stroke: #1f77b4; stroke-width: 1.5; stroke-linecap: square"/>
<g clip-path="url(#pb823ca9a69)">
<use href="#mf14c53ed57" x="1151.64" y="582.84" style="fill: #1f77b4; stroke: #1f77b4"/>
<use href="#mf14c53ed57" x="1190.52" y="582.12" style="fill: #1f77b4; stroke: #1f77b4"/>
<use href="#mf14c53ed57" x="1233.72" y="584.28" style="fill: #1f77b4; stroke: #1f77b4"/>
<use href="#mf14c53ed57" x="1251" y="584.28" style="fill: #1f77b4; stroke: #1f77b4"/>
<use href="#mf14c53ed57" x="1319.4" y="585" style="fill: #1f77b4; stroke: #1f77b4"/>
<use href="#mf14c53ed57" x="1405.8" y="585.72" style="fill: #1f77b4; stroke: #1f77b4"/>
<use href="#mf14c53ed57" x="1492.2" y="585.72" style="fill: #1f77b4; stroke: #1f77b4"/>
<use href="#mf14c53ed57" x="1587.24" y="584.28" style="fill: #1f77b4; stroke: #1f77b4"/>
</g>
</g>
<g id="line2d_208">
<path d="M 1151.298655 583.767892
L 1190.083583 581.8301
L 1233.177949 583.767892
L 1250.415695 582.798996
L 1319.36668 583.767892
L 1405.555411 584.494564
L 1491.744141 584.494564
L 1586.551745 583.767892
" clip-path="url(#pb823ca9a69)" style="fill: none; stroke: #ff7f0e; stroke-width: 1.5; stroke-linecap: square"/>
<g clip-path="url(#pb823ca9a69)">
<use href="#mcd47077251" x="1151.64" y="584.28" style="fill: #ff7f0e; stroke: #ff7f0e"/>
<use href="#mcd47077251" x="1190.52" y="582.12" style="fill: #ff7f0e; stroke: #ff7f0e"/>
<use href="#mcd47077251" x="1233.72" y="584.28" style="fill: #ff7f0e; stroke: #ff7f0e"/>
<use href="#mcd47077251" x="1251" y="582.84" style="fill: #ff7f0e; stroke: #ff7f0e"/>
<use href="#mcd47077251" x="1319.4" y="584.28" style="fill: #ff7f0e; stroke: #ff7f0e"/>
<use href="#mcd47077251" x="1405.8" y="585" style="fill: #ff7f0e; stroke: #ff7f0e"/>
<use href="#mcd47077251" x="1492.2" y="585" style="fill: #ff7f0e; stroke: #ff7f0e"/>
<use href="#mcd47077251" x="1587.24" y="584.28" style="fill: #ff7f0e; stroke: #ff7f0e"/>
</g>
</g>
<g id="line2d_209">
<path d="M 1250.64 605.52 L 1250.64 354.96" clip-path="url(#pb823ca9a69)" style="fill: none; stroke-dasharray: 5.55,2.4; stroke-dashoffset: 0; stroke: #000000; stroke-width: 1.5"/>
</g>
<g id="patch_34">
<path d="M 1130.04 618.12 L 1130.04 343.08" style="fill: none; stroke: #000000; stroke-width: 0.8; stroke-linejoin: miter; stroke-linecap: square"/>
</g>
<g id="patch_35">
<path d="M 1608.84 618.12 L 1608.84 343.08" style="fill: none; stroke: #000000; stroke-width: 0.8; stroke-linejoin: miter; stroke-linecap: square"/>
</g>
<g id="patch_36">
<path d="M 1130.04 618.12 L 1608.84 618.12" style="fill: none; stroke: #000000; stroke-width: 0.8; stroke-linejoin: miter; stroke-linecap: square"/>
</g>
<g id="patch_37">
<path d="M 1130.04 343.08 L 1608.84 343.08" style="fill: none; stroke: #000000; stroke-width: 0.8; stroke-linejoin: miter; stroke-linecap: square"/>
</g>
</g>
<g id="axes_8">
<g id="patch_38">
<path d="M 1666.836 617.76
L 2145.6144 617.76
L 2145.6144 342.432
L 1666.836 342.432
z
" style="fill: #ffffff"/>
</g>
<g id="matplotlib.axis_15">
<g id="xtick_47">
<g id="line2d_210">
<path d="M 1670.76 618.12 L 1670.76 343.08" clip-path="url(#p40abb5921b)" style="fill: none; stroke: #b0b0b0; stroke-width: 0.8; stroke-linecap: square"/>
</g>
<g id="line2d_211">
<g>
<use href="#m1504cfccaf" x="1670.76" y="618.12" style="stroke: #000000; stroke-width: 0.8"/>
</g>
</g>
<g id="text_110">
<text style="font-size: 10.600px; font-family: 'Liberation Sans', sans-serif" transform="translate(1671.1831 632.68)" y="0"><tspan x="-2.9337" textLength="5.8626" lengthAdjust="spacingAndGlyphs">0</tspan></text>
</g>
</g>
<g id="xtick_48">
<g id="line2d_212">
<path d="M 1761.48 618.12 L 1761.48 343.08" clip-path="url(#p40abb5921b)" style="fill: none; stroke: #b0b0b0; stroke-width: 0.8; stroke-linecap: square"/>
</g>
<g id="line2d_213">
<g>
<use href="#m1504cfccaf" x="1761.48" y="618.12" style="stroke: #000000; stroke-width: 0.8"/>
</g>
</g>
<g id="text_111">
<text style="font-size: 10.600px; font-family: 'Liberation Sans', sans-serif" transform="translate(1761.1408 632.68)" y="0"><tspan x="-2.8494" textLength="5.5993" lengthAdjust="spacingAndGlyphs">1</tspan></text>
</g>
</g>
<g id="xtick_49">
<g id="line2d_214">
<path d="M 1852.2 618.12 L 1852.2 343.08" clip-path="url(#p40abb5921b)" style="fill: none; stroke: #b0b0b0; stroke-width: 0.8; stroke-linecap: square"/>
</g>
<g id="line2d_215">
<g>
<use href="#m1504cfccaf" x="1852.2" y="618.12" style="stroke: #000000; stroke-width: 0.8"/>
</g>
</g>
<g id="text_112">
<text style="font-size: 10.600px; font-family: 'Liberation Sans', sans-serif" transform="translate(1852.5386 632.68)" y="0"><tspan x="-2.9597" textLength="5.6509" lengthAdjust="spacingAndGlyphs">2</tspan></text>
</g>
</g>
<g id="xtick_50">
<g id="line2d_216">
<path d="M 1942.92 618.12 L 1942.92 343.08" clip-path="url(#p40abb5921b)" style="fill: none; stroke: #b0b0b0; stroke-width: 0.8; stroke-linecap: square"/>
</g>
<g id="line2d_217">
<g>
<use href="#m1504cfccaf" x="1942.92" y="618.12" style="stroke: #000000; stroke-width: 0.8"/>
</g>
</g>
<g id="text_113">
<text style="font-size: 10.600px; font-family: 'Liberation Sans', sans-serif" transform="translate(1942.4963 632.68)" y="0"><tspan x="-2.805" textLength="5.6303" lengthAdjust="spacingAndGlyphs">3</tspan></text>
</g>
</g>
<g id="xtick_51">
<g id="line2d_218">
<path d="M 2033.64 618.12 L 2033.64 343.08" clip-path="url(#p40abb5921b)" style="fill: none; stroke: #b0b0b0; stroke-width: 0.8; stroke-linecap: square"/>
</g>
<g id="line2d_219">
<g>
<use href="#m1504cfccaf" x="2033.64" y="618.12" style="stroke: #000000; stroke-width: 0.8"/>
</g>
</g>
<g id="text_114">
<text style="font-size: 10.600px; font-family: 'Liberation Sans', sans-serif" transform="translate(2033.894 631.96)" y="0"><tspan x="-2.9348" textLength="5.8633" lengthAdjust="spacingAndGlyphs">4</tspan></text>
</g>
</g>
<g id="xtick_52">
<g id="line2d_220">
<path d="M 2124.36 618.12 L 2124.36 343.08" clip-path="url(#p40abb5921b)" style="fill: none; stroke: #b0b0b0; stroke-width: 0.8; stroke-linecap: square"/>
</g>
<g id="line2d_221">
<g>
<use href="#m1504cfccaf" x="2124.36" y="618.12" style="stroke: #000000; stroke-width: 0.8"/>
</g>
</g>
<g id="text_115">
<text style="font-size: 10.600px; font-family: 'Liberation Sans', sans-serif" transform="translate(2123.1317 632.68)" y="0"><tspan x="-2.808" textLength="5.5329" lengthAdjust="spacingAndGlyphs">5</tspan></text>
</g>
</g>
<g id="text_116">
<text style="font-size: 21.200px; font-family: 'Liberation Sans', sans-serif" transform="translate(1906.2252 654.68)" y="0"><tspan x="-98.1908" textLength="10.0023" lengthAdjust="spacingAndGlyphs">a</tspan><tspan x="-86.1211" textLength="10.034" lengthAdjust="spacingAndGlyphs">c</tspan><tspan x="-75.125" textLength="10.034" lengthAdjust="spacingAndGlyphs">c</tspan><tspan x="-64.1941" textLength="12.0143" lengthAdjust="spacingAndGlyphs">e</tspan><tspan x="-51.568" textLength="4.5421" lengthAdjust="spacingAndGlyphs">l</tspan><tspan x="-46.4439" dy="1.44" textLength="9.9203" lengthAdjust="spacingAndGlyphs">_</tspan><tspan x="-36.2154" dy="-1.44" textLength="18.9821" lengthAdjust="spacingAndGlyphs">m</tspan><tspan x="-16.599" textLength="10.0023" lengthAdjust="spacingAndGlyphs">a</tspan><tspan x="-4.3663" textLength="12.1013" lengthAdjust="spacingAndGlyphs">p</tspan><tspan x="7.9897" dy="1.44" textLength="9.9203" lengthAdjust="spacingAndGlyphs">_</tspan><tspan x="18.4654" dy="-1.44" textLength="9.5857" lengthAdjust="spacingAndGlyphs">s</tspan><tspan x="28.586" textLength="10.034" lengthAdjust="spacingAndGlyphs">c</tspan><tspan x="39.7682" textLength="10.0023" lengthAdjust="spacingAndGlyphs">a</tspan><tspan x="52.0941" textLength="4.5421" lengthAdjust="spacingAndGlyphs">l</tspan><tspan x="57.3294" textLength="12.0143" lengthAdjust="spacingAndGlyphs">e</tspan><tspan> </tspan><tspan x="76.0391" dy="-0.3991" textLength="5.7887" lengthAdjust="spacingAndGlyphs">[</tspan><tspan x="83.627" dy="0.3991" textLength="7.1796" lengthAdjust="spacingAndGlyphs">-</tspan><tspan x="92.6058" dy="-0.3991" textLength="5.7887" lengthAdjust="spacingAndGlyphs">]</tspan></text>
</g>
</g>
<g id="matplotlib.axis_16">
<g id="ytick_48">
<g id="line2d_222">
<path d="M 1667.16 616.68 L 2145.96 616.68" clip-path="url(#p40abb5921b)" style="fill: none; stroke: #b0b0b0; stroke-width: 0.8; stroke-linecap: square"/>
</g>
<g id="line2d_223">
<g>
<use href="#m5d545ce8f8" x="1667.16" y="616.68" style="stroke: #000000; stroke-width: 0.8"/>
</g>
</g>
<g id="text_117">
<text style="font-size: 10.600px; font-family: 'Liberation Sans', sans-serif" transform="translate(1659.836 620.5139)" y="0"><tspan x="-15.6559" textLength="5.8626" lengthAdjust="spacingAndGlyphs">0</tspan><tspan x="-9.4597" textLength="3.0063" lengthAdjust="spacingAndGlyphs">.</tspan><tspan x="-6.1149" textLength="5.8626" lengthAdjust="spacingAndGlyphs">0</tspan></text>
</g>
</g>
<g id="ytick_49">
<g id="line2d_224">
<path d="M 1667.16 561.96 L 2145.96 561.96" clip-path="url(#p40abb5921b)" style="fill: none; stroke: #b0b0b0; stroke-width: 0.8; stroke-linecap: square"/>
</g>
<g id="line2d_225">
<g>
<use href="#m5d545ce8f8" x="1667.16" y="561.96" style="stroke: #000000; stroke-width: 0.8"/>
</g>
</g>
<g id="text_118">
<text style="font-size: 10.600px; font-family: 'Liberation Sans', sans-serif" transform="translate(1659.836 565.6895)" y="0"><tspan x="-15.6559" textLength="5.8626" lengthAdjust="spacingAndGlyphs">0</tspan><tspan x="-9.4597" textLength="3.0063" lengthAdjust="spacingAndGlyphs">.</tspan><tspan x="-5.9891" textLength="5.5329" lengthAdjust="spacingAndGlyphs">5</tspan></text>
</g>
</g>
<g id="ytick_50">
<g id="line2d_226">
<path d="M 1667.16 507.24 L 2145.96 507.24" clip-path="url(#p40abb5921b)" style="fill: none; stroke: #b0b0b0; stroke-width: 0.8; stroke-linecap: square"/>
</g>
<g id="line2d_227">
<g>
<use href="#m5d545ce8f8" x="1667.16" y="507.24" style="stroke: #000000; stroke-width: 0.8"/>
</g>
</g>
<g id="text_119">
<text style="font-size: 10.600px; font-family: 'Liberation Sans', sans-serif" transform="translate(1659.836 510.8651)" y="0"><tspan x="-15.5716" textLength="5.5993" lengthAdjust="spacingAndGlyphs">1</tspan><tspan x="-9.4597" textLength="3.0063" lengthAdjust="spacingAndGlyphs">.</tspan><tspan x="-6.1149" textLength="5.8626" lengthAdjust="spacingAndGlyphs">0</tspan></text>
</g>
</g>
<g id="ytick_51">
<g id="line2d_228">
<path d="M 1667.16 452.52 L 2145.96 452.52" clip-path="url(#p40abb5921b)" style="fill: none; stroke: #b0b0b0; stroke-width: 0.8; stroke-linecap: square"/>
</g>
<g id="line2d_229">
<g>
<use href="#m5d545ce8f8" x="1667.16" y="452.52" style="stroke: #000000; stroke-width: 0.8"/>
</g>
</g>
<g id="text_120">
<text style="font-size: 10.600px; font-family: 'Liberation Sans', sans-serif" transform="translate(1659.836 456.0407)" y="0"><tspan x="-15.5716" textLength="5.5993" lengthAdjust="spacingAndGlyphs">1</tspan><tspan x="-9.4597" textLength="3.0063" lengthAdjust="spacingAndGlyphs">.</tspan><tspan x="-5.9891" textLength="5.5329" lengthAdjust="spacingAndGlyphs">5</tspan></text>
</g>
</g>
<g id="ytick_52">
<g id="line2d_230">
<path d="M 1667.16 397.8 L 2145.96 397.8" clip-path="url(#p40abb5921b)" style="fill: none; stroke: #b0b0b0; stroke-width: 0.8; stroke-linecap: square"/>
</g>
<g id="line2d_231">
<g>
<use href="#m5d545ce8f8" x="1667.16" y="397.8" style="stroke: #000000; stroke-width: 0.8"/>
</g>
</g>
<g id="text_121">
<text style="font-size: 10.600px; font-family: 'Liberation Sans', sans-serif" transform="translate(1659.836 401.2164)" y="0"><tspan x="-15.6819" textLength="5.6509" lengthAdjust="spacingAndGlyphs">2</tspan><tspan x="-9.4597" textLength="3.0063" lengthAdjust="spacingAndGlyphs">.</tspan><tspan x="-6.1149" textLength="5.8626" lengthAdjust="spacingAndGlyphs">0</tspan></text>
</g>
</g>
<g id="ytick_53">
<g id="line2d_232">
<path d="M 1667.16 343.08 L 2145.96 343.08" clip-path="url(#p40abb5921b)" style="fill: none; stroke: #b0b0b0; stroke-width: 0.8; stroke-linecap: square"/>
</g>
<g id="line2d_233">
<g>
<use href="#m5d545ce8f8" x="1667.16" y="343.08" style="stroke: #000000; stroke-width: 0.8"/>
</g>
</g>
<g id="text_122">
<text style="font-size: 10.600px; font-family: 'Liberation Sans', sans-serif" transform="translate(1659.836 346.392)" y="0"><tspan x="-15.6819" textLength="5.6509" lengthAdjust="spacingAndGlyphs">2</tspan><tspan x="-9.4597" textLength="3.0063" lengthAdjust="spacingAndGlyphs">.</tspan><tspan x="-5.9891" textLength="5.5329" lengthAdjust="spacingAndGlyphs">5</tspan></text>
</g>
</g>
<g id="text_123">
<text style="font-size: 21.200px; font-family: 'Liberation Sans', sans-serif" transform="translate(1635.84 482.976) rotate(-90)" y="0"><tspan x="-93.1851" textLength="18.9821" lengthAdjust="spacingAndGlyphs">m</tspan><tspan x="-73.5687" textLength="10.0023" lengthAdjust="spacingAndGlyphs">a</tspan><tspan x="-61.423" textLength="11.093" lengthAdjust="spacingAndGlyphs">x</tspan><tspan x="-49.8394" dy="1.44" textLength="9.9203" lengthAdjust="spacingAndGlyphs">_</tspan><tspan x="-39.4769" dy="-1.44" textLength="10.0023" lengthAdjust="spacingAndGlyphs">a</tspan><tspan x="-27.2442" textLength="12.1013" lengthAdjust="spacingAndGlyphs">b</tspan><tspan x="-14.4125" textLength="9.5857" lengthAdjust="spacingAndGlyphs">s</tspan><tspan x="-4.4683" dy="1.44" textLength="9.9203" lengthAdjust="spacingAndGlyphs">_</tspan><tspan x="5.979" dy="-1.44" textLength="10.7921" lengthAdjust="spacingAndGlyphs">v</tspan><tspan x="17.4788" textLength="12.0143" lengthAdjust="spacingAndGlyphs">e</tspan><tspan x="30.1048" textLength="4.5421" lengthAdjust="spacingAndGlyphs">l</tspan><tspan x="35.229" dy="1.44" textLength="9.9203" lengthAdjust="spacingAndGlyphs">_</tspan><tspan x="45.3401" dy="-1.44" textLength="12.0143" lengthAdjust="spacingAndGlyphs">e</tspan><tspan x="57.5737" textLength="8.5333" lengthAdjust="spacingAndGlyphs">r</tspan><tspan x="65.4214" textLength="8.5333" lengthAdjust="spacingAndGlyphs">r</tspan><tspan x="73.24" textLength="11.8247" lengthAdjust="spacingAndGlyphs">o</tspan><tspan x="85.3804" textLength="8.5333" lengthAdjust="spacingAndGlyphs">r</tspan></text>
</g>
</g>
<g id="line2d_234">
<path d="M 1688.598655 388.594122
L 1715.801973 493.966566
L 1761.140836 449.778122
L 1851.818564 580.479427
L 1942.496291 564.032115
L 2033.174018 560.96195
L 2123.851745 563.59352
" clip-path="url(#p40abb5921b)" style="fill: none; stroke: #1f77b4; stroke-width: 1.5; stroke-linecap: square"/>
<g clip-path="url(#p40abb5921b)">
<use href="#mf14c53ed57" x="1688.76" y="389.16" style="fill: #1f77b4; stroke: #1f77b4"/>
<use href="#mf14c53ed57" x="1716.12" y="494.28" style="fill: #1f77b4; stroke: #1f77b4"/>
<use href="#mf14c53ed57" x="1761.48" y="450.36" style="fill: #1f77b4; stroke: #1f77b4"/>
<use href="#mf14c53ed57" x="1852.2" y="580.68" style="fill: #1f77b4; stroke: #1f77b4"/>
<use href="#mf14c53ed57" x="1942.92" y="564.12" style="fill: #1f77b4; stroke: #1f77b4"/>
<use href="#mf14c53ed57" x="2033.64" y="561.24" style="fill: #1f77b4; stroke: #1f77b4"/>
<use href="#mf14c53ed57" x="2124.36" y="564.12" style="fill: #1f77b4; stroke: #1f77b4"/>
</g>
</g>
<g id="line2d_235">
<path d="M 1688.598655 387.168688
L 1715.801973 494.405161
L 1761.140836 373.572244
L 1851.818564 578.725047
L 1942.496291 568.089118
L 2033.174018 560.523355
L 2123.851745 569.514552
" clip-path="url(#p40abb5921b)" style="fill: none; stroke: #ff7f0e; stroke-width: 1.5; stroke-linecap: square"/>
<g clip-path="url(#p40abb5921b)">
<use href="#mcd47077251" x="1688.76" y="387.72" style="fill: #ff7f0e; stroke: #ff7f0e"/>
<use href="#mcd47077251" x="1716.12" y="495" style="fill: #ff7f0e; stroke: #ff7f0e"/>
<use href="#mcd47077251" x="1761.48" y="374.04" style="fill: #ff7f0e; stroke: #ff7f0e"/>
<use href="#mcd47077251" x="1852.2" y="579.24" style="fill: #ff7f0e; stroke: #ff7f0e"/>
<use href="#mcd47077251" x="1942.92" y="568.44" style="fill: #ff7f0e; stroke: #ff7f0e"/>
<use href="#mcd47077251" x="2033.64" y="561.24" style="fill: #ff7f0e; stroke: #ff7f0e"/>
<use href="#mcd47077251" x="2124.36" y="569.88" style="fill: #ff7f0e; stroke: #ff7f0e"/>
</g>
</g>
<g id="patch_39">
<path d="M 1667.16 618.12 L 1667.16 343.08" style="fill: none; stroke: #000000; stroke-width: 0.8; stroke-linejoin: miter; stroke-linecap: square"/>
</g>
<g id="patch_40">
<path d="M 2145.96 618.12 L 2145.96 343.08" style="fill: none; stroke: #000000; stroke-width: 0.8; stroke-linejoin: miter; stroke-linecap: square"/>
</g>
<g id="patch_41">
<path d="M 1667.16 618.12 L 2145.96 618.12" style="fill: none; stroke: #000000; stroke-width: 0.8; stroke-linejoin: miter; stroke-linecap: square"/>
</g>
<g id="patch_42">
<path d="M 1667.16 343.08 L 2145.96 343.08" style="fill: none; stroke: #000000; stroke-width: 0.8; stroke-linejoin: miter; stroke-linecap: square"/>
</g>
</g>
<g id="axes_9">
<g id="patch_43">
<path d="M 54.936 949.68
L 533.7144 949.68
L 533.7144 674.352
L 54.936 674.352
z
" style="fill: #ffffff"/>
</g>
<g id="matplotlib.axis_17">
<g id="xtick_53">
<g id="line2d_236">
<path d="M 58.68 950.04 L 58.68 675" clip-path="url(#pb0c076c4b3)" style="fill: none; stroke: #b0b0b0; stroke-width: 0.8; stroke-linecap: square"/>
</g>
<g id="line2d_237">
<g>
<use href="#m1504cfccaf" x="58.68" y="950.04" style="stroke: #000000; stroke-width: 0.8"/>
</g>
</g>
<g id="text_124">
<text style="font-size: 10.600px; font-family: 'Liberation Sans', sans-serif" transform="translate(59.3133 964.6)" y="0"><tspan x="-2.9337" textLength="5.8626" lengthAdjust="spacingAndGlyphs">0</tspan></text>
</g>
</g>
<g id="xtick_54">
<g id="line2d_238">
<path d="M 149.4 950.04 L 149.4 675" clip-path="url(#pb0c076c4b3)" style="fill: none; stroke: #b0b0b0; stroke-width: 0.8; stroke-linecap: square"/>
</g>
<g id="line2d_239">
<g>
<use href="#m1504cfccaf" x="149.4" y="950.04" style="stroke: #000000; stroke-width: 0.8"/>
</g>
</g>
<g id="text_125">
<text style="font-size: 10.600px; font-family: 'Liberation Sans', sans-serif" transform="translate(149.1201 964.6)" y="0"><tspan x="-2.8494" textLength="5.5993" lengthAdjust="spacingAndGlyphs">1</tspan></text>
</g>
</g>
<g id="xtick_55">
<g id="line2d_240">
<path d="M 240.12 950.04 L 240.12 675" clip-path="url(#pb0c076c4b3)" style="fill: none; stroke: #b0b0b0; stroke-width: 0.8; stroke-linecap: square"/>
</g>
<g id="line2d_241">
<g>
<use href="#m1504cfccaf" x="240.12" y="950.04" style="stroke: #000000; stroke-width: 0.8"/>
</g>
</g>
<g id="text_126">
<text style="font-size: 10.600px; font-family: 'Liberation Sans', sans-serif" transform="translate(239.647 964.6)" y="0"><tspan x="-2.9597" textLength="5.6509" lengthAdjust="spacingAndGlyphs">2</tspan></text>
</g>
</g>
<g id="xtick_56">
<g id="line2d_242">
<path d="M 330.84 950.04 L 330.84 675" clip-path="url(#pb0c076c4b3)" style="fill: none; stroke: #b0b0b0; stroke-width: 0.8; stroke-linecap: square"/>
</g>
<g id="line2d_243">
<g>
<use href="#m1504cfccaf" x="330.84" y="950.04" style="stroke: #000000; stroke-width: 0.8"/>
</g>
</g>
<g id="text_127">
<text style="font-size: 10.600px; font-family: 'Liberation Sans', sans-serif" transform="translate(330.1738 964.6)" y="0"><tspan x="-2.805" textLength="5.6303" lengthAdjust="spacingAndGlyphs">3</tspan></text>
</g>
</g>
<g id="xtick_57">
<g id="line2d_244">
<path d="M 420.84 950.04 L 420.84 675" clip-path="url(#pb0c076c4b3)" style="fill: none; stroke: #b0b0b0; stroke-width: 0.8; stroke-linecap: square"/>
</g>
<g id="line2d_245">
<g>
<use href="#m1504cfccaf" x="420.84" y="950.04" style="stroke: #000000; stroke-width: 0.8"/>
</g>
</g>
<g id="text_128">
<text style="font-size: 10.600px; font-family: 'Liberation Sans', sans-serif" transform="translate(421.4207 963.88)" y="0"><tspan x="-2.9348" textLength="5.8633" lengthAdjust="spacingAndGlyphs">4</tspan></text>
</g>
</g>
<g id="xtick_58">
<g id="line2d_246">
<path d="M 511.56 950.04 L 511.56 675" clip-path="url(#pb0c076c4b3)" style="fill: none; stroke: #b0b0b0; stroke-width: 0.8; stroke-linecap: square"/>
</g>
<g id="line2d_247">
<g>
<use href="#m1504cfccaf" x="511.56" y="950.04" style="stroke: #000000; stroke-width: 0.8"/>
</g>
</g>
<g id="text_129">
<text style="font-size: 10.600px; font-family: 'Liberation Sans', sans-serif" transform="translate(511.2275 964.6)" y="0"><tspan x="-2.808" textLength="5.5329" lengthAdjust="spacingAndGlyphs">5</tspan></text>
</g>
</g>
<g id="text_130">
<text style="font-size: 21.200px; font-family: 'Liberation Sans', sans-serif" transform="translate(294.3252 986.6)" y="0"><tspan x="-71.3548" textLength="10.0023" lengthAdjust="spacingAndGlyphs">a</tspan><tspan x="-59.2851" textLength="10.034" lengthAdjust="spacingAndGlyphs">c</tspan><tspan x="-48.289" textLength="10.034" lengthAdjust="spacingAndGlyphs">c</tspan><tspan x="-37.4693" dy="1.44" textLength="9.9203" lengthAdjust="spacingAndGlyphs">_</tspan><tspan x="-26.9935" dy="-1.44" textLength="9.5857" lengthAdjust="spacingAndGlyphs">s</tspan><tspan x="-16.873" textLength="10.034" lengthAdjust="spacingAndGlyphs">c</tspan><tspan x="-5.6908" textLength="10.0023" lengthAdjust="spacingAndGlyphs">a</tspan><tspan x="6.6351" textLength="4.5421" lengthAdjust="spacingAndGlyphs">l</tspan><tspan x="12.2017" textLength="4.5421" lengthAdjust="spacingAndGlyphs">i</tspan><tspan x="17.6257" textLength="11.9924" lengthAdjust="spacingAndGlyphs">n</tspan><tspan x="30.1077" textLength="12.0892" lengthAdjust="spacingAndGlyphs">g</tspan><tspan> </tspan><tspan x="49.2031" dy="-0.3991" textLength="5.7887" lengthAdjust="spacingAndGlyphs">[</tspan><tspan x="56.791" dy="0.3991" textLength="7.1796" lengthAdjust="spacingAndGlyphs">-</tspan><tspan x="65.7698" dy="-0.3991" textLength="5.7887" lengthAdjust="spacingAndGlyphs">]</tspan></text>
</g>
</g>
<g id="matplotlib.axis_18">
<g id="ytick_54">
<g id="line2d_248">
<path d="M 55.08 948.6 L 533.88 948.6" clip-path="url(#pb0c076c4b3)" style="fill: none; stroke: #b0b0b0; stroke-width: 0.8; stroke-linecap: square"/>
</g>
<g id="line2d_249">
<g>
<use href="#m5d545ce8f8" x="55.08" y="948.6" style="stroke: #000000; stroke-width: 0.8"/>
</g>
</g>
<g id="text_131">
<text style="font-size: 10.600px; font-family: 'Liberation Sans', sans-serif" transform="translate(48.656 952.4339)" y="0"><tspan x="-15.6559" textLength="5.8626" lengthAdjust="spacingAndGlyphs">0</tspan><tspan x="-9.4597" textLength="3.0063" lengthAdjust="spacingAndGlyphs">.</tspan><tspan x="-6.1149" textLength="5.8626" lengthAdjust="spacingAndGlyphs">0</tspan></text>
</g>
</g>
<g id="ytick_55">
<g id="line2d_250">
<path d="M 55.08 893.88 L 533.88 893.88" clip-path="url(#pb0c076c4b3)" style="fill: none; stroke: #b0b0b0; stroke-width: 0.8; stroke-linecap: square"/>
</g>
<g id="line2d_251">
<g>
<use href="#m5d545ce8f8" x="55.08" y="893.88" style="stroke: #000000; stroke-width: 0.8"/>
</g>
</g>
<g id="text_132">
<text style="font-size: 10.600px; font-family: 'Liberation Sans', sans-serif" transform="translate(48.656 897.6095)" y="0"><tspan x="-15.6559" textLength="5.8626" lengthAdjust="spacingAndGlyphs">0</tspan><tspan x="-9.4597" textLength="3.0063" lengthAdjust="spacingAndGlyphs">.</tspan><tspan x="-5.9891" textLength="5.5329" lengthAdjust="spacingAndGlyphs">5</tspan></text>
</g>
</g>
<g id="ytick_56">
<g id="line2d_252">
<path d="M 55.08 839.16 L 533.88 839.16" clip-path="url(#pb0c076c4b3)" style="fill: none; stroke: #b0b0b0; stroke-width: 0.8; stroke-linecap: square"/>
</g>
<g id="line2d_253">
<g>
<use href="#m5d545ce8f8" x="55.08" y="839.16" style="stroke: #000000; stroke-width: 0.8"/>
</g>
</g>
<g id="text_133">
<text style="font-size: 10.600px; font-family: 'Liberation Sans', sans-serif" transform="translate(47.936 842.7851)" y="0"><tspan x="-15.5716" textLength="5.5993" lengthAdjust="spacingAndGlyphs">1</tspan><tspan x="-9.4597" textLength="3.0063" lengthAdjust="spacingAndGlyphs">.</tspan><tspan x="-6.1149" textLength="5.8626" lengthAdjust="spacingAndGlyphs">0</tspan></text>
</g>
</g>
<g id="ytick_57">
<g id="line2d_254">
<path d="M 55.08 784.44 L 533.88 784.44" clip-path="url(#pb0c076c4b3)" style="fill: none; stroke: #b0b0b0; stroke-width: 0.8; stroke-linecap: square"/>
</g>
<g id="line2d_255">
<g>
<use href="#m5d545ce8f8" x="55.08" y="784.44" style="stroke: #000000; stroke-width: 0.8"/>
</g>
</g>
<g id="text_134">
<text style="font-size: 10.600px; font-family: 'Liberation Sans', sans-serif" transform="translate(47.936 787.9607)" y="0"><tspan x="-15.5716" textLength="5.5993" lengthAdjust="spacingAndGlyphs">1</tspan><tspan x="-9.4597" textLength="3.0063" lengthAdjust="spacingAndGlyphs">.</tspan><tspan x="-5.9891" textLength="5.5329" lengthAdjust="spacingAndGlyphs">5</tspan></text>
</g>
</g>
<g id="ytick_58">
<g id="line2d_256">
<path d="M 55.08 729.72 L 533.88 729.72" clip-path="url(#pb0c076c4b3)" style="fill: none; stroke: #b0b0b0; stroke-width: 0.8; stroke-linecap: square"/>
</g>
<g id="line2d_257">
<g>
<use href="#m5d545ce8f8" x="55.08" y="729.72" style="stroke: #000000; stroke-width: 0.8"/>
</g>
</g>
<g id="text_135">
<text style="font-size: 10.600px; font-family: 'Liberation Sans', sans-serif" transform="translate(47.936 733.1364)" y="0"><tspan x="-15.6819" textLength="5.6509" lengthAdjust="spacingAndGlyphs">2</tspan><tspan x="-9.4597" textLength="3.0063" lengthAdjust="spacingAndGlyphs">.</tspan><tspan x="-6.1149" textLength="5.8626" lengthAdjust="spacingAndGlyphs">0</tspan></text>
</g>
</g>
<g id="ytick_59">
<g id="line2d_258">
<path d="M 55.08 675 L 533.88 675" clip-path="url(#pb0c076c4b3)" style="fill: none; stroke: #b0b0b0; stroke-width: 0.8; stroke-linecap: square"/>
</g>
<g id="line2d_259">
<g>
<use href="#m5d545ce8f8" x="55.08" y="675" style="stroke: #000000; stroke-width: 0.8"/>
</g>
</g>
<g id="text_136">
<text style="font-size: 10.600px; font-family: 'Liberation Sans', sans-serif" transform="translate(47.936 678.312)" y="0"><tspan x="-15.6819" textLength="5.6509" lengthAdjust="spacingAndGlyphs">2</tspan><tspan x="-9.4597" textLength="3.0063" lengthAdjust="spacingAndGlyphs">.</tspan><tspan x="-5.9891" textLength="5.5329" lengthAdjust="spacingAndGlyphs">5</tspan></text>
</g>
</g>
<g id="text_137">
<text style="font-size: 21.200px; font-family: 'Liberation Sans', sans-serif" transform="translate(24.48 814.896) rotate(-90)" y="0"><tspan x="-93.1851" textLength="18.9821" lengthAdjust="spacingAndGlyphs">m</tspan><tspan x="-73.5687" textLength="10.0023" lengthAdjust="spacingAndGlyphs">a</tspan><tspan x="-61.423" textLength="11.093" lengthAdjust="spacingAndGlyphs">x</tspan><tspan x="-49.8394" dy="1.44" textLength="9.9203" lengthAdjust="spacingAndGlyphs">_</tspan><tspan x="-39.4769" dy="-1.44" textLength="10.0023" lengthAdjust="spacingAndGlyphs">a</tspan><tspan x="-27.2442" textLength="12.1013" lengthAdjust="spacingAndGlyphs">b</tspan><tspan x="-14.4125" textLength="9.5857" lengthAdjust="spacingAndGlyphs">s</tspan><tspan x="-4.4683" dy="1.44" textLength="9.9203" lengthAdjust="spacingAndGlyphs">_</tspan><tspan x="5.979" dy="-1.44" textLength="10.7921" lengthAdjust="spacingAndGlyphs">v</tspan><tspan x="17.4788" textLength="12.0143" lengthAdjust="spacingAndGlyphs">e</tspan><tspan x="30.1048" textLength="4.5421" lengthAdjust="spacingAndGlyphs">l</tspan><tspan x="35.229" dy="1.44" textLength="9.9203" lengthAdjust="spacingAndGlyphs">_</tspan><tspan x="45.3401" dy="-1.44" textLength="12.0143" lengthAdjust="spacingAndGlyphs">e</tspan><tspan x="57.5737" textLength="8.5333" lengthAdjust="spacingAndGlyphs">r</tspan><tspan x="65.4214" textLength="8.5333" lengthAdjust="spacingAndGlyphs">r</tspan><tspan x="73.24" textLength="11.8247" lengthAdjust="spacingAndGlyphs">o</tspan><tspan x="85.3804" textLength="8.5333" lengthAdjust="spacingAndGlyphs">r</tspan></text>
</g>
</g>
<g id="line2d_260">
<path d="M 76.698655 706.259785
L 103.856709 911.960832
L 149.120134 909.548559
L 239.646983 916.127484
L 330.173832 918.539756
L 420.700681 920.513434
L 511.951745 922.158165
" clip-path="url(#pb0c076c4b3)" style="fill: none; stroke: #1f77b4; stroke-width: 1.5; stroke-linecap: square"/>
<g clip-path="url(#pb0c076c4b3)">
<use href="#mf14c53ed57" x="77.4" y="706.68" style="fill: #1f77b4; stroke: #1f77b4"/>
<use href="#mf14c53ed57" x="104.04" y="912.6" style="fill: #1f77b4; stroke: #1f77b4"/>
<use href="#mf14c53ed57" x="149.4" y="909.72" style="fill: #1f77b4; stroke: #1f77b4"/>
<use href="#mf14c53ed57" x="240.12" y="916.2" style="fill: #1f77b4; stroke: #1f77b4"/>
<use href="#mf14c53ed57" x="330.84" y="919.08" style="fill: #1f77b4; stroke: #1f77b4"/>
<use href="#mf14c53ed57" x="420.84" y="920.52" style="fill: #1f77b4; stroke: #1f77b4"/>
<use href="#mf14c53ed57" x="512.28" y="922.68" style="fill: #1f77b4; stroke: #1f77b4"/>
</g>
</g>
<g id="line2d_261">
<path d="M 76.698655 716.786065
L 103.856709 911.412588
L 149.120134 913.166968
L 239.646983 916.346781
L 330.173832 918.101161
L 420.700681 921.71957
L 511.951745 921.500272
" clip-path="url(#pb0c076c4b3)" style="fill: none; stroke: #ff7f0e; stroke-width: 1.5; stroke-linecap: square"/>
<g clip-path="url(#pb0c076c4b3)">
<use href="#mcd47077251" x="77.4" y="717.48" style="fill: #ff7f0e; stroke: #ff7f0e"/>
<use href="#mcd47077251" x="104.04" y="911.88" style="fill: #ff7f0e; stroke: #ff7f0e"/>
<use href="#mcd47077251" x="149.4" y="913.32" style="fill: #ff7f0e; stroke: #ff7f0e"/>
<use href="#mcd47077251" x="240.12" y="916.92" style="fill: #ff7f0e; stroke: #ff7f0e"/>
<use href="#mcd47077251" x="330.84" y="918.36" style="fill: #ff7f0e; stroke: #ff7f0e"/>
<use href="#mcd47077251" x="420.84" y="921.96" style="fill: #ff7f0e; stroke: #ff7f0e"/>
<use href="#mcd47077251" x="512.28" y="921.96" style="fill: #ff7f0e; stroke: #ff7f0e"/>
</g>
</g>
<g id="line2d_262">
<path d="M 149.04 959.76 L 149.04 619.2" clip-path="url(#pb0c076c4b3)" style="fill: none; stroke-dasharray: 5.55,2.4; stroke-dashoffset: 0; stroke: #000000; stroke-width: 1.5"/>
</g>
<g id="patch_44">
<path d="M 55.08 950.04 L 55.08 675" style="fill: none; stroke: #000000; stroke-width: 0.8; stroke-linejoin: miter; stroke-linecap: square"/>
</g>
<g id="patch_45">
<path d="M 533.88 950.04 L 533.88 675" style="fill: none; stroke: #000000; stroke-width: 0.8; stroke-linejoin: miter; stroke-linecap: square"/>
</g>
<g id="patch_46">
<path d="M 55.08 950.04 L 533.88 950.04" style="fill: none; stroke: #000000; stroke-width: 0.8; stroke-linejoin: miter; stroke-linecap: square"/>
</g>
<g id="patch_47">
<path d="M 55.08 675 L 533.88 675" style="fill: none; stroke: #000000; stroke-width: 0.8; stroke-linejoin: miter; stroke-linecap: square"/>
</g>
</g>
<g id="axes_10">
<g id="patch_48">
<path d="M 592.236 949.68
L 1071.0144 949.68
L 1071.0144 674.352
L 592.236 674.352
z
" style="fill: #ffffff"/>
</g>
<g id="matplotlib.axis_19">
<g id="xtick_59">
<g id="line2d_263">
<path d="M 596.52 950.04 L 596.52 675" clip-path="url(#p06bfef8a76)" style="fill: none; stroke: #b0b0b0; stroke-width: 0.8; stroke-linecap: square"/>
</g>
<g id="line2d_264">
<g>
<use href="#m1504cfccaf" x="596.52" y="950.04" style="stroke: #000000; stroke-width: 0.8"/>
</g>
</g>
<g id="text_138">
<text style="font-size: 10.600px; font-family: 'Liberation Sans', sans-serif" transform="translate(596.1301 964.6)" y="0"><tspan x="-2.9337" textLength="5.8626" lengthAdjust="spacingAndGlyphs">0</tspan></text>
</g>
</g>
<g id="xtick_60">
<g id="line2d_265">
<path d="M 686.52 950.04 L 686.52 675" clip-path="url(#p06bfef8a76)" style="fill: none; stroke: #b0b0b0; stroke-width: 0.8; stroke-linecap: square"/>
</g>
<g id="line2d_266">
<g>
<use href="#m1504cfccaf" x="686.52" y="950.04" style="stroke: #000000; stroke-width: 0.8"/>
</g>
</g>
<g id="text_139">
<text style="font-size: 10.600px; font-family: 'Liberation Sans', sans-serif" transform="translate(686.3754 964.6)" y="0"><tspan x="-2.8494" textLength="5.5993" lengthAdjust="spacingAndGlyphs">1</tspan></text>
</g>
</g>
<g id="xtick_61">
<g id="line2d_267">
<path d="M 777.24 950.04 L 777.24 675" clip-path="url(#p06bfef8a76)" style="fill: none; stroke: #b0b0b0; stroke-width: 0.8; stroke-linecap: square"/>
</g>
<g id="line2d_268">
<g>
<use href="#m1504cfccaf" x="777.24" y="950.04" style="stroke: #000000; stroke-width: 0.8"/>
</g>
</g>
<g id="text_140">
<text style="font-size: 10.600px; font-family: 'Liberation Sans', sans-serif" transform="translate(776.6207 964.6)" y="0"><tspan x="-2.9597" textLength="5.6509" lengthAdjust="spacingAndGlyphs">2</tspan></text>
</g>
</g>
<g id="xtick_62">
<g id="line2d_269">
<path d="M 867.24 950.04 L 867.24 675" clip-path="url(#p06bfef8a76)" style="fill: none; stroke: #b0b0b0; stroke-width: 0.8; stroke-linecap: square"/>
</g>
<g id="line2d_270">
<g>
<use href="#m1504cfccaf" x="867.24" y="950.04" style="stroke: #000000; stroke-width: 0.8"/>
</g>
</g>
<g id="text_141">
<text style="font-size: 10.600px; font-family: 'Liberation Sans', sans-serif" transform="translate(866.866 964.6)" y="0"><tspan x="-2.805" textLength="5.6303" lengthAdjust="spacingAndGlyphs">3</tspan></text>
</g>
</g>
<g id="xtick_63">
<g id="line2d_271">
<path d="M 957.24 950.04 L 957.24 675" clip-path="url(#p06bfef8a76)" style="fill: none; stroke: #b0b0b0; stroke-width: 0.8; stroke-linecap: square"/>
</g>
<g id="line2d_272">
<g>
<use href="#m1504cfccaf" x="957.24" y="950.04" style="stroke: #000000; stroke-width: 0.8"/>
</g>
</g>
<g id="text_142">
<text style="font-size: 10.600px; font-family: 'Liberation Sans', sans-serif" transform="translate(957.8313 963.88)" y="0"><tspan x="-2.9348" textLength="5.8633" lengthAdjust="spacingAndGlyphs">4</tspan></text>
</g>
</g>
<g id="xtick_64">
<g id="line2d_273">
<path d="M 1047.96 950.04 L 1047.96 675" clip-path="url(#p06bfef8a76)" style="fill: none; stroke: #b0b0b0; stroke-width: 0.8; stroke-linecap: square"/>
</g>
<g id="line2d_274">
<g>
<use href="#m1504cfccaf" x="1047.96" y="950.04" style="stroke: #000000; stroke-width: 0.8"/>
</g>
</g>
<g id="text_143">
<text style="font-size: 10.600px; font-family: 'Liberation Sans', sans-serif" transform="translate(1047.3566 964.6)" y="0"><tspan x="-2.808" textLength="5.5329" lengthAdjust="spacingAndGlyphs">5</tspan></text>
</g>
</g>
<g id="text_144">
<text style="font-size: 21.200px; font-family: 'Liberation Sans', sans-serif" transform="translate(831.6252 986.6)" y="0"><tspan x="-79.6644" textLength="9.5857" lengthAdjust="spacingAndGlyphs">s</tspan><tspan x="-69.6624" textLength="7.4266" lengthAdjust="spacingAndGlyphs">t</tspan><tspan x="-61.7673" textLength="12.0143" lengthAdjust="spacingAndGlyphs">e</tspan><tspan x="-49.4626" textLength="12.0143" lengthAdjust="spacingAndGlyphs">e</tspan><tspan x="-37.229" textLength="8.5333" lengthAdjust="spacingAndGlyphs">r</tspan><tspan x="-29.0464" dy="1.44" textLength="9.9203" lengthAdjust="spacingAndGlyphs">_</tspan><tspan x="-18.5707" dy="-1.44" textLength="9.5857" lengthAdjust="spacingAndGlyphs">s</tspan><tspan x="-8.4502" textLength="10.034" lengthAdjust="spacingAndGlyphs">c</tspan><tspan x="2.7321" textLength="10.0023" lengthAdjust="spacingAndGlyphs">a</tspan><tspan x="15.0579" textLength="4.5421" lengthAdjust="spacingAndGlyphs">l</tspan><tspan x="20.6246" textLength="4.5421" lengthAdjust="spacingAndGlyphs">i</tspan><tspan x="26.0485" textLength="11.9924" lengthAdjust="spacingAndGlyphs">n</tspan><tspan x="38.5306" textLength="12.0892" lengthAdjust="spacingAndGlyphs">g</tspan><tspan> </tspan><tspan x="57.626" dy="-0.3991" textLength="5.7887" lengthAdjust="spacingAndGlyphs">[</tspan><tspan x="65.2139" dy="0.3991" textLength="7.1796" lengthAdjust="spacingAndGlyphs">-</tspan><tspan x="74.1927" dy="-0.3991" textLength="5.7887" lengthAdjust="spacingAndGlyphs">]</tspan></text>
</g>
</g>
<g id="matplotlib.axis_20">
<g id="ytick_60">
<g id="line2d_275">
<path d="M 592.92 929.16 L 1071.72 929.16" clip-path="url(#p06bfef8a76)" style="fill: none; stroke: #b0b0b0; stroke-width: 0.8; stroke-linecap: square"/>
</g>
<g id="line2d_276">
<g>
<use href="#m5d545ce8f8" x="592.92" y="929.16" style="stroke: #000000; stroke-width: 0.8"/>
</g>
</g>
<g id="text_145">
<text style="font-size: 10.600px; font-family: 'Liberation Sans', sans-serif" transform="translate(585.956 933.051)" y="0"><tspan x="-15.6559" textLength="5.8626" lengthAdjust="spacingAndGlyphs">0</tspan><tspan x="-9.4597" textLength="3.0063" lengthAdjust="spacingAndGlyphs">.</tspan><tspan x="-6.1149" textLength="5.8626" lengthAdjust="spacingAndGlyphs">0</tspan></text>
</g>
</g>
<g id="ytick_61">
<g id="line2d_277">
<path d="M 592.92 888.84 L 1071.72 888.84" clip-path="url(#p06bfef8a76)" style="fill: none; stroke: #b0b0b0; stroke-width: 0.8; stroke-linecap: square"/>
</g>
<g id="line2d_278">
<g>
<use href="#m5d545ce8f8" x="592.92" y="888.84" style="stroke: #000000; stroke-width: 0.8"/>
</g>
</g>
<g id="text_146">
<text style="font-size: 10.600px; font-family: 'Liberation Sans', sans-serif" transform="translate(585.956 892.6803)" y="0"><tspan x="-15.6559" textLength="5.8626" lengthAdjust="spacingAndGlyphs">0</tspan><tspan x="-9.4597" textLength="3.0063" lengthAdjust="spacingAndGlyphs">.</tspan><tspan x="-5.9891" textLength="5.5329" lengthAdjust="spacingAndGlyphs">5</tspan></text>
</g>
</g>
<g id="ytick_62">
<g id="line2d_279">
<path d="M 592.92 848.52 L 1071.72 848.52" clip-path="url(#p06bfef8a76)" style="fill: none; stroke: #b0b0b0; stroke-width: 0.8; stroke-linecap: square"/>
</g>
<g id="line2d_280">
<g>
<use href="#m5d545ce8f8" x="592.92" y="848.52" style="stroke: #000000; stroke-width: 0.8"/>
</g>
</g>
<g id="text_147">
<text style="font-size: 10.600px; font-family: 'Liberation Sans', sans-serif" transform="translate(585.236 852.3096)" y="0"><tspan x="-15.5716" textLength="5.5993" lengthAdjust="spacingAndGlyphs">1</tspan><tspan x="-9.4597" textLength="3.0063" lengthAdjust="spacingAndGlyphs">.</tspan><tspan x="-6.1149" textLength="5.8626" lengthAdjust="spacingAndGlyphs">0</tspan></text>
</g>
</g>
<g id="ytick_63">
<g id="line2d_281">
<path d="M 592.92 808.2 L 1071.72 808.2" clip-path="url(#p06bfef8a76)" style="fill: none; stroke: #b0b0b0; stroke-width: 0.8; stroke-linecap: square"/>
</g>
<g id="line2d_282">
<g>
<use href="#m5d545ce8f8" x="592.92" y="808.2" style="stroke: #000000; stroke-width: 0.8"/>
</g>
</g>
<g id="text_148">
<text style="font-size: 10.600px; font-family: 'Liberation Sans', sans-serif" transform="translate(585.236 811.9389)" y="0"><tspan x="-15.5716" textLength="5.5993" lengthAdjust="spacingAndGlyphs">1</tspan><tspan x="-9.4597" textLength="3.0063" lengthAdjust="spacingAndGlyphs">.</tspan><tspan x="-5.9891" textLength="5.5329" lengthAdjust="spacingAndGlyphs">5</tspan></text>
</g>
</g>
<g id="ytick_64">
<g id="line2d_283">
<path d="M 592.92 767.88 L 1071.72 767.88" clip-path="url(#p06bfef8a76)" style="fill: none; stroke: #b0b0b0; stroke-width: 0.8; stroke-linecap: square"/>
</g>
<g id="line2d_284">
<g>
<use href="#m5d545ce8f8" x="592.92" y="767.88" style="stroke: #000000; stroke-width: 0.8"/>
</g>
</g>
<g id="text_149">
<text style="font-size: 10.600px; font-family: 'Liberation Sans', sans-serif" transform="translate(585.236 771.5683)" y="0"><tspan x="-15.6819" textLength="5.6509" lengthAdjust="spacingAndGlyphs">2</tspan><tspan x="-9.4597" textLength="3.0063" lengthAdjust="spacingAndGlyphs">.</tspan><tspan x="-6.1149" textLength="5.8626" lengthAdjust="spacingAndGlyphs">0</tspan></text>
</g>
</g>
<g id="ytick_65">
<g id="line2d_285">
<path d="M 592.92 727.56 L 1071.72 727.56" clip-path="url(#p06bfef8a76)" style="fill: none; stroke: #b0b0b0; stroke-width: 0.8; stroke-linecap: square"/>
</g>
<g id="line2d_286">
<g>
<use href="#m5d545ce8f8" x="592.92" y="727.56" style="stroke: #000000; stroke-width: 0.8"/>
</g>
</g>
<g id="text_150">
<text style="font-size: 10.600px; font-family: 'Liberation Sans', sans-serif" transform="translate(585.236 731.1976)" y="0"><tspan x="-15.6819" textLength="5.6509" lengthAdjust="spacingAndGlyphs">2</tspan><tspan x="-9.4597" textLength="3.0063" lengthAdjust="spacingAndGlyphs">.</tspan><tspan x="-5.9891" textLength="5.5329" lengthAdjust="spacingAndGlyphs">5</tspan></text>
</g>
</g>
<g id="ytick_66">
<g id="line2d_287">
<path d="M 592.92 687.24 L 1071.72 687.24" clip-path="url(#p06bfef8a76)" style="fill: none; stroke: #b0b0b0; stroke-width: 0.8; stroke-linecap: square"/>
</g>
<g id="line2d_288">
<g>
<use href="#m5d545ce8f8" x="592.92" y="687.24" style="stroke: #000000; stroke-width: 0.8"/>
</g>
</g>
<g id="text_151">
<text style="font-size: 10.600px; font-family: 'Liberation Sans', sans-serif" transform="translate(584.516 690.8269)" y="0"><tspan x="-15.5272" textLength="5.6303" lengthAdjust="spacingAndGlyphs">3</tspan><tspan x="-9.4597" textLength="3.0063" lengthAdjust="spacingAndGlyphs">.</tspan><tspan x="-6.1149" textLength="5.8626" lengthAdjust="spacingAndGlyphs">0</tspan></text>
</g>
</g>
<g id="text_152">
<text style="font-size: 21.200px; font-family: 'Liberation Sans', sans-serif" transform="translate(561.6 814.176) rotate(-90)" y="0"><tspan x="-110.3335" textLength="18.9821" lengthAdjust="spacingAndGlyphs">m</tspan><tspan x="-90.7171" textLength="10.0023" lengthAdjust="spacingAndGlyphs">a</tspan><tspan x="-78.5714" textLength="11.093" lengthAdjust="spacingAndGlyphs">x</tspan><tspan x="-66.9878" dy="1.44" textLength="9.9203" lengthAdjust="spacingAndGlyphs">_</tspan><tspan x="-56.6253" dy="-1.44" textLength="10.0023" lengthAdjust="spacingAndGlyphs">a</tspan><tspan x="-44.3927" textLength="12.1013" lengthAdjust="spacingAndGlyphs">b</tspan><tspan x="-31.5609" textLength="9.5857" lengthAdjust="spacingAndGlyphs">s</tspan><tspan x="-21.6167" dy="1.44" textLength="9.9203" lengthAdjust="spacingAndGlyphs">_</tspan><tspan x="-11.1842" dy="-1.44" textLength="4.5421" lengthAdjust="spacingAndGlyphs">l</tspan><tspan x="-5.6976" textLength="10.0023" lengthAdjust="spacingAndGlyphs">a</tspan><tspan x="6.2536" textLength="7.4266" lengthAdjust="spacingAndGlyphs">t</tspan><tspan x="14.1487" textLength="12.0143" lengthAdjust="spacingAndGlyphs">e</tspan><tspan x="26.3823" textLength="8.5333" lengthAdjust="spacingAndGlyphs">r</tspan><tspan x="34.9274" textLength="10.0023" lengthAdjust="spacingAndGlyphs">a</tspan><tspan x="47.2533" textLength="4.5421" lengthAdjust="spacingAndGlyphs">l</tspan><tspan x="52.3774" dy="1.44" textLength="9.9203" lengthAdjust="spacingAndGlyphs">_</tspan><tspan x="62.4886" dy="-1.44" textLength="12.0143" lengthAdjust="spacingAndGlyphs">e</tspan><tspan x="74.7222" textLength="8.5333" lengthAdjust="spacingAndGlyphs">r</tspan><tspan x="82.5698" textLength="8.5333" lengthAdjust="spacingAndGlyphs">r</tspan><tspan x="90.3884" textLength="11.8247" lengthAdjust="spacingAndGlyphs">o</tspan><tspan x="102.5288" textLength="8.5333" lengthAdjust="spacingAndGlyphs">r</tspan></text>
</g>
</g>
<g id="line2d_289">
<path d="M 613.998655 897.521089
L 641.252736 915.849375
L 686.375387 915.445668
L 776.620689 916.73753
L 866.86599 916.414564
L 957.111292 915.445668
L 1049.251745 916.414564
" clip-path="url(#p06bfef8a76)" style="fill: none; stroke: #1f77b4; stroke-width: 1.5; stroke-linecap: square"/>
<g clip-path="url(#p06bfef8a76)">
<use href="#mf14c53ed57" x="614.52" y="898.2" style="fill: #1f77b4; stroke: #1f77b4"/>
<use href="#mf14c53ed57" x="641.88" y="916.2" style="fill: #1f77b4; stroke: #1f77b4"/>
<use href="#mf14c53ed57" x="686.52" y="915.48" style="fill: #1f77b4; stroke: #1f77b4"/>
<use href="#mf14c53ed57" x="777.24" y="916.92" style="fill: #1f77b4; stroke: #1f77b4"/>
<use href="#mf14c53ed57" x="867.24" y="916.92" style="fill: #1f77b4; stroke: #1f77b4"/>
<use href="#mf14c53ed57" x="957.24" y="915.48" style="fill: #1f77b4; stroke: #1f77b4"/>
<use href="#mf14c53ed57" x="1049.4" y="916.92" style="fill: #1f77b4; stroke: #1f77b4"/>
</g>
</g>
<g id="line2d_290">
<path d="M 613.998655 890.254367
L 641.252736 903.334466
L 686.375387 913.992324
L 776.620689 915.445668
L 866.86599 912.054531
L 957.111292 913.992324
L 1049.251745 916.414564
" clip-path="url(#p06bfef8a76)" style="fill: none; stroke: #ff7f0e; stroke-width: 1.5; stroke-linecap: square"/>
<g clip-path="url(#p06bfef8a76)">
<use href="#mcd47077251" x="614.52" y="890.28" style="fill: #ff7f0e; stroke: #ff7f0e"/>
<use href="#mcd47077251" x="641.88" y="903.96" style="fill: #ff7f0e; stroke: #ff7f0e"/>
<use href="#mcd47077251" x="686.52" y="914.04" style="fill: #ff7f0e; stroke: #ff7f0e"/>
<use href="#mcd47077251" x="777.24" y="915.48" style="fill: #ff7f0e; stroke: #ff7f0e"/>
<use href="#mcd47077251" x="867.24" y="912.6" style="fill: #ff7f0e; stroke: #ff7f0e"/>
<use href="#mcd47077251" x="957.24" y="914.04" style="fill: #ff7f0e; stroke: #ff7f0e"/>
<use href="#mcd47077251" x="1049.4" y="916.92" style="fill: #ff7f0e; stroke: #ff7f0e"/>
</g>
</g>
<g id="line2d_291">
<path d="M 686.16 937.44 L 686.16 686.88" clip-path="url(#p06bfef8a76)" style="fill: none; stroke-dasharray: 5.55,2.4; stroke-dashoffset: 0; stroke: #000000; stroke-width: 1.5"/>
</g>
<g id="patch_49">
<path d="M 592.92 950.04 L 592.92 675" style="fill: none; stroke: #000000; stroke-width: 0.8; stroke-linejoin: miter; stroke-linecap: square"/>
</g>
<g id="patch_50">
<path d="M 1071.72 950.04 L 1071.72 675" style="fill: none; stroke: #000000; stroke-width: 0.8; stroke-linejoin: miter; stroke-linecap: square"/>
</g>
<g id="patch_51">
<path d="M 592.92 950.04 L 1071.72 950.04" style="fill: none; stroke: #000000; stroke-width: 0.8; stroke-linejoin: miter; stroke-linecap: square"/>
</g>
<g id="patch_52">
<path d="M 592.92 675 L 1071.72 675" style="fill: none; stroke: #000000; stroke-width: 0.8; stroke-linejoin: miter; stroke-linecap: square"/>
</g>
</g>
<g id="axes_11">
<g id="patch_53">
<path d="M 1129.536 949.68
L 1608.3144 949.68
L 1608.3144 674.352
L 1129.536 674.352
z
" style="fill: #ffffff"/>
</g>
<g id="matplotlib.axis_21">
<g id="xtick_65">
<g id="line2d_292">
<path d="M 1151.64 950.04 L 1151.64 675" clip-path="url(#p01e24611c2)" style="fill: none; stroke: #b0b0b0; stroke-width: 0.8; stroke-linecap: square"/>
</g>
<g id="line2d_293">
<g>
<use href="#m1504cfccaf" x="1151.64" y="950.04" style="stroke: #000000; stroke-width: 0.8"/>
</g>
</g>
<g id="text_153">
<text style="font-size: 10.600px; font-family: 'Liberation Sans', sans-serif" transform="translate(1151.2987 964.6)" y="0"><tspan x="-7.7043" textLength="5.8626" lengthAdjust="spacingAndGlyphs">0</tspan><tspan x="-1.508" textLength="3.0063" lengthAdjust="spacingAndGlyphs">.</tspan><tspan x="1.8368" textLength="5.8626" lengthAdjust="spacingAndGlyphs">0</tspan></text>
</g>
</g>
<g id="xtick_66">
<g id="line2d_294">
<path d="M 1206.36 950.04 L 1206.36 675" clip-path="url(#p01e24611c2)" style="fill: none; stroke: #b0b0b0; stroke-width: 0.8; stroke-linecap: square"/>
</g>
<g id="line2d_295">
<g>
<use href="#m1504cfccaf" x="1206.36" y="950.04" style="stroke: #000000; stroke-width: 0.8"/>
</g>
</g>
<g id="text_154">
<text style="font-size: 10.600px; font-family: 'Liberation Sans', sans-serif" transform="translate(1206.4253 964.6)" y="0"><tspan x="-7.7043" textLength="5.8626" lengthAdjust="spacingAndGlyphs">0</tspan><tspan x="-1.508" textLength="3.0063" lengthAdjust="spacingAndGlyphs">.</tspan><tspan x="1.9625" textLength="5.5329" lengthAdjust="spacingAndGlyphs">5</tspan></text>
</g>
</g>
<g id="xtick_67">
<g id="line2d_296">
<path d="M 1260.36 950.04 L 1260.36 675" clip-path="url(#p01e24611c2)" style="fill: none; stroke: #b0b0b0; stroke-width: 0.8; stroke-linecap: square"/>
</g>
<g id="line2d_297">
<g>
<use href="#m1504cfccaf" x="1260.36" y="950.04" style="stroke: #000000; stroke-width: 0.8"/>
</g>
</g>
<g id="text_155">
<text style="font-size: 10.600px; font-family: 'Liberation Sans', sans-serif" transform="translate(1260.1119 964.6)" y="0"><tspan x="-7.6199" textLength="5.5993" lengthAdjust="spacingAndGlyphs">1</tspan><tspan x="-1.508" textLength="3.0063" lengthAdjust="spacingAndGlyphs">.</tspan><tspan x="1.8368" textLength="5.8626" lengthAdjust="spacingAndGlyphs">0</tspan></text>
</g>
</g>
<g id="xtick_68">
<g id="line2d_298">
<path d="M 1315.08 950.04 L 1315.08 675" clip-path="url(#p01e24611c2)" style="fill: none; stroke: #b0b0b0; stroke-width: 0.8; stroke-linecap: square"/>
</g>
<g id="line2d_299">
<g>
<use href="#m1504cfccaf" x="1315.08" y="950.04" style="stroke: #000000; stroke-width: 0.8"/>
</g>
</g>
<g id="text_156">
<text style="font-size: 10.600px; font-family: 'Liberation Sans', sans-serif" transform="translate(1314.5186 964.6)" y="0"><tspan x="-7.6199" textLength="5.5993" lengthAdjust="spacingAndGlyphs">1</tspan><tspan x="-1.508" textLength="3.0063" lengthAdjust="spacingAndGlyphs">.</tspan><tspan x="1.9625" textLength="5.5329" lengthAdjust="spacingAndGlyphs">5</tspan></text>
</g>
</g>
<g id="xtick_69">
<g id="line2d_300">
<path d="M 1369.08 950.04 L 1369.08 675" clip-path="url(#p01e24611c2)" style="fill: none; stroke: #b0b0b0; stroke-width: 0.8; stroke-linecap: square"/>
</g>
<g id="line2d_301">
<g>
<use href="#m1504cfccaf" x="1369.08" y="950.04" style="stroke: #000000; stroke-width: 0.8"/>
</g>
</g>
<g id="text_157">
<text style="font-size: 10.600px; font-family: 'Liberation Sans', sans-serif" transform="translate(1368.9252 964.6)" y="0"><tspan x="-7.7303" textLength="5.6509" lengthAdjust="spacingAndGlyphs">2</tspan><tspan x="-1.508" textLength="3.0063" lengthAdjust="spacingAndGlyphs">.</tspan><tspan x="1.8368" textLength="5.8626" lengthAdjust="spacingAndGlyphs">0</tspan></text>
</g>
</g>
<g id="xtick_70">
<g id="line2d_302">
<path d="M 1423.8 950.04 L 1423.8 675" clip-path="url(#p01e24611c2)" style="fill: none; stroke: #b0b0b0; stroke-width: 0.8; stroke-linecap: square"/>
</g>
<g id="line2d_303">
<g>
<use href="#m1504cfccaf" x="1423.8" y="950.04" style="stroke: #000000; stroke-width: 0.8"/>
</g>
</g>
<g id="text_158">
<text style="font-size: 10.600px; font-family: 'Liberation Sans', sans-serif" transform="translate(1423.3318 964.6)" y="0"><tspan x="-7.7303" textLength="5.6509" lengthAdjust="spacingAndGlyphs">2</tspan><tspan x="-1.508" textLength="3.0063" lengthAdjust="spacingAndGlyphs">.</tspan><tspan x="1.9625" textLength="5.5329" lengthAdjust="spacingAndGlyphs">5</tspan></text>
</g>
</g>
<g id="xtick_71">
<g id="line2d_304">
<path d="M 1477.8 950.04 L 1477.8 675" clip-path="url(#p01e24611c2)" style="fill: none; stroke: #b0b0b0; stroke-width: 0.8; stroke-linecap: square"/>
</g>
<g id="line2d_305">
<g>
<use href="#m1504cfccaf" x="1477.8" y="950.04" style="stroke: #000000; stroke-width: 0.8"/>
</g>
</g>
<g id="text_159">
<text style="font-size: 10.600px; font-family: 'Liberation Sans', sans-serif" transform="translate(1477.7385 964.6)" y="0"><tspan x="-7.5755" textLength="5.6303" lengthAdjust="spacingAndGlyphs">3</tspan><tspan x="-1.508" textLength="3.0063" lengthAdjust="spacingAndGlyphs">.</tspan><tspan x="1.8368" textLength="5.8626" lengthAdjust="spacingAndGlyphs">0</tspan></text>
</g>
</g>
<g id="xtick_72">
<g id="line2d_306">
<path d="M 1532.52 950.04 L 1532.52 675" clip-path="url(#p01e24611c2)" style="fill: none; stroke: #b0b0b0; stroke-width: 0.8; stroke-linecap: square"/>
</g>
<g id="line2d_307">
<g>
<use href="#m1504cfccaf" x="1532.52" y="950.04" style="stroke: #000000; stroke-width: 0.8"/>
</g>
</g>
<g id="text_160">
<text style="font-size: 10.600px; font-family: 'Liberation Sans', sans-serif" transform="translate(1531.4251 964.6)" y="0"><tspan x="-7.5755" textLength="5.6303" lengthAdjust="spacingAndGlyphs">3</tspan><tspan x="-1.508" textLength="3.0063" lengthAdjust="spacingAndGlyphs">.</tspan><tspan x="1.9625" textLength="5.5329" lengthAdjust="spacingAndGlyphs">5</tspan></text>
</g>
</g>
<g id="xtick_73">
<g id="line2d_308">
<path d="M 1587.24 950.04 L 1587.24 675" clip-path="url(#p01e24611c2)" style="fill: none; stroke: #b0b0b0; stroke-width: 0.8; stroke-linecap: square"/>
</g>
<g id="line2d_309">
<g>
<use href="#m1504cfccaf" x="1587.24" y="950.04" style="stroke: #000000; stroke-width: 0.8"/>
</g>
</g>
<g id="text_161">
<text style="font-size: 10.600px; font-family: 'Liberation Sans', sans-serif" transform="translate(1586.5517 964.6)" y="0"><tspan x="-7.7053" textLength="5.8633" lengthAdjust="spacingAndGlyphs">4</tspan><tspan x="-1.508" textLength="3.0063" lengthAdjust="spacingAndGlyphs">.</tspan><tspan x="1.8368" textLength="5.8626" lengthAdjust="spacingAndGlyphs">0</tspan></text>
</g>
</g>
<g id="text_162">
<text style="font-size: 21.200px; font-family: 'Liberation Sans', sans-serif" transform="translate(1368.9252 986.6)" y="0"><tspan x="-77.022" textLength="10.7921" lengthAdjust="spacingAndGlyphs">v</tspan><tspan x="-65.5222" textLength="12.0143" lengthAdjust="spacingAndGlyphs">e</tspan><tspan x="-53.0924" textLength="12.0757" lengthAdjust="spacingAndGlyphs">h</tspan><tspan x="-40.2104" textLength="4.5421" lengthAdjust="spacingAndGlyphs">i</tspan><tspan x="-34.9199" textLength="10.034" lengthAdjust="spacingAndGlyphs">c</tspan><tspan x="-23.6676" textLength="4.5421" lengthAdjust="spacingAndGlyphs">l</tspan><tspan x="-18.4323" textLength="12.0143" lengthAdjust="spacingAndGlyphs">e</tspan><tspan x="-6.2388" dy="1.44" textLength="9.9203" lengthAdjust="spacingAndGlyphs">_</tspan><tspan x="3.819" dy="-1.44" textLength="7.4266" lengthAdjust="spacingAndGlyphs">t</tspan><tspan x="12.0716" textLength="10.7389" lengthAdjust="spacingAndGlyphs">y</tspan><tspan x="23.7782" textLength="12.1013" lengthAdjust="spacingAndGlyphs">p</tspan><tspan x="36.2454" textLength="12.0143" lengthAdjust="spacingAndGlyphs">e</tspan><tspan> </tspan><tspan x="54.9551" dy="-0.3991" textLength="5.7887" lengthAdjust="spacingAndGlyphs">[</tspan><tspan x="62.543" dy="0.3991" textLength="7.1796" lengthAdjust="spacingAndGlyphs">-</tspan><tspan x="71.5218" dy="-0.3991" textLength="5.7887" lengthAdjust="spacingAndGlyphs">]</tspan></text>
</g>
</g>
<g id="matplotlib.axis_22">
<g id="ytick_67">
<g id="line2d_310">
<path d="M 1130.04 929.16 L 1608.84 929.16" clip-path="url(#p01e24611c2)" style="fill: none; stroke: #b0b0b0; stroke-width: 0.8; stroke-linecap: square"/>
</g>
<g id="line2d_311">
<g>
<use href="#m5d545ce8f8" x="1130.04" y="929.16" style="stroke: #000000; stroke-width: 0.8"/>
</g>
</g>
<g id="text_163">
<text style="font-size: 10.600px; font-family: 'Liberation Sans', sans-serif" transform="translate(1122.536 933.051)" y="0"><tspan x="-15.6559" textLength="5.8626" lengthAdjust="spacingAndGlyphs">0</tspan><tspan x="-9.4597" textLength="3.0063" lengthAdjust="spacingAndGlyphs">.</tspan><tspan x="-6.1149" textLength="5.8626" lengthAdjust="spacingAndGlyphs">0</tspan></text>
</g>
</g>
<g id="ytick_68">
<g id="line2d_312">
<path d="M 1130.04 888.84 L 1608.84 888.84" clip-path="url(#p01e24611c2)" style="fill: none; stroke: #b0b0b0; stroke-width: 0.8; stroke-linecap: square"/>
</g>
<g id="line2d_313">
<g>
<use href="#m5d545ce8f8" x="1130.04" y="888.84" style="stroke: #000000; stroke-width: 0.8"/>
</g>
</g>
<g id="text_164">
<text style="font-size: 10.600px; font-family: 'Liberation Sans', sans-serif" transform="translate(1123.256 892.6803)" y="0"><tspan x="-15.6559" textLength="5.8626" lengthAdjust="spacingAndGlyphs">0</tspan><tspan x="-9.4597" textLength="3.0063" lengthAdjust="spacingAndGlyphs">.</tspan><tspan x="-5.9891" textLength="5.5329" lengthAdjust="spacingAndGlyphs">5</tspan></text>
</g>
</g>
<g id="ytick_69">
<g id="line2d_314">
<path d="M 1130.04 848.52 L 1608.84 848.52" clip-path="url(#p01e24611c2)" style="fill: none; stroke: #b0b0b0; stroke-width: 0.8; stroke-linecap: square"/>
</g>
<g id="line2d_315">
<g>
<use href="#m5d545ce8f8" x="1130.04" y="848.52" style="stroke: #000000; stroke-width: 0.8"/>
</g>
</g>
<g id="text_165">
<text style="font-size: 10.600px; font-family: 'Liberation Sans', sans-serif" transform="translate(1122.536 852.3096)" y="0"><tspan x="-15.5716" textLength="5.5993" lengthAdjust="spacingAndGlyphs">1</tspan><tspan x="-9.4597" textLength="3.0063" lengthAdjust="spacingAndGlyphs">.</tspan><tspan x="-6.1149" textLength="5.8626" lengthAdjust="spacingAndGlyphs">0</tspan></text>
</g>
</g>
<g id="ytick_70">
<g id="line2d_316">
<path d="M 1130.04 808.2 L 1608.84 808.2" clip-path="url(#p01e24611c2)" style="fill: none; stroke: #b0b0b0; stroke-width: 0.8; stroke-linecap: square"/>
</g>
<g id="line2d_317">
<g>
<use href="#m5d545ce8f8" x="1130.04" y="808.2" style="stroke: #000000; stroke-width: 0.8"/>
</g>
</g>
<g id="text_166">
<text style="font-size: 10.600px; font-family: 'Liberation Sans', sans-serif" transform="translate(1122.536 811.9389)" y="0"><tspan x="-15.5716" textLength="5.5993" lengthAdjust="spacingAndGlyphs">1</tspan><tspan x="-9.4597" textLength="3.0063" lengthAdjust="spacingAndGlyphs">.</tspan><tspan x="-5.9891" textLength="5.5329" lengthAdjust="spacingAndGlyphs">5</tspan></text>
</g>
</g>
<g id="ytick_71">
<g id="line2d_318">
<path d="M 1130.04 767.88 L 1608.84 767.88" clip-path="url(#p01e24611c2)" style="fill: none; stroke: #b0b0b0; stroke-width: 0.8; stroke-linecap: square"/>
</g>
<g id="line2d_319">
<g>
<use href="#m5d545ce8f8" x="1130.04" y="767.88" style="stroke: #000000; stroke-width: 0.8"/>
</g>
</g>
<g id="text_167">
<text style="font-size: 10.600px; font-family: 'Liberation Sans', sans-serif" transform="translate(1122.536 771.5683)" y="0"><tspan x="-15.6819" textLength="5.6509" lengthAdjust="spacingAndGlyphs">2</tspan><tspan x="-9.4597" textLength="3.0063" lengthAdjust="spacingAndGlyphs">.</tspan><tspan x="-6.1149" textLength="5.8626" lengthAdjust="spacingAndGlyphs">0</tspan></text>
</g>
</g>
<g id="ytick_72">
<g id="line2d_320">
<path d="M 1130.04 727.56 L 1608.84 727.56" clip-path="url(#p01e24611c2)" style="fill: none; stroke: #b0b0b0; stroke-width: 0.8; stroke-linecap: square"/>
</g>
<g id="line2d_321">
<g>
<use href="#m5d545ce8f8" x="1130.04" y="727.56" style="stroke: #000000; stroke-width: 0.8"/>
</g>
</g>
<g id="text_168">
<text style="font-size: 10.600px; font-family: 'Liberation Sans', sans-serif" transform="translate(1122.536 731.1976)" y="0"><tspan x="-15.6819" textLength="5.6509" lengthAdjust="spacingAndGlyphs">2</tspan><tspan x="-9.4597" textLength="3.0063" lengthAdjust="spacingAndGlyphs">.</tspan><tspan x="-5.9891" textLength="5.5329" lengthAdjust="spacingAndGlyphs">5</tspan></text>
</g>
</g>
<g id="ytick_73">
<g id="line2d_322">
<path d="M 1130.04 687.24 L 1608.84 687.24" clip-path="url(#p01e24611c2)" style="fill: none; stroke: #b0b0b0; stroke-width: 0.8; stroke-linecap: square"/>
</g>
<g id="line2d_323">
<g>
<use href="#m5d545ce8f8" x="1130.04" y="687.24" style="stroke: #000000; stroke-width: 0.8"/>
</g>
</g>
<g id="text_169">
<text style="font-size: 10.600px; font-family: 'Liberation Sans', sans-serif" transform="translate(1121.816 690.8269)" y="0"><tspan x="-15.5272" textLength="5.6303" lengthAdjust="spacingAndGlyphs">3</tspan><tspan x="-9.4597" textLength="3.0063" lengthAdjust="spacingAndGlyphs">.</tspan><tspan x="-6.1149" textLength="5.8626" lengthAdjust="spacingAndGlyphs">0</tspan></text>
</g>
</g>
<g id="text_170">
<text style="font-size: 21.200px; font-family: 'Liberation Sans', sans-serif" transform="translate(1098.72 814.176) rotate(-90)" y="0"><tspan x="-110.3335" textLength="18.9821" lengthAdjust="spacingAndGlyphs">m</tspan><tspan x="-90.7171" textLength="10.0023" lengthAdjust="spacingAndGlyphs">a</tspan><tspan x="-78.5714" textLength="11.093" lengthAdjust="spacingAndGlyphs">x</tspan><tspan x="-66.9878" dy="1.44" textLength="9.9203" lengthAdjust="spacingAndGlyphs">_</tspan><tspan x="-56.6253" dy="-1.44" textLength="10.0023" lengthAdjust="spacingAndGlyphs">a</tspan><tspan x="-44.3927" textLength="12.1013" lengthAdjust="spacingAndGlyphs">b</tspan><tspan x="-31.5609" textLength="9.5857" lengthAdjust="spacingAndGlyphs">s</tspan><tspan x="-21.6167" dy="1.44" textLength="9.9203" lengthAdjust="spacingAndGlyphs">_</tspan><tspan x="-11.1842" dy="-1.44" textLength="4.5421" lengthAdjust="spacingAndGlyphs">l</tspan><tspan x="-5.6976" textLength="10.0023" lengthAdjust="spacingAndGlyphs">a</tspan><tspan x="6.2536" textLength="7.4266" lengthAdjust="spacingAndGlyphs">t</tspan><tspan x="14.1487" textLength="12.0143" lengthAdjust="spacingAndGlyphs">e</tspan><tspan x="26.3823" textLength="8.5333" lengthAdjust="spacingAndGlyphs">r</tspan><tspan x="34.9274" textLength="10.0023" lengthAdjust="spacingAndGlyphs">a</tspan><tspan x="47.2533" textLength="4.5421" lengthAdjust="spacingAndGlyphs">l</tspan><tspan x="52.3774" dy="1.44" textLength="9.9203" lengthAdjust="spacingAndGlyphs">_</tspan><tspan x="62.4886" dy="-1.44" textLength="12.0143" lengthAdjust="spacingAndGlyphs">e</tspan><tspan x="74.7222" textLength="8.5333" lengthAdjust="spacingAndGlyphs">r</tspan><tspan x="82.5698" textLength="8.5333" lengthAdjust="spacingAndGlyphs">r</tspan><tspan x="90.3884" textLength="11.8247" lengthAdjust="spacingAndGlyphs">o</tspan><tspan x="102.5288" textLength="8.5333" lengthAdjust="spacingAndGlyphs">r</tspan></text>
</g>
</g>
<g id="line2d_324">
<path d="M 1151.298655 911.731566
L 1260.111927 804.749279
L 1368.9252 917.302719
L 1477.738473 916.414564
L 1586.551745 904.626327
" clip-path="url(#p01e24611c2)" style="fill: none; stroke: #1f77b4; stroke-width: 1.5; stroke-linecap: square"/>
<g clip-path="url(#p01e24611c2)">
<use href="#mf14c53ed57" x="1151.64" y="911.88" style="fill: #1f77b4; stroke: #1f77b4"/>
<use href="#mf14c53ed57" x="1260.36" y="805.32" style="fill: #1f77b4; stroke: #1f77b4"/>
<use href="#mf14c53ed57" x="1369.08" y="917.64" style="fill: #1f77b4; stroke: #1f77b4"/>
<use href="#mf14c53ed57" x="1477.8" y="916.92" style="fill: #1f77b4; stroke: #1f77b4"/>
<use href="#mf14c53ed57" x="1587.24" y="904.68" style="fill: #1f77b4; stroke: #1f77b4"/>
</g>
</g>
<g id="line2d_325">
<path d="M 1151.298655 916.010857
L 1260.111927 703.176662
L 1368.9252 909.067101
L 1477.738473 913.911582
L 1586.551745 891.788453
" clip-path="url(#p01e24611c2)" style="fill: none; stroke: #ff7f0e; stroke-width: 1.5; stroke-linecap: square"/>
<g clip-path="url(#p01e24611c2)">
<use href="#mcd47077251" x="1151.64" y="916.2" style="fill: #ff7f0e; stroke: #ff7f0e"/>
<use href="#mcd47077251" x="1260.36" y="703.8" style="fill: #ff7f0e; stroke: #ff7f0e"/>
<use href="#mcd47077251" x="1369.08" y="909.72" style="fill: #ff7f0e; stroke: #ff7f0e"/>
<use href="#mcd47077251" x="1477.8" y="914.04" style="fill: #ff7f0e; stroke: #ff7f0e"/>
<use href="#mcd47077251" x="1587.24" y="892.44" style="fill: #ff7f0e; stroke: #ff7f0e"/>
</g>
</g>
<g id="line2d_326">
<path d="M 1151.28 937.44 L 1151.28 686.88" clip-path="url(#p01e24611c2)" style="fill: none; stroke-dasharray: 5.55,2.4; stroke-dashoffset: 0; stroke: #000000; stroke-width: 1.5"/>
</g>
<g id="patch_54">
<path d="M 1130.04 950.04 L 1130.04 675" style="fill: none; stroke: #000000; stroke-width: 0.8; stroke-linejoin: miter; stroke-linecap: square"/>
</g>
<g id="patch_55">
<path d="M 1608.84 950.04 L 1608.84 675" style="fill: none; stroke: #000000; stroke-width: 0.8; stroke-linejoin: miter; stroke-linecap: square"/>
</g>
<g id="patch_56">
<path d="M 1130.04 950.04 L 1608.84 950.04" style="fill: none; stroke: #000000; stroke-width: 0.8; stroke-linejoin: miter; stroke-linecap: square"/>
</g>
<g id="patch_57">
<path d="M 1130.04 675 L 1608.84 675" style="fill: none; stroke: #000000; stroke-width: 0.8; stroke-linejoin: miter; stroke-linecap: square"/>
</g>
<g id="text_171">
<text style="font-size: 15.900px; font-family: 'Liberation Sans', sans-serif" transform="translate(1299.8952 699.6384)" y="0"><tspan x="0.3711" textLength="8.7939" lengthAdjust="spacingAndGlyphs">0</tspan><tspan x="9.8193" dy="0.161" textLength="4.5094" lengthAdjust="spacingAndGlyphs">:</tspan><tspan> </tspan><tspan x="19.6536" dy="-0.161" textLength="8.9943" lengthAdjust="spacingAndGlyphs">n</tspan><tspan x="29.0301" textLength="8.8685" lengthAdjust="spacingAndGlyphs">o</tspan><tspan x="38.2767" textLength="14.2366" lengthAdjust="spacingAndGlyphs">m</tspan><tspan x="53.049" textLength="3.4066" lengthAdjust="spacingAndGlyphs">i</tspan><tspan x="57.117" textLength="8.9943" lengthAdjust="spacingAndGlyphs">n</tspan><tspan x="66.6633" textLength="7.5017" lengthAdjust="spacingAndGlyphs">a</tspan><tspan x="75.9077" textLength="3.4066" lengthAdjust="spacingAndGlyphs">l</tspan><tspan> </tspan><tspan x="84.8543" textLength="8.0941" lengthAdjust="spacingAndGlyphs">v</tspan><tspan x="93.4792" textLength="9.0107" lengthAdjust="spacingAndGlyphs">e</tspan><tspan x="102.8015" textLength="9.0568" lengthAdjust="spacingAndGlyphs">h</tspan><tspan x="112.4631" textLength="3.4066" lengthAdjust="spacingAndGlyphs">i</tspan><tspan x="116.4309" textLength="7.5255" lengthAdjust="spacingAndGlyphs">c</tspan><tspan x="124.8701" textLength="3.4066" lengthAdjust="spacingAndGlyphs">l</tspan><tspan x="128.7966" textLength="9.0107" lengthAdjust="spacingAndGlyphs">e</tspan></text>
<text style="font-size: 15.900px; font-family: 'Liberation Sans', sans-serif" transform="translate(1292.6952 716.3424)" y="0"><tspan x="0.4976" textLength="8.399" lengthAdjust="spacingAndGlyphs">1</tspan><tspan x="9.8193" dy="0.161" textLength="4.5094" lengthAdjust="spacingAndGlyphs">:</tspan><tspan> </tspan><tspan x="19.5984" dy="-0.161" textLength="9.0568" lengthAdjust="spacingAndGlyphs">h</tspan><tspan x="29.0114" textLength="9.0107" lengthAdjust="spacingAndGlyphs">e</tspan><tspan x="38.4285" textLength="7.5017" lengthAdjust="spacingAndGlyphs">a</tspan><tspan x="47.6839" textLength="8.0941" lengthAdjust="spacingAndGlyphs">v</tspan><tspan x="56.5769" textLength="8.0542" lengthAdjust="spacingAndGlyphs">y</tspan><tspan x="64.8103" textLength="5.3847" lengthAdjust="spacingAndGlyphs">-</tspan><tspan x="70.8611" textLength="10.9491" lengthAdjust="spacingAndGlyphs">w</tspan><tspan x="82.6164" textLength="9.0107" lengthAdjust="spacingAndGlyphs">e</tspan><tspan x="92.0934" textLength="3.4066" lengthAdjust="spacingAndGlyphs">i</tspan><tspan x="96.0161" textLength="9.0669" lengthAdjust="spacingAndGlyphs">g</tspan><tspan x="105.6277" textLength="9.0568" lengthAdjust="spacingAndGlyphs">h</tspan><tspan x="115.0007" textLength="5.5699" lengthAdjust="spacingAndGlyphs">t</tspan><tspan> </tspan><tspan x="125.8613" textLength="9.076" lengthAdjust="spacingAndGlyphs">b</tspan><tspan x="135.2964" textLength="8.9943" lengthAdjust="spacingAndGlyphs">u</tspan><tspan x="144.9919" textLength="7.1892" lengthAdjust="spacingAndGlyphs">s</tspan></text>
<text style="font-size: 15.900px; font-family: 'Liberation Sans', sans-serif" transform="translate(1298.7702 733.0464)" y="0"><tspan x="0.3321" textLength="8.4764" lengthAdjust="spacingAndGlyphs">2</tspan><tspan x="9.8193" dy="0.161" textLength="4.5094" lengthAdjust="spacingAndGlyphs">:</tspan><tspan> </tspan><tspan x="19.7456" dy="-0.161" textLength="3.4066" lengthAdjust="spacingAndGlyphs">l</tspan><tspan x="23.9206" textLength="3.4066" lengthAdjust="spacingAndGlyphs">i</tspan><tspan x="27.8432" textLength="9.0669" lengthAdjust="spacingAndGlyphs">g</tspan><tspan x="37.4549" textLength="9.0568" lengthAdjust="spacingAndGlyphs">h</tspan><tspan x="46.8279" textLength="5.5699" lengthAdjust="spacingAndGlyphs">t</tspan><tspan x="52.6238" textLength="5.3847" lengthAdjust="spacingAndGlyphs">-</tspan><tspan x="58.6746" textLength="10.9491" lengthAdjust="spacingAndGlyphs">w</tspan><tspan x="70.4299" textLength="9.0107" lengthAdjust="spacingAndGlyphs">e</tspan><tspan x="79.9069" textLength="3.4066" lengthAdjust="spacingAndGlyphs">i</tspan><tspan x="83.8296" textLength="9.0669" lengthAdjust="spacingAndGlyphs">g</tspan><tspan x="93.4412" textLength="9.0568" lengthAdjust="spacingAndGlyphs">h</tspan><tspan x="102.8142" textLength="5.5699" lengthAdjust="spacingAndGlyphs">t</tspan><tspan> </tspan><tspan x="113.6747" textLength="9.076" lengthAdjust="spacingAndGlyphs">b</tspan><tspan x="123.1099" textLength="8.9943" lengthAdjust="spacingAndGlyphs">u</tspan><tspan x="132.8054" textLength="7.1892" lengthAdjust="spacingAndGlyphs">s</tspan></text>
<text style="font-size: 15.900px; font-family: 'Liberation Sans', sans-serif" transform="translate(1310.0202 749.7504)" y="0"><tspan x="0.5642" textLength="8.4454" lengthAdjust="spacingAndGlyphs">3</tspan><tspan x="9.8193" dy="0.161" textLength="4.5094" lengthAdjust="spacingAndGlyphs">:</tspan><tspan> </tspan><tspan x="19.778" dy="-0.161" textLength="7.1892" lengthAdjust="spacingAndGlyphs">s</tspan><tspan x="27.4076" textLength="14.2366" lengthAdjust="spacingAndGlyphs">m</tspan><tspan x="42.1199" textLength="7.5017" lengthAdjust="spacingAndGlyphs">a</tspan><tspan x="51.3643" textLength="3.4066" lengthAdjust="spacingAndGlyphs">l</tspan><tspan x="55.5317" textLength="3.4066" lengthAdjust="spacingAndGlyphs">l</tspan><tspan> </tspan><tspan x="64.4784" textLength="8.0941" lengthAdjust="spacingAndGlyphs">v</tspan><tspan x="73.1032" textLength="9.0107" lengthAdjust="spacingAndGlyphs">e</tspan><tspan x="82.4256" textLength="9.0568" lengthAdjust="spacingAndGlyphs">h</tspan><tspan x="92.0871" textLength="3.4066" lengthAdjust="spacingAndGlyphs">i</tspan><tspan x="96.055" textLength="7.5255" lengthAdjust="spacingAndGlyphs">c</tspan><tspan x="104.4941" textLength="3.4066" lengthAdjust="spacingAndGlyphs">l</tspan><tspan x="108.4206" textLength="9.0107" lengthAdjust="spacingAndGlyphs">e</tspan></text>
<text style="font-size: 15.900px; font-family: 'Liberation Sans', sans-serif" transform="translate(1317.0402 766.4544)" y="0"><tspan x="0.3695" textLength="8.795" lengthAdjust="spacingAndGlyphs">4</tspan><tspan x="9.8193" dy="0.161" textLength="4.5094" lengthAdjust="spacingAndGlyphs">:</tspan><tspan> </tspan><tspan x="19.778" dy="-0.161" textLength="7.1892" lengthAdjust="spacingAndGlyphs">s</tspan><tspan x="27.4076" textLength="14.2366" lengthAdjust="spacingAndGlyphs">m</tspan><tspan x="42.1199" textLength="7.5017" lengthAdjust="spacingAndGlyphs">a</tspan><tspan x="51.3643" textLength="3.4066" lengthAdjust="spacingAndGlyphs">l</tspan><tspan x="55.5317" textLength="3.4066" lengthAdjust="spacingAndGlyphs">l</tspan><tspan> </tspan><tspan x="64.173" textLength="6.4" lengthAdjust="spacingAndGlyphs">r</tspan><tspan x="70.0369" textLength="8.8685" lengthAdjust="spacingAndGlyphs">o</tspan><tspan x="79.3666" textLength="9.076" lengthAdjust="spacingAndGlyphs">b</tspan><tspan x="88.7357" textLength="8.8685" lengthAdjust="spacingAndGlyphs">o</tspan><tspan x="97.8543" textLength="5.5699" lengthAdjust="spacingAndGlyphs">t</tspan></text>
</g>
</g>
</g>
<defs>
<clipPath id="pb34036a975">
<rect x="54.72" y="10.8" width="478.8" height="275.04"/>
</clipPath>
<clipPath id="pd9bde08748">
<rect x="592.56" y="10.8" width="478.8" height="275.04"/>
</clipPath>
<clipPath id="pf6867bfa05">
<rect x="1129.68" y="10.8" width="478.8" height="275.04"/>
</clipPath>
<clipPath id="pc8f9d3500f">
<rect x="1666.8" y="10.8" width="478.8" height="275.04"/>
</clipPath>
<clipPath id="p8d1e0f2b8f">
<rect x="54.72" y="342.72" width="478.8" height="275.04"/>
</clipPath>
<clipPath id="p86364fde44">
<rect x="592.56" y="342.72" width="478.8" height="275.04"/>
</clipPath>
<clipPath id="pb823ca9a69">
<rect x="1129.68" y="342.72" width="478.8" height="275.04"/>
</clipPath>
<clipPath id="p40abb5921b">
<rect x="1666.8" y="342.72" width="478.8" height="275.04"/>
</clipPath>
<clipPath id="pb0c076c4b3">
<rect x="54.72" y="674.64" width="478.8" height="275.04"/>
</clipPath>
<clipPath id="p06bfef8a76">
<rect x="592.56" y="674.64" width="478.8" height="275.04"/>
</clipPath>
<clipPath id="p01e24611c2">
<rect x="1129.68" y="674.64" width="478.8" height="275.04"/>
</clipPath>
</defs>
</svg>

</body></html>
